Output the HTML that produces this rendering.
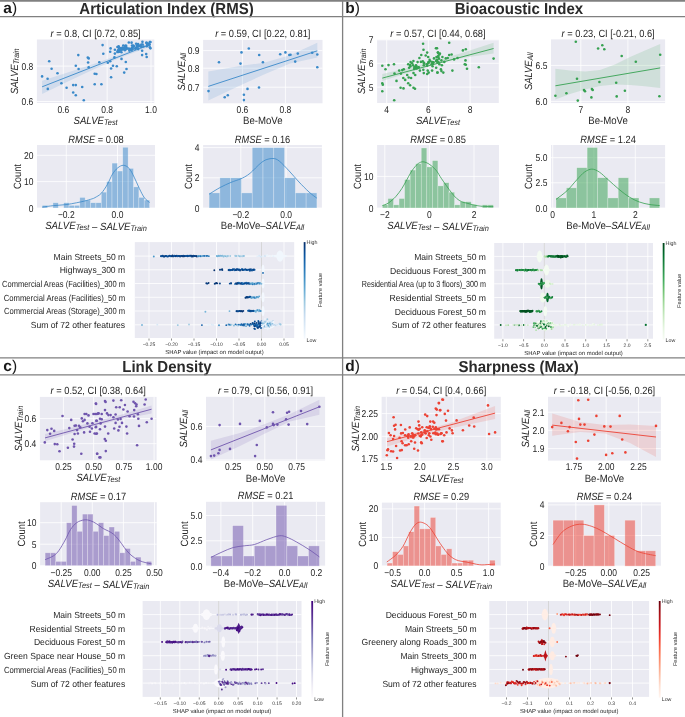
<!DOCTYPE html>
<html><head><meta charset="utf-8"><style>
html,body{margin:0;padding:0;background:#fff;}
svg{display:block;font-family:'Liberation Sans', sans-serif;will-change:transform;text-rendering:geometricPrecision;}
</style></head><body>
<svg width="685" height="717" viewBox="0 0 685 717">
<rect x="0" y="0" width="685" height="717" fill="#FFFFFF" />
<text x="3.3" y="12.9" font-size="15.5" text-anchor="start" fill="#1a1a1a" font-weight="bold" >a<tspan font-weight="normal">)</tspan></text>
<text x="0" y="0" transform="translate(166.5,14) scale(0.945,1)" font-size="15.9" text-anchor="middle" fill="#2a2a2a" font-weight="bold" >Articulation Index (RMS)</text>
<text x="345.3" y="12.9" font-size="15.5" text-anchor="start" fill="#1a1a1a" font-weight="bold" >b<tspan font-weight="normal">)</tspan></text>
<text x="0" y="0" transform="translate(518.9,14) scale(0.945,1)" font-size="15.9" text-anchor="middle" fill="#2a2a2a" font-weight="bold" >Bioacoustic Index</text>
<text x="3.3" y="371" font-size="15.5" text-anchor="start" fill="#1a1a1a" font-weight="bold" >c<tspan font-weight="normal">)</tspan></text>
<text x="0" y="0" transform="translate(166.9,372.1) scale(0.945,1)" font-size="15.9" text-anchor="middle" fill="#2a2a2a" font-weight="bold" >Link Density</text>
<text x="345.3" y="371" font-size="15.5" text-anchor="start" fill="#1a1a1a" font-weight="bold" >d<tspan font-weight="normal">)</tspan></text>
<text x="0" y="0" transform="translate(518.6,372.1) scale(0.945,1)" font-size="15.9" text-anchor="middle" fill="#2a2a2a" font-weight="bold" >Sharpness (Max)</text>
<rect x="36.9" y="39.5" width="117.4" height="63.5" fill="#EAEAF2" />
<line x1="63.3" y1="39.5" x2="63.3" y2="103" stroke="#FFFFFF" stroke-width="0.8" />
<line x1="107.15" y1="39.5" x2="107.15" y2="103" stroke="#FFFFFF" stroke-width="0.8" />
<line x1="151" y1="39.5" x2="151" y2="103" stroke="#FFFFFF" stroke-width="0.8" />
<line x1="36.9" y1="66.1" x2="154.3" y2="66.1" stroke="#FFFFFF" stroke-width="0.8" />
<line x1="36.9" y1="101.5" x2="154.3" y2="101.5" stroke="#FFFFFF" stroke-width="0.8" />
<path d="M42.1,80.7 L70,71.8 L95,63.6 L120,54.6 L150.5,42 L150.5,46.4 L120,57.8 L95,68.8 L70,80.5 L42.1,93.9Z" fill="#3A89C9" fill-opacity="0.15"/>
<line x1="42.1" y1="86.8" x2="150.5" y2="44.3" stroke="#3A89C9" stroke-width="0.9" />
<circle cx="42.1" cy="76.4" r="1.3" fill="#3A89C9"/>
<circle cx="49.2" cy="61.2" r="1.3" fill="#3A89C9"/>
<circle cx="51.6" cy="68.8" r="1.3" fill="#3A89C9"/>
<circle cx="47.6" cy="78.8" r="1.3" fill="#3A89C9"/>
<circle cx="47.8" cy="88.9" r="1.3" fill="#3A89C9"/>
<circle cx="57.5" cy="73.3" r="1.3" fill="#3A89C9"/>
<circle cx="61.4" cy="83.3" r="1.3" fill="#3A89C9"/>
<circle cx="66.6" cy="87.8" r="1.3" fill="#3A89C9"/>
<circle cx="73.2" cy="85.1" r="1.3" fill="#3A89C9"/>
<circle cx="75.8" cy="85.1" r="1.3" fill="#3A89C9"/>
<circle cx="73.2" cy="92.5" r="1.3" fill="#3A89C9"/>
<circle cx="75.8" cy="95.3" r="1.3" fill="#3A89C9"/>
<circle cx="82.2" cy="87" r="1.3" fill="#3A89C9"/>
<circle cx="83.8" cy="100.3" r="1.3" fill="#3A89C9"/>
<circle cx="78.3" cy="55.1" r="1.3" fill="#3A89C9"/>
<circle cx="75.8" cy="65.7" r="1.3" fill="#3A89C9"/>
<circle cx="78.6" cy="69" r="1.3" fill="#3A89C9"/>
<circle cx="87.8" cy="57.6" r="1.3" fill="#3A89C9"/>
<circle cx="88.7" cy="58.4" r="1.3" fill="#3A89C9"/>
<circle cx="88.1" cy="62.5" r="1.3" fill="#3A89C9"/>
<circle cx="88.7" cy="67.2" r="1.3" fill="#3A89C9"/>
<circle cx="94.7" cy="73.8" r="1.3" fill="#3A89C9"/>
<circle cx="94.7" cy="84.3" r="1.3" fill="#3A89C9"/>
<circle cx="102.6" cy="45.1" r="1.3" fill="#3A89C9"/>
<circle cx="103.3" cy="53.8" r="1.3" fill="#3A89C9"/>
<circle cx="99.3" cy="62.2" r="1.3" fill="#3A89C9"/>
<circle cx="96.4" cy="74" r="1.3" fill="#3A89C9"/>
<circle cx="101.4" cy="84.2" r="1.3" fill="#3A89C9"/>
<circle cx="107.8" cy="62.8" r="1.3" fill="#3A89C9"/>
<circle cx="110.2" cy="61.2" r="1.3" fill="#3A89C9"/>
<circle cx="110.6" cy="48.4" r="1.3" fill="#3A89C9"/>
<circle cx="110.2" cy="51.7" r="1.3" fill="#3A89C9"/>
<circle cx="113" cy="65.7" r="1.3" fill="#3A89C9"/>
<circle cx="111.1" cy="68.5" r="1.3" fill="#3A89C9"/>
<circle cx="116.8" cy="66.2" r="1.3" fill="#3A89C9"/>
<circle cx="111.1" cy="77.3" r="1.3" fill="#3A89C9"/>
<circle cx="114.9" cy="49.8" r="1.3" fill="#3A89C9"/>
<circle cx="114.9" cy="53.6" r="1.3" fill="#3A89C9"/>
<circle cx="114.4" cy="57.4" r="1.3" fill="#3A89C9"/>
<circle cx="121.5" cy="58.9" r="1.3" fill="#3A89C9"/>
<circle cx="125.8" cy="62" r="1.3" fill="#3A89C9"/>
<circle cx="126.5" cy="69" r="1.3" fill="#3A89C9"/>
<circle cx="124.2" cy="72.6" r="1.3" fill="#3A89C9"/>
<circle cx="142.1" cy="55.1" r="1.3" fill="#3A89C9"/>
<circle cx="146.2" cy="54.1" r="1.3" fill="#3A89C9"/>
<circle cx="146.7" cy="57" r="1.3" fill="#3A89C9"/>
<circle cx="131.61" cy="42.67" r="1.3" fill="#3A89C9"/>
<circle cx="132.06" cy="45.53" r="1.3" fill="#3A89C9"/>
<circle cx="133.52" cy="45.92" r="1.3" fill="#3A89C9"/>
<circle cx="133.66" cy="46.38" r="1.3" fill="#3A89C9"/>
<circle cx="137.73" cy="46.64" r="1.3" fill="#3A89C9"/>
<circle cx="126.47" cy="47.53" r="1.3" fill="#3A89C9"/>
<circle cx="119.13" cy="51.2" r="1.3" fill="#3A89C9"/>
<circle cx="117.44" cy="46.93" r="1.3" fill="#3A89C9"/>
<circle cx="149.89" cy="47.33" r="1.3" fill="#3A89C9"/>
<circle cx="137.24" cy="45.73" r="1.3" fill="#3A89C9"/>
<circle cx="121.43" cy="52.27" r="1.3" fill="#3A89C9"/>
<circle cx="118.05" cy="50.38" r="1.3" fill="#3A89C9"/>
<circle cx="122.56" cy="49.28" r="1.3" fill="#3A89C9"/>
<circle cx="132.01" cy="48.03" r="1.3" fill="#3A89C9"/>
<circle cx="131.2" cy="49.14" r="1.3" fill="#3A89C9"/>
<circle cx="138.09" cy="43.98" r="1.3" fill="#3A89C9"/>
<circle cx="133.24" cy="45.89" r="1.3" fill="#3A89C9"/>
<circle cx="125.6" cy="46.51" r="1.3" fill="#3A89C9"/>
<circle cx="150.42" cy="48.36" r="1.3" fill="#3A89C9"/>
<circle cx="140.42" cy="45.74" r="1.3" fill="#3A89C9"/>
<circle cx="126.88" cy="48.68" r="1.3" fill="#3A89C9"/>
<circle cx="118.42" cy="51.92" r="1.3" fill="#3A89C9"/>
<circle cx="142.44" cy="41.87" r="1.3" fill="#3A89C9"/>
<circle cx="129.33" cy="50.58" r="1.3" fill="#3A89C9"/>
<circle cx="149.05" cy="44.26" r="1.3" fill="#3A89C9"/>
<circle cx="123.24" cy="49.06" r="1.3" fill="#3A89C9"/>
<circle cx="147.4" cy="45.4" r="1.3" fill="#3A89C9"/>
<circle cx="129.71" cy="49.1" r="1.3" fill="#3A89C9"/>
<circle cx="118.52" cy="47.28" r="1.3" fill="#3A89C9"/>
<circle cx="125.31" cy="45.83" r="1.3" fill="#3A89C9"/>
<circle cx="119.01" cy="46.99" r="1.3" fill="#3A89C9"/>
<circle cx="142.15" cy="50.68" r="1.3" fill="#3A89C9"/>
<circle cx="120.07" cy="49.75" r="1.3" fill="#3A89C9"/>
<circle cx="118.07" cy="51.17" r="1.3" fill="#3A89C9"/>
<circle cx="143.5" cy="46.57" r="1.3" fill="#3A89C9"/>
<circle cx="131.44" cy="50.21" r="1.3" fill="#3A89C9"/>
<circle cx="122.58" cy="49.11" r="1.3" fill="#3A89C9"/>
<circle cx="138.21" cy="45.07" r="1.3" fill="#3A89C9"/>
<circle cx="120.02" cy="48.34" r="1.3" fill="#3A89C9"/>
<circle cx="125.31" cy="49.49" r="1.3" fill="#3A89C9"/>
<circle cx="149.5" cy="44.78" r="1.3" fill="#3A89C9"/>
<circle cx="146.53" cy="42.85" r="1.3" fill="#3A89C9"/>
<circle cx="123.27" cy="45.56" r="1.3" fill="#3A89C9"/>
<circle cx="138.14" cy="49.08" r="1.3" fill="#3A89C9"/>
<circle cx="119.46" cy="51.43" r="1.3" fill="#3A89C9"/>
<circle cx="124.91" cy="48.7" r="1.3" fill="#3A89C9"/>
<circle cx="142.66" cy="44.52" r="1.3" fill="#3A89C9"/>
<circle cx="118.53" cy="51.71" r="1.3" fill="#3A89C9"/>
<circle cx="119.11" cy="48.42" r="1.3" fill="#3A89C9"/>
<circle cx="136.74" cy="45.71" r="1.3" fill="#3A89C9"/>
<circle cx="128.82" cy="42.5" r="1.3" fill="#3A89C9"/>
<circle cx="132.69" cy="49.01" r="1.3" fill="#3A89C9"/>
<circle cx="135.82" cy="47.71" r="1.3" fill="#3A89C9"/>
<circle cx="121.32" cy="48.4" r="1.3" fill="#3A89C9"/>
<circle cx="147.34" cy="45.27" r="1.3" fill="#3A89C9"/>
<circle cx="122.55" cy="47.67" r="1.3" fill="#3A89C9"/>
<circle cx="141.51" cy="47.07" r="1.3" fill="#3A89C9"/>
<circle cx="148.78" cy="43.72" r="1.3" fill="#3A89C9"/>
<circle cx="146.44" cy="42.8" r="1.3" fill="#3A89C9"/>
<circle cx="119.58" cy="48.36" r="1.3" fill="#3A89C9"/>
<circle cx="117.34" cy="51.9" r="1.3" fill="#3A89C9"/>
<circle cx="140.31" cy="45.49" r="1.3" fill="#3A89C9"/>
<circle cx="124.87" cy="50.2" r="1.3" fill="#3A89C9"/>
<circle cx="126.12" cy="45.8" r="1.3" fill="#3A89C9"/>
<circle cx="122.05" cy="49.19" r="1.3" fill="#3A89C9"/>
<circle cx="123.88" cy="48.15" r="1.3" fill="#3A89C9"/>
<circle cx="135.3" cy="48.74" r="1.3" fill="#3A89C9"/>
<circle cx="125.67" cy="46.12" r="1.3" fill="#3A89C9"/>
<circle cx="147.65" cy="44.61" r="1.3" fill="#3A89C9"/>
<circle cx="125.29" cy="49.14" r="1.3" fill="#3A89C9"/>
<circle cx="131.38" cy="48.91" r="1.3" fill="#3A89C9"/>
<circle cx="128.72" cy="48.61" r="1.3" fill="#3A89C9"/>
<circle cx="135.74" cy="48.23" r="1.3" fill="#3A89C9"/>
<circle cx="146.74" cy="46.26" r="1.3" fill="#3A89C9"/>
<circle cx="149.83" cy="42.13" r="1.3" fill="#3A89C9"/>
<circle cx="136.16" cy="43.73" r="1.3" fill="#3A89C9"/>
<circle cx="120.84" cy="50.01" r="1.3" fill="#3A89C9"/>
<circle cx="147.4" cy="44.63" r="1.3" fill="#3A89C9"/>
<circle cx="140.18" cy="46.37" r="1.3" fill="#3A89C9"/>
<circle cx="137.95" cy="46.22" r="1.3" fill="#3A89C9"/>
<circle cx="132.64" cy="47.09" r="1.3" fill="#3A89C9"/>
<circle cx="150.48" cy="41.95" r="1.3" fill="#3A89C9"/>
<circle cx="118.6" cy="46.4" r="1.3" fill="#3A89C9"/>
<circle cx="147.06" cy="43.53" r="1.3" fill="#3A89C9"/>
<circle cx="141.43" cy="44.5" r="1.3" fill="#3A89C9"/>
<text x="0" y="0" transform="translate(63.3,112.8) scale(0.86,1)" font-size="9.9" text-anchor="middle" fill="#262626" >0.6</text>
<text x="0" y="0" transform="translate(107.15,112.8) scale(0.86,1)" font-size="9.9" text-anchor="middle" fill="#262626" >0.8</text>
<text x="0" y="0" transform="translate(151,112.8) scale(0.86,1)" font-size="9.9" text-anchor="middle" fill="#262626" >1.0</text>
<text x="0" y="0" transform="translate(33.3,69.6) scale(0.86,1)" font-size="9.9" text-anchor="end" fill="#262626" >0.8</text>
<text x="0" y="0" transform="translate(33.3,105) scale(0.86,1)" font-size="9.9" text-anchor="end" fill="#262626" >0.6</text>
<text x="0" y="0" transform="translate(95.6,37) scale(0.89,1)" font-size="10.45" text-anchor="middle" fill="#262626" ><tspan font-style="italic">r</tspan> = 0.8, CI [0.72, 0.85]</text>
<text x="0" y="0" transform="translate(95.6,124.1) scale(0.915,1)" font-size="10.5" text-anchor="middle" fill="#262626" ><tspan font-style="italic">SALVE</tspan><tspan font-style="italic" font-size="8.09" dy="1.0">Test</tspan><tspan dy="-1.0"></tspan></text>
<text x="0" y="0" font-size="10.5" text-anchor="middle" fill="#262626" transform="translate(18.3,71.25) rotate(-90) scale(0.89,1)"><tspan font-style="italic">SALVE</tspan><tspan font-style="italic" font-size="8.09" dy="1.0">Train</tspan><tspan dy="-1.0"></tspan></text>
<rect x="203.1" y="39.9" width="119.4" height="63.4" fill="#EAEAF2" />
<line x1="242.4" y1="39.9" x2="242.4" y2="103.3" stroke="#FFFFFF" stroke-width="0.8" />
<line x1="285.4" y1="39.9" x2="285.4" y2="103.3" stroke="#FFFFFF" stroke-width="0.8" />
<line x1="203.1" y1="50.6" x2="322.5" y2="50.6" stroke="#FFFFFF" stroke-width="0.8" />
<line x1="203.1" y1="68.2" x2="322.5" y2="68.2" stroke="#FFFFFF" stroke-width="0.8" />
<line x1="203.1" y1="87.2" x2="322.5" y2="87.2" stroke="#FFFFFF" stroke-width="0.8" />
<path d="M208.3,71.6 L240,66 L264,62.8 L290,55.2 L317.3,42.8 L317.3,57.5 L290,63.4 L264,74.5 L240,85.5 L208.3,100.4Z" fill="#3A89C9" fill-opacity="0.15"/>
<line x1="208.3" y1="86.4" x2="317.3" y2="50.8" stroke="#3A89C9" stroke-width="0.9" />
<circle cx="208.5" cy="91.1" r="1.3" fill="#3A89C9"/>
<circle cx="219" cy="62.3" r="1.3" fill="#3A89C9"/>
<circle cx="224.7" cy="97.3" r="1.3" fill="#3A89C9"/>
<circle cx="227.8" cy="95.2" r="1.3" fill="#3A89C9"/>
<circle cx="240.5" cy="63.6" r="1.3" fill="#3A89C9"/>
<circle cx="241.5" cy="52.4" r="1.3" fill="#3A89C9"/>
<circle cx="248.8" cy="48.5" r="1.3" fill="#3A89C9"/>
<circle cx="243.9" cy="94.8" r="1.3" fill="#3A89C9"/>
<circle cx="243.9" cy="100.1" r="1.3" fill="#3A89C9"/>
<circle cx="247.5" cy="88.9" r="1.3" fill="#3A89C9"/>
<circle cx="259.2" cy="55" r="1.3" fill="#3A89C9"/>
<circle cx="259" cy="87.5" r="1.3" fill="#3A89C9"/>
<circle cx="262.9" cy="62.3" r="1.3" fill="#3A89C9"/>
<circle cx="280.2" cy="54.3" r="1.3" fill="#3A89C9"/>
<circle cx="285.4" cy="52.4" r="1.3" fill="#3A89C9"/>
<circle cx="289.3" cy="55" r="1.3" fill="#3A89C9"/>
<circle cx="290.5" cy="54.8" r="1.3" fill="#3A89C9"/>
<circle cx="297.8" cy="53.6" r="1.3" fill="#3A89C9"/>
<circle cx="295.2" cy="61.6" r="1.3" fill="#3A89C9"/>
<circle cx="312.2" cy="52.8" r="1.3" fill="#3A89C9"/>
<circle cx="317.3" cy="54.5" r="1.3" fill="#3A89C9"/>
<circle cx="317.3" cy="67.2" r="1.3" fill="#3A89C9"/>
<text x="0" y="0" transform="translate(242.4,113.1) scale(0.86,1)" font-size="9.9" text-anchor="middle" fill="#262626" >0.6</text>
<text x="0" y="0" transform="translate(285.4,113.1) scale(0.86,1)" font-size="9.9" text-anchor="middle" fill="#262626" >0.8</text>
<text x="0" y="0" transform="translate(199.5,54.1) scale(0.86,1)" font-size="9.9" text-anchor="end" fill="#262626" >0.9</text>
<text x="0" y="0" transform="translate(199.5,71.7) scale(0.86,1)" font-size="9.9" text-anchor="end" fill="#262626" >0.8</text>
<text x="0" y="0" transform="translate(199.5,90.7) scale(0.86,1)" font-size="9.9" text-anchor="end" fill="#262626" >0.7</text>
<text x="0" y="0" transform="translate(262.8,37.4) scale(0.89,1)" font-size="10.45" text-anchor="middle" fill="#262626" ><tspan font-style="italic">r</tspan> = 0.59, CI [0.22, 0.81]</text>
<text x="0" y="0" transform="translate(262.8,124.4) scale(0.915,1)" font-size="10.5" text-anchor="middle" fill="#262626" >Be-MoVe</text>
<text x="0" y="0" font-size="10.5" text-anchor="middle" fill="#262626" transform="translate(184.7,71.6) rotate(-90) scale(0.89,1)"><tspan font-style="italic">SALVE</tspan><tspan font-style="italic" font-size="8.09" dy="1.0">All</tspan><tspan dy="-1.0"></tspan></text>
<rect x="37" y="145" width="118" height="63" fill="#EAEAF2" />
<line x1="66.3" y1="145" x2="66.3" y2="208" stroke="#FFFFFF" stroke-width="0.8" />
<line x1="117.5" y1="145" x2="117.5" y2="208" stroke="#FFFFFF" stroke-width="0.8" />
<line x1="37" y1="208" x2="155" y2="208" stroke="#FFFFFF" stroke-width="0.8" />
<line x1="37" y1="181.6" x2="155" y2="181.6" stroke="#FFFFFF" stroke-width="0.8" />
<line x1="37" y1="155.3" x2="155" y2="155.3" stroke="#FFFFFF" stroke-width="0.8" />
<rect x="42.2" y="205.36" width="5.37" height="2.64" fill="#3A89C9" fill-opacity="0.52" stroke="#FFFFFF" stroke-opacity="0.45" stroke-width="0.6"/>
<rect x="52.94" y="202.72" width="5.37" height="5.28" fill="#3A89C9" fill-opacity="0.52" stroke="#FFFFFF" stroke-opacity="0.45" stroke-width="0.6"/>
<rect x="63.68" y="202.72" width="5.37" height="5.28" fill="#3A89C9" fill-opacity="0.52" stroke="#FFFFFF" stroke-opacity="0.45" stroke-width="0.6"/>
<rect x="69.05" y="205.36" width="5.37" height="2.64" fill="#3A89C9" fill-opacity="0.52" stroke="#FFFFFF" stroke-opacity="0.45" stroke-width="0.6"/>
<rect x="74.42" y="205.36" width="5.37" height="2.64" fill="#3A89C9" fill-opacity="0.52" stroke="#FFFFFF" stroke-opacity="0.45" stroke-width="0.6"/>
<rect x="79.79" y="197.44" width="5.37" height="10.56" fill="#3A89C9" fill-opacity="0.52" stroke="#FFFFFF" stroke-opacity="0.45" stroke-width="0.6"/>
<rect x="85.16" y="200.08" width="5.37" height="7.92" fill="#3A89C9" fill-opacity="0.52" stroke="#FFFFFF" stroke-opacity="0.45" stroke-width="0.6"/>
<rect x="90.53" y="202.72" width="5.37" height="5.28" fill="#3A89C9" fill-opacity="0.52" stroke="#FFFFFF" stroke-opacity="0.45" stroke-width="0.6"/>
<rect x="95.9" y="202.72" width="5.37" height="5.28" fill="#3A89C9" fill-opacity="0.52" stroke="#FFFFFF" stroke-opacity="0.45" stroke-width="0.6"/>
<rect x="101.27" y="192.16" width="5.37" height="15.84" fill="#3A89C9" fill-opacity="0.52" stroke="#FFFFFF" stroke-opacity="0.45" stroke-width="0.6"/>
<rect x="106.64" y="181.6" width="5.37" height="26.4" fill="#3A89C9" fill-opacity="0.52" stroke="#FFFFFF" stroke-opacity="0.45" stroke-width="0.6"/>
<rect x="112.01" y="163.12" width="5.37" height="44.88" fill="#3A89C9" fill-opacity="0.52" stroke="#FFFFFF" stroke-opacity="0.45" stroke-width="0.6"/>
<rect x="117.38" y="171.04" width="5.37" height="36.96" fill="#3A89C9" fill-opacity="0.52" stroke="#FFFFFF" stroke-opacity="0.45" stroke-width="0.6"/>
<rect x="122.75" y="147.28" width="5.37" height="60.72" fill="#3A89C9" fill-opacity="0.52" stroke="#FFFFFF" stroke-opacity="0.45" stroke-width="0.6"/>
<rect x="128.12" y="168.4" width="5.37" height="39.6" fill="#3A89C9" fill-opacity="0.52" stroke="#FFFFFF" stroke-opacity="0.45" stroke-width="0.6"/>
<rect x="133.49" y="186.88" width="5.37" height="21.12" fill="#3A89C9" fill-opacity="0.52" stroke="#FFFFFF" stroke-opacity="0.45" stroke-width="0.6"/>
<rect x="138.86" y="197.44" width="5.37" height="10.56" fill="#3A89C9" fill-opacity="0.52" stroke="#FFFFFF" stroke-opacity="0.45" stroke-width="0.6"/>
<rect x="144.23" y="200.08" width="5.37" height="7.92" fill="#3A89C9" fill-opacity="0.52" stroke="#FFFFFF" stroke-opacity="0.45" stroke-width="0.6"/>
<path d="M42.2,207.1 C44.12,206.85 49.72,206.02 53.7,205.6 C57.68,205.18 62.32,205.07 66.1,204.6 C69.88,204.13 73.3,203.4 76.4,202.8 C79.5,202.2 82.12,201.65 84.7,201 C87.28,200.35 90.18,199.47 91.9,198.9 C93.62,198.33 93.45,198.52 95,197.6 C96.55,196.68 99.13,195.6 101.2,193.4 C103.27,191.2 105.52,187.62 107.4,184.4 C109.28,181.18 110.78,176.85 112.5,174.1 C114.22,171.35 115.88,169.37 117.7,167.9 C119.52,166.43 121.5,165.22 123.4,165.3 C125.3,165.38 127.3,166.42 129.1,168.4 C130.9,170.38 132.48,173.83 134.2,177.2 C135.92,180.57 137.68,185.15 139.4,188.6 C141.12,192.05 142.78,195.58 144.5,197.9 C146.22,200.22 148.83,201.73 149.7,202.5" fill="none" stroke="#3A89C9" stroke-width="0.8"/>
<text x="0" y="0" transform="translate(66.3,217.8) scale(0.86,1)" font-size="9.9" text-anchor="middle" fill="#262626" >−0.2</text>
<text x="0" y="0" transform="translate(117.5,217.8) scale(0.86,1)" font-size="9.9" text-anchor="middle" fill="#262626" >0.0</text>
<text x="0" y="0" transform="translate(33.4,211.5) scale(0.86,1)" font-size="9.9" text-anchor="end" fill="#262626" >0</text>
<text x="0" y="0" transform="translate(33.4,185.1) scale(0.86,1)" font-size="9.9" text-anchor="end" fill="#262626" >10</text>
<text x="0" y="0" transform="translate(33.4,158.8) scale(0.86,1)" font-size="9.9" text-anchor="end" fill="#262626" >20</text>
<text x="0" y="0" transform="translate(96,142.5) scale(0.89,1)" font-size="10.45" text-anchor="middle" fill="#262626" ><tspan font-style="italic">RMSE</tspan> = 0.08</text>
<text x="0" y="0" transform="translate(96,229.1) scale(0.915,1)" font-size="10.5" text-anchor="middle" fill="#262626" ><tspan font-style="italic">SALVE</tspan><tspan font-style="italic" font-size="8.09" dy="1.0">Test</tspan><tspan dy="-1.0"></tspan> – <tspan font-style="italic">SALVE</tspan><tspan font-style="italic" font-size="8.09" dy="1.0">Train</tspan><tspan dy="-1.0"></tspan></text>
<text x="0" y="0" font-size="10.5" text-anchor="middle" fill="#262626" transform="translate(21.3,176.5) rotate(-90) scale(0.89,1)">Count</text>
<rect x="203.1" y="145" width="118.8" height="63" fill="#EAEAF2" />
<line x1="240.8" y1="145" x2="240.8" y2="208" stroke="#FFFFFF" stroke-width="0.8" />
<line x1="286.1" y1="145" x2="286.1" y2="208" stroke="#FFFFFF" stroke-width="0.8" />
<line x1="203.1" y1="208" x2="321.9" y2="208" stroke="#FFFFFF" stroke-width="0.8" />
<line x1="203.1" y1="177.8" x2="321.9" y2="177.8" stroke="#FFFFFF" stroke-width="0.8" />
<line x1="203.1" y1="147.6" x2="321.9" y2="147.6" stroke="#FFFFFF" stroke-width="0.8" />
<rect x="209.1" y="192.9" width="10.78" height="15.1" fill="#3A89C9" fill-opacity="0.52" stroke="#FFFFFF" stroke-opacity="0.45" stroke-width="0.6"/>
<rect x="219.88" y="177.8" width="10.78" height="30.2" fill="#3A89C9" fill-opacity="0.52" stroke="#FFFFFF" stroke-opacity="0.45" stroke-width="0.6"/>
<rect x="230.66" y="177.8" width="10.78" height="30.2" fill="#3A89C9" fill-opacity="0.52" stroke="#FFFFFF" stroke-opacity="0.45" stroke-width="0.6"/>
<rect x="241.44" y="192.9" width="10.78" height="15.1" fill="#3A89C9" fill-opacity="0.52" stroke="#FFFFFF" stroke-opacity="0.45" stroke-width="0.6"/>
<rect x="252.22" y="147.6" width="10.78" height="60.4" fill="#3A89C9" fill-opacity="0.52" stroke="#FFFFFF" stroke-opacity="0.45" stroke-width="0.6"/>
<rect x="263" y="147.6" width="10.78" height="60.4" fill="#3A89C9" fill-opacity="0.52" stroke="#FFFFFF" stroke-opacity="0.45" stroke-width="0.6"/>
<rect x="273.78" y="147.6" width="10.78" height="60.4" fill="#3A89C9" fill-opacity="0.52" stroke="#FFFFFF" stroke-opacity="0.45" stroke-width="0.6"/>
<rect x="284.56" y="177.8" width="10.78" height="30.2" fill="#3A89C9" fill-opacity="0.52" stroke="#FFFFFF" stroke-opacity="0.45" stroke-width="0.6"/>
<rect x="295.34" y="192.9" width="10.78" height="15.1" fill="#3A89C9" fill-opacity="0.52" stroke="#FFFFFF" stroke-opacity="0.45" stroke-width="0.6"/>
<rect x="306.12" y="192.9" width="10.78" height="15.1" fill="#3A89C9" fill-opacity="0.52" stroke="#FFFFFF" stroke-opacity="0.45" stroke-width="0.6"/>
<path d="M209.1,194.2 C210.93,193.08 216.45,189.47 220.1,187.5 C223.75,185.53 227.55,183.85 231,182.4 C234.45,180.95 238.05,180 240.8,178.8 C243.55,177.6 245.53,176.5 247.5,175.2 C249.47,173.9 250.72,172.73 252.6,171 C254.48,169.27 256.73,166.6 258.8,164.8 C260.87,163 262.63,161.25 265,160.2 C267.37,159.15 270.63,158.37 273,158.5 C275.37,158.63 276.52,158.93 279.2,161 C281.88,163.07 285.8,167.4 289.1,170.9 C292.4,174.4 295.68,178.48 299,182 C302.32,185.52 306.02,189.3 309,192 C311.98,194.7 315.58,197.17 316.9,198.2" fill="none" stroke="#3A89C9" stroke-width="0.8"/>
<text x="0" y="0" transform="translate(240.8,217.8) scale(0.86,1)" font-size="9.9" text-anchor="middle" fill="#262626" >−0.2</text>
<text x="0" y="0" transform="translate(286.1,217.8) scale(0.86,1)" font-size="9.9" text-anchor="middle" fill="#262626" >0.0</text>
<text x="0" y="0" transform="translate(199.5,211.5) scale(0.86,1)" font-size="9.9" text-anchor="end" fill="#262626" >0</text>
<text x="0" y="0" transform="translate(199.5,181.3) scale(0.86,1)" font-size="9.9" text-anchor="end" fill="#262626" >2</text>
<text x="0" y="0" transform="translate(199.5,151.1) scale(0.86,1)" font-size="9.9" text-anchor="end" fill="#262626" >4</text>
<text x="0" y="0" transform="translate(262.5,142.5) scale(0.89,1)" font-size="10.45" text-anchor="middle" fill="#262626" ><tspan font-style="italic">RMSE</tspan> = 0.16</text>
<text x="0" y="0" transform="translate(262.5,229.1) scale(0.915,1)" font-size="10.5" text-anchor="middle" fill="#262626" >Be-MoVe–<tspan font-style="italic">SALVE</tspan><tspan font-style="italic" font-size="8.09" dy="1.0">All</tspan><tspan dy="-1.0"></tspan></text>
<text x="0" y="0" font-size="10.5" text-anchor="middle" fill="#262626" transform="translate(192,176.5) rotate(-90) scale(0.89,1)">Count</text>
<rect x="377.1" y="39.7" width="121.7" height="63.3" fill="#EAEAF2" />
<line x1="386.7" y1="39.7" x2="386.7" y2="103" stroke="#FFFFFF" stroke-width="0.8" />
<line x1="428.4" y1="39.7" x2="428.4" y2="103" stroke="#FFFFFF" stroke-width="0.8" />
<line x1="470.1" y1="39.7" x2="470.1" y2="103" stroke="#FFFFFF" stroke-width="0.8" />
<line x1="377.1" y1="39.9" x2="498.8" y2="39.9" stroke="#FFFFFF" stroke-width="0.8" />
<line x1="377.1" y1="63.3" x2="498.8" y2="63.3" stroke="#FFFFFF" stroke-width="0.8" />
<line x1="377.1" y1="87.1" x2="498.8" y2="87.1" stroke="#FFFFFF" stroke-width="0.8" />
<path d="M382.3,74 L410,67.5 L437,60.5 L465,52 L493.6,42.8 L493.6,53.6 L465,57.5 L437,63.8 L410,72.2 L382.3,81Z" fill="#36A151" fill-opacity="0.15"/>
<line x1="382.3" y1="78.1" x2="493.6" y2="48.5" stroke="#36A151" stroke-width="0.9" />
<circle cx="382.3" cy="65.8" r="1.3" fill="#36A151"/>
<circle cx="385.5" cy="69.2" r="1.3" fill="#36A151"/>
<circle cx="388.5" cy="65.1" r="1.3" fill="#36A151"/>
<circle cx="394" cy="64.3" r="1.3" fill="#36A151"/>
<circle cx="382.3" cy="83.3" r="1.3" fill="#36A151"/>
<circle cx="382.8" cy="84.8" r="1.3" fill="#36A151"/>
<circle cx="382.3" cy="91.3" r="1.3" fill="#36A151"/>
<circle cx="394.2" cy="100.2" r="1.3" fill="#36A151"/>
<circle cx="396.5" cy="80.9" r="1.3" fill="#36A151"/>
<circle cx="394.5" cy="73.6" r="1.3" fill="#36A151"/>
<circle cx="399.2" cy="70.6" r="1.3" fill="#36A151"/>
<circle cx="400.9" cy="73.6" r="1.3" fill="#36A151"/>
<circle cx="402.3" cy="70.1" r="1.3" fill="#36A151"/>
<circle cx="403.8" cy="69.2" r="1.3" fill="#36A151"/>
<circle cx="403.3" cy="78" r="1.3" fill="#36A151"/>
<circle cx="405.2" cy="79.9" r="1.3" fill="#36A151"/>
<circle cx="400.6" cy="87.7" r="1.3" fill="#36A151"/>
<circle cx="403.5" cy="88.4" r="1.3" fill="#36A151"/>
<circle cx="408.2" cy="64.3" r="1.3" fill="#36A151"/>
<circle cx="409.1" cy="67.7" r="1.3" fill="#36A151"/>
<circle cx="410.6" cy="62.1" r="1.3" fill="#36A151"/>
<circle cx="412.1" cy="63.3" r="1.3" fill="#36A151"/>
<circle cx="413" cy="65.3" r="1.3" fill="#36A151"/>
<circle cx="407.2" cy="75" r="1.3" fill="#36A151"/>
<circle cx="408.7" cy="77.5" r="1.3" fill="#36A151"/>
<circle cx="411.1" cy="78" r="1.3" fill="#36A151"/>
<circle cx="408.2" cy="83.3" r="1.3" fill="#36A151"/>
<circle cx="410.1" cy="85.3" r="1.3" fill="#36A151"/>
<circle cx="413.5" cy="87.7" r="1.3" fill="#36A151"/>
<circle cx="415" cy="88.7" r="1.3" fill="#36A151"/>
<circle cx="413.5" cy="73.1" r="1.3" fill="#36A151"/>
<circle cx="415.2" cy="75" r="1.3" fill="#36A151"/>
<circle cx="416" cy="65.3" r="1.3" fill="#36A151"/>
<circle cx="417.6" cy="62.1" r="1.3" fill="#36A151"/>
<circle cx="417" cy="68.2" r="1.3" fill="#36A151"/>
<circle cx="418.4" cy="67.2" r="1.3" fill="#36A151"/>
<circle cx="419.4" cy="58" r="1.3" fill="#36A151"/>
<circle cx="421.3" cy="55" r="1.3" fill="#36A151"/>
<circle cx="420.9" cy="61.9" r="1.3" fill="#36A151"/>
<circle cx="423.5" cy="49.7" r="1.3" fill="#36A151"/>
<circle cx="423.1" cy="43.8" r="1.3" fill="#36A151"/>
<circle cx="422.8" cy="61.4" r="1.3" fill="#36A151"/>
<circle cx="423.8" cy="65.3" r="1.3" fill="#36A151"/>
<circle cx="423.3" cy="69.7" r="1.3" fill="#36A151"/>
<circle cx="423.8" cy="73.1" r="1.3" fill="#36A151"/>
<circle cx="419.9" cy="70.6" r="1.3" fill="#36A151"/>
<circle cx="425.7" cy="55.5" r="1.3" fill="#36A151"/>
<circle cx="427.2" cy="52.6" r="1.3" fill="#36A151"/>
<circle cx="428.2" cy="57" r="1.3" fill="#36A151"/>
<circle cx="429.6" cy="59.9" r="1.3" fill="#36A151"/>
<circle cx="426.7" cy="64.3" r="1.3" fill="#36A151"/>
<circle cx="427.7" cy="70.6" r="1.3" fill="#36A151"/>
<circle cx="427.2" cy="74" r="1.3" fill="#36A151"/>
<circle cx="428.7" cy="72.6" r="1.3" fill="#36A151"/>
<circle cx="432.1" cy="70.6" r="1.3" fill="#36A151"/>
<circle cx="431.6" cy="64.3" r="1.3" fill="#36A151"/>
<circle cx="433.5" cy="62.3" r="1.3" fill="#36A151"/>
<circle cx="432.6" cy="66.2" r="1.3" fill="#36A151"/>
<circle cx="434" cy="58.4" r="1.3" fill="#36A151"/>
<circle cx="436" cy="48.2" r="1.3" fill="#36A151"/>
<circle cx="436.5" cy="57" r="1.3" fill="#36A151"/>
<circle cx="437.9" cy="52.6" r="1.3" fill="#36A151"/>
<circle cx="437.4" cy="72.6" r="1.3" fill="#36A151"/>
<circle cx="439.4" cy="54.5" r="1.3" fill="#36A151"/>
<circle cx="437" cy="48.2" r="1.3" fill="#36A151"/>
<circle cx="438" cy="52.6" r="1.3" fill="#36A151"/>
<circle cx="439.9" cy="53.6" r="1.3" fill="#36A151"/>
<circle cx="442.4" cy="57" r="1.3" fill="#36A151"/>
<circle cx="437" cy="60.4" r="1.3" fill="#36A151"/>
<circle cx="438.5" cy="62.3" r="1.3" fill="#36A151"/>
<circle cx="439.4" cy="64.3" r="1.3" fill="#36A151"/>
<circle cx="441.4" cy="60.4" r="1.3" fill="#36A151"/>
<circle cx="444.3" cy="61.9" r="1.3" fill="#36A151"/>
<circle cx="441.9" cy="65.3" r="1.3" fill="#36A151"/>
<circle cx="440.9" cy="69.2" r="1.3" fill="#36A151"/>
<circle cx="441.4" cy="71.1" r="1.3" fill="#36A151"/>
<circle cx="443.3" cy="72.6" r="1.3" fill="#36A151"/>
<circle cx="437.5" cy="72.6" r="1.3" fill="#36A151"/>
<circle cx="445.8" cy="58.4" r="1.3" fill="#36A151"/>
<circle cx="447.7" cy="58" r="1.3" fill="#36A151"/>
<circle cx="449.2" cy="55" r="1.3" fill="#36A151"/>
<circle cx="451.6" cy="54.5" r="1.3" fill="#36A151"/>
<circle cx="449.2" cy="42.8" r="1.3" fill="#36A151"/>
<circle cx="454.1" cy="59.4" r="1.3" fill="#36A151"/>
<circle cx="457.5" cy="58" r="1.3" fill="#36A151"/>
<circle cx="452.4" cy="70.6" r="1.3" fill="#36A151"/>
<circle cx="462.9" cy="50.4" r="1.3" fill="#36A151"/>
<circle cx="465.8" cy="49.2" r="1.3" fill="#36A151"/>
<circle cx="465.5" cy="60.4" r="1.3" fill="#36A151"/>
<circle cx="464.8" cy="64.3" r="1.3" fill="#36A151"/>
<circle cx="465.8" cy="64.8" r="1.3" fill="#36A151"/>
<circle cx="467" cy="68.7" r="1.3" fill="#36A151"/>
<circle cx="478.8" cy="67.2" r="1.3" fill="#36A151"/>
<circle cx="493.6" cy="58.6" r="1.3" fill="#36A151"/>
<circle cx="428.69" cy="62.03" r="1.3" fill="#36A151"/>
<circle cx="438.27" cy="55.9" r="1.3" fill="#36A151"/>
<circle cx="432.2" cy="62.1" r="1.3" fill="#36A151"/>
<circle cx="423.97" cy="62.92" r="1.3" fill="#36A151"/>
<circle cx="438.3" cy="57.15" r="1.3" fill="#36A151"/>
<circle cx="413.4" cy="60.99" r="1.3" fill="#36A151"/>
<circle cx="424.07" cy="63.25" r="1.3" fill="#36A151"/>
<circle cx="427.22" cy="65.69" r="1.3" fill="#36A151"/>
<circle cx="410.39" cy="66.34" r="1.3" fill="#36A151"/>
<circle cx="437.49" cy="62.48" r="1.3" fill="#36A151"/>
<circle cx="432.97" cy="63.81" r="1.3" fill="#36A151"/>
<circle cx="414.16" cy="68.93" r="1.3" fill="#36A151"/>
<circle cx="428.52" cy="62.4" r="1.3" fill="#36A151"/>
<circle cx="436.14" cy="60.88" r="1.3" fill="#36A151"/>
<circle cx="416.28" cy="66.27" r="1.3" fill="#36A151"/>
<circle cx="436.17" cy="67.71" r="1.3" fill="#36A151"/>
<circle cx="418.68" cy="67.29" r="1.3" fill="#36A151"/>
<circle cx="430.33" cy="61.19" r="1.3" fill="#36A151"/>
<circle cx="416.14" cy="68.34" r="1.3" fill="#36A151"/>
<circle cx="439" cy="58.81" r="1.3" fill="#36A151"/>
<circle cx="436.81" cy="59.92" r="1.3" fill="#36A151"/>
<circle cx="414.98" cy="67.26" r="1.3" fill="#36A151"/>
<circle cx="414.37" cy="67.07" r="1.3" fill="#36A151"/>
<circle cx="428.09" cy="63.22" r="1.3" fill="#36A151"/>
<circle cx="410.1" cy="64.99" r="1.3" fill="#36A151"/>
<text x="0" y="0" transform="translate(386.7,112.8) scale(0.86,1)" font-size="9.9" text-anchor="middle" fill="#262626" >4</text>
<text x="0" y="0" transform="translate(428.4,112.8) scale(0.86,1)" font-size="9.9" text-anchor="middle" fill="#262626" >6</text>
<text x="0" y="0" transform="translate(470.1,112.8) scale(0.86,1)" font-size="9.9" text-anchor="middle" fill="#262626" >8</text>
<text x="0" y="0" transform="translate(373.5,43.4) scale(0.86,1)" font-size="9.9" text-anchor="end" fill="#262626" >7</text>
<text x="0" y="0" transform="translate(373.5,66.8) scale(0.86,1)" font-size="9.9" text-anchor="end" fill="#262626" >6</text>
<text x="0" y="0" transform="translate(373.5,90.6) scale(0.86,1)" font-size="9.9" text-anchor="end" fill="#262626" >5</text>
<text x="0" y="0" transform="translate(437.95,37.2) scale(0.89,1)" font-size="10.45" text-anchor="middle" fill="#262626" ><tspan font-style="italic">r</tspan> = 0.57, CI [0.44, 0.68]</text>
<text x="0" y="0" transform="translate(437.95,124.1) scale(0.915,1)" font-size="10.5" text-anchor="middle" fill="#262626" ><tspan font-style="italic">SALVE</tspan><tspan font-style="italic" font-size="8.09" dy="1.0">Test</tspan><tspan dy="-1.0"></tspan></text>
<text x="0" y="0" font-size="10.5" text-anchor="middle" fill="#262626" transform="translate(364.5,71.35) rotate(-90) scale(0.89,1)"><tspan font-style="italic">SALVE</tspan><tspan font-style="italic" font-size="8.09" dy="1.0">Train</tspan><tspan dy="-1.0"></tspan></text>
<rect x="551" y="39.4" width="114.1" height="63.7" fill="#EAEAF2" />
<line x1="580.8" y1="39.4" x2="580.8" y2="103.1" stroke="#FFFFFF" stroke-width="0.8" />
<line x1="627.9" y1="39.4" x2="627.9" y2="103.1" stroke="#FFFFFF" stroke-width="0.8" />
<line x1="551" y1="65.4" x2="665.1" y2="65.4" stroke="#FFFFFF" stroke-width="0.8" />
<line x1="551" y1="101.4" x2="665.1" y2="101.4" stroke="#FFFFFF" stroke-width="0.8" />
<path d="M555.4,68.8 L570,70.5 L585,71.5 L600,70 L615,64.5 L630,57 L645,50.5 L660.2,44 L660.2,88 L645,86.3 L630,85 L615,84.5 L600,86 L585,89.5 L570,94 L555.4,99.6Z" fill="#36A151" fill-opacity="0.15"/>
<line x1="555.4" y1="85.8" x2="660.2" y2="67.9" stroke="#36A151" stroke-width="0.9" />
<circle cx="555.4" cy="95.7" r="1.3" fill="#36A151"/>
<circle cx="566.4" cy="93.2" r="1.3" fill="#36A151"/>
<circle cx="575.8" cy="41.8" r="1.3" fill="#36A151"/>
<circle cx="577" cy="78.8" r="1.3" fill="#36A151"/>
<circle cx="577.8" cy="100.6" r="1.3" fill="#36A151"/>
<circle cx="584" cy="90" r="1.3" fill="#36A151"/>
<circle cx="585" cy="91.2" r="1.3" fill="#36A151"/>
<circle cx="591.9" cy="89" r="1.3" fill="#36A151"/>
<circle cx="592.7" cy="90" r="1.3" fill="#36A151"/>
<circle cx="591.4" cy="97.4" r="1.3" fill="#36A151"/>
<circle cx="598.1" cy="48.5" r="1.3" fill="#36A151"/>
<circle cx="602.3" cy="45.3" r="1.3" fill="#36A151"/>
<circle cx="604.3" cy="49.3" r="1.3" fill="#36A151"/>
<circle cx="599.4" cy="82" r="1.3" fill="#36A151"/>
<circle cx="616.2" cy="82.8" r="1.3" fill="#36A151"/>
<circle cx="616.7" cy="96.4" r="1.3" fill="#36A151"/>
<circle cx="621.7" cy="56" r="1.3" fill="#36A151"/>
<circle cx="624.9" cy="90.7" r="1.3" fill="#36A151"/>
<circle cx="635.8" cy="61.7" r="1.3" fill="#36A151"/>
<circle cx="660.2" cy="54.7" r="1.3" fill="#36A151"/>
<circle cx="659.4" cy="96.2" r="1.3" fill="#36A151"/>
<text x="0" y="0" transform="translate(580.8,112.9) scale(0.86,1)" font-size="9.9" text-anchor="middle" fill="#262626" >7</text>
<text x="0" y="0" transform="translate(627.9,112.9) scale(0.86,1)" font-size="9.9" text-anchor="middle" fill="#262626" >8</text>
<text x="0" y="0" transform="translate(547.4,68.9) scale(0.86,1)" font-size="9.9" text-anchor="end" fill="#262626" >6.5</text>
<text x="0" y="0" transform="translate(547.4,104.9) scale(0.86,1)" font-size="9.9" text-anchor="end" fill="#262626" >6.0</text>
<text x="0" y="0" transform="translate(608.05,36.9) scale(0.89,1)" font-size="10.45" text-anchor="middle" fill="#262626" ><tspan font-style="italic">r</tspan> = 0.23, CI [-0.21, 0.6]</text>
<text x="0" y="0" transform="translate(608.05,124.2) scale(0.915,1)" font-size="10.5" text-anchor="middle" fill="#262626" >Be-MoVe</text>
<text x="0" y="0" font-size="10.5" text-anchor="middle" fill="#262626" transform="translate(532.3,71.25) rotate(-90) scale(0.89,1)"><tspan font-style="italic">SALVE</tspan><tspan font-style="italic" font-size="8.09" dy="1.0">All</tspan><tspan dy="-1.0"></tspan></text>
<rect x="377.1" y="145" width="121.9" height="63" fill="#EAEAF2" />
<line x1="384.8" y1="145" x2="384.8" y2="208" stroke="#FFFFFF" stroke-width="0.8" />
<line x1="429.4" y1="145" x2="429.4" y2="208" stroke="#FFFFFF" stroke-width="0.8" />
<line x1="474" y1="145" x2="474" y2="208" stroke="#FFFFFF" stroke-width="0.8" />
<line x1="377.1" y1="208" x2="499" y2="208" stroke="#FFFFFF" stroke-width="0.8" />
<line x1="377.1" y1="176.4" x2="499" y2="176.4" stroke="#FFFFFF" stroke-width="0.8" />
<rect x="382.4" y="204.84" width="5.55" height="3.16" fill="#36A151" fill-opacity="0.52" stroke="#FFFFFF" stroke-opacity="0.45" stroke-width="0.6"/>
<rect x="387.95" y="198.52" width="5.55" height="9.48" fill="#36A151" fill-opacity="0.52" stroke="#FFFFFF" stroke-opacity="0.45" stroke-width="0.6"/>
<rect x="393.5" y="204.84" width="5.55" height="3.16" fill="#36A151" fill-opacity="0.52" stroke="#FFFFFF" stroke-opacity="0.45" stroke-width="0.6"/>
<rect x="399.05" y="198.52" width="5.55" height="9.48" fill="#36A151" fill-opacity="0.52" stroke="#FFFFFF" stroke-opacity="0.45" stroke-width="0.6"/>
<rect x="404.6" y="179.56" width="5.55" height="28.44" fill="#36A151" fill-opacity="0.52" stroke="#FFFFFF" stroke-opacity="0.45" stroke-width="0.6"/>
<rect x="410.15" y="170.08" width="5.55" height="37.92" fill="#36A151" fill-opacity="0.52" stroke="#FFFFFF" stroke-opacity="0.45" stroke-width="0.6"/>
<rect x="415.7" y="163.76" width="5.55" height="44.24" fill="#36A151" fill-opacity="0.52" stroke="#FFFFFF" stroke-opacity="0.45" stroke-width="0.6"/>
<rect x="421.25" y="147.96" width="5.55" height="60.04" fill="#36A151" fill-opacity="0.52" stroke="#FFFFFF" stroke-opacity="0.45" stroke-width="0.6"/>
<rect x="426.8" y="166.92" width="5.55" height="41.08" fill="#36A151" fill-opacity="0.52" stroke="#FFFFFF" stroke-opacity="0.45" stroke-width="0.6"/>
<rect x="432.35" y="160.6" width="5.55" height="47.4" fill="#36A151" fill-opacity="0.52" stroke="#FFFFFF" stroke-opacity="0.45" stroke-width="0.6"/>
<rect x="437.9" y="185.88" width="5.55" height="22.12" fill="#36A151" fill-opacity="0.52" stroke="#FFFFFF" stroke-opacity="0.45" stroke-width="0.6"/>
<rect x="443.45" y="182.72" width="5.55" height="25.28" fill="#36A151" fill-opacity="0.52" stroke="#FFFFFF" stroke-opacity="0.45" stroke-width="0.6"/>
<rect x="449" y="192.2" width="5.55" height="15.8" fill="#36A151" fill-opacity="0.52" stroke="#FFFFFF" stroke-opacity="0.45" stroke-width="0.6"/>
<rect x="454.55" y="204.84" width="5.55" height="3.16" fill="#36A151" fill-opacity="0.52" stroke="#FFFFFF" stroke-opacity="0.45" stroke-width="0.6"/>
<rect x="460.1" y="201.68" width="5.55" height="6.32" fill="#36A151" fill-opacity="0.52" stroke="#FFFFFF" stroke-opacity="0.45" stroke-width="0.6"/>
<rect x="465.65" y="201.68" width="5.55" height="6.32" fill="#36A151" fill-opacity="0.52" stroke="#FFFFFF" stroke-opacity="0.45" stroke-width="0.6"/>
<rect x="471.2" y="204.84" width="5.55" height="3.16" fill="#36A151" fill-opacity="0.52" stroke="#FFFFFF" stroke-opacity="0.45" stroke-width="0.6"/>
<rect x="482.3" y="204.84" width="5.55" height="3.16" fill="#36A151" fill-opacity="0.52" stroke="#FFFFFF" stroke-opacity="0.45" stroke-width="0.6"/>
<rect x="487.85" y="204.84" width="5.55" height="3.16" fill="#36A151" fill-opacity="0.52" stroke="#FFFFFF" stroke-opacity="0.45" stroke-width="0.6"/>
<path d="M382.4,205.6 C383.4,205.17 386.2,204.47 388.4,203 C390.6,201.53 393.37,199.2 395.6,196.8 C397.83,194.4 400.07,191.18 401.8,188.6 C403.53,186.02 404.45,184.05 406,181.3 C407.55,178.55 409.38,174.77 411.1,172.1 C412.82,169.43 414.75,166.93 416.3,165.3 C417.85,163.67 419.12,162.87 420.4,162.3 C421.68,161.73 422.62,161.65 424,161.9 C425.38,162.15 427.07,162.8 428.7,163.8 C430.33,164.8 432.42,166.62 433.8,167.9 C435.18,169.18 435.77,169.78 437,171.5 C438.23,173.22 439.65,175.87 441.2,178.2 C442.75,180.53 444.58,183.08 446.3,185.5 C448.02,187.92 449.78,190.55 451.5,192.7 C453.22,194.85 454.88,196.88 456.6,198.4 C458.32,199.92 460.07,201 461.8,201.8 C463.53,202.6 465.28,202.73 467,203.2 C468.72,203.67 470.38,204.2 472.1,204.6 C473.82,205 475.58,205.32 477.3,205.6 C479.02,205.88 479.73,206.13 482.4,206.3 C485.07,206.47 491.48,206.55 493.3,206.6" fill="none" stroke="#36A151" stroke-width="0.8"/>
<text x="0" y="0" transform="translate(384.8,217.8) scale(0.86,1)" font-size="9.9" text-anchor="middle" fill="#262626" >−2</text>
<text x="0" y="0" transform="translate(429.4,217.8) scale(0.86,1)" font-size="9.9" text-anchor="middle" fill="#262626" >0</text>
<text x="0" y="0" transform="translate(474,217.8) scale(0.86,1)" font-size="9.9" text-anchor="middle" fill="#262626" >2</text>
<text x="0" y="0" transform="translate(373.5,211.5) scale(0.86,1)" font-size="9.9" text-anchor="end" fill="#262626" >0</text>
<text x="0" y="0" transform="translate(373.5,179.9) scale(0.86,1)" font-size="9.9" text-anchor="end" fill="#262626" >10</text>
<text x="0" y="0" transform="translate(438.05,142.5) scale(0.89,1)" font-size="10.45" text-anchor="middle" fill="#262626" ><tspan font-style="italic">RMSE</tspan> = 0.85</text>
<text x="0" y="0" transform="translate(438.05,229.1) scale(0.915,1)" font-size="10.5" text-anchor="middle" fill="#262626" ><tspan font-style="italic">SALVE</tspan><tspan font-style="italic" font-size="8.09" dy="1.0">Test</tspan><tspan dy="-1.0"></tspan> – <tspan font-style="italic">SALVE</tspan><tspan font-style="italic" font-size="8.09" dy="1.0">Train</tspan><tspan dy="-1.0"></tspan></text>
<text x="0" y="0" font-size="10.5" text-anchor="middle" fill="#262626" transform="translate(361.3,176.5) rotate(-90) scale(0.89,1)">Count</text>
<rect x="551" y="145" width="114.1" height="63" fill="#EAEAF2" />
<line x1="552.7" y1="145" x2="552.7" y2="208" stroke="#FFFFFF" stroke-width="0.8" />
<line x1="593.9" y1="145" x2="593.9" y2="208" stroke="#FFFFFF" stroke-width="0.8" />
<line x1="635.3" y1="145" x2="635.3" y2="208" stroke="#FFFFFF" stroke-width="0.8" />
<line x1="551" y1="208" x2="665.1" y2="208" stroke="#FFFFFF" stroke-width="0.8" />
<line x1="551" y1="182.8" x2="665.1" y2="182.8" stroke="#FFFFFF" stroke-width="0.8" />
<line x1="551" y1="157.7" x2="665.1" y2="157.7" stroke="#FFFFFF" stroke-width="0.8" />
<rect x="556" y="197.92" width="10.37" height="10.08" fill="#36A151" fill-opacity="0.52" stroke="#FFFFFF" stroke-opacity="0.45" stroke-width="0.6"/>
<rect x="566.37" y="187.84" width="10.37" height="20.16" fill="#36A151" fill-opacity="0.52" stroke="#FFFFFF" stroke-opacity="0.45" stroke-width="0.6"/>
<rect x="576.74" y="167.68" width="10.37" height="40.32" fill="#36A151" fill-opacity="0.52" stroke="#FFFFFF" stroke-opacity="0.45" stroke-width="0.6"/>
<rect x="587.11" y="147.52" width="10.37" height="60.48" fill="#36A151" fill-opacity="0.52" stroke="#FFFFFF" stroke-opacity="0.45" stroke-width="0.6"/>
<rect x="597.48" y="177.76" width="10.37" height="30.24" fill="#36A151" fill-opacity="0.52" stroke="#FFFFFF" stroke-opacity="0.45" stroke-width="0.6"/>
<rect x="607.85" y="197.92" width="10.37" height="10.08" fill="#36A151" fill-opacity="0.52" stroke="#FFFFFF" stroke-opacity="0.45" stroke-width="0.6"/>
<rect x="618.22" y="177.76" width="10.37" height="30.24" fill="#36A151" fill-opacity="0.52" stroke="#FFFFFF" stroke-opacity="0.45" stroke-width="0.6"/>
<rect x="628.59" y="197.92" width="10.37" height="10.08" fill="#36A151" fill-opacity="0.52" stroke="#FFFFFF" stroke-opacity="0.45" stroke-width="0.6"/>
<rect x="649.33" y="197.92" width="10.37" height="10.08" fill="#36A151" fill-opacity="0.52" stroke="#FFFFFF" stroke-opacity="0.45" stroke-width="0.6"/>
<path d="M556,199.4 C557.85,197.95 563.6,194 567.1,190.7 C570.6,187.4 574.1,182.7 577,179.6 C579.9,176.5 582.02,173.85 584.5,172.1 C586.98,170.35 589.42,169.1 591.9,169.1 C594.38,169.1 596.72,170.35 599.4,172.1 C602.08,173.85 604.7,176.7 608,179.6 C611.3,182.5 615.68,186.62 619.2,189.5 C622.72,192.38 625.78,194.83 629.1,196.9 C632.42,198.97 635.78,200.65 639.1,201.9 C642.42,203.15 645.57,203.78 649,204.4 C652.43,205.02 657.92,205.4 659.7,205.6" fill="none" stroke="#36A151" stroke-width="0.8"/>
<text x="0" y="0" transform="translate(552.7,217.8) scale(0.86,1)" font-size="9.9" text-anchor="middle" fill="#262626" >0</text>
<text x="0" y="0" transform="translate(593.9,217.8) scale(0.86,1)" font-size="9.9" text-anchor="middle" fill="#262626" >1</text>
<text x="0" y="0" transform="translate(635.3,217.8) scale(0.86,1)" font-size="9.9" text-anchor="middle" fill="#262626" >2</text>
<text x="0" y="0" transform="translate(547.4,211.5) scale(0.86,1)" font-size="9.9" text-anchor="end" fill="#262626" >0.0</text>
<text x="0" y="0" transform="translate(547.4,186.3) scale(0.86,1)" font-size="9.9" text-anchor="end" fill="#262626" >2.5</text>
<text x="0" y="0" transform="translate(547.4,161.2) scale(0.86,1)" font-size="9.9" text-anchor="end" fill="#262626" >5.0</text>
<text x="0" y="0" transform="translate(608.05,142.5) scale(0.89,1)" font-size="10.45" text-anchor="middle" fill="#262626" ><tspan font-style="italic">RMSE</tspan> = 1.24</text>
<text x="0" y="0" transform="translate(608.05,229.1) scale(0.915,1)" font-size="10.5" text-anchor="middle" fill="#262626" >Be-MoVe–<tspan font-style="italic">SALVE</tspan><tspan font-style="italic" font-size="8.09" dy="1.0">All</tspan><tspan dy="-1.0"></tspan></text>
<text x="0" y="0" font-size="10.5" text-anchor="middle" fill="#262626" transform="translate(532.3,176.5) rotate(-90) scale(0.89,1)">Count</text>
<rect x="39.9" y="396.9" width="116.7" height="63.4" fill="#EAEAF2" />
<line x1="63.4" y1="396.9" x2="63.4" y2="460.3" stroke="#FFFFFF" stroke-width="0.8" />
<line x1="93.63" y1="396.9" x2="93.63" y2="460.3" stroke="#FFFFFF" stroke-width="0.8" />
<line x1="123.86" y1="396.9" x2="123.86" y2="460.3" stroke="#FFFFFF" stroke-width="0.8" />
<line x1="154.1" y1="396.9" x2="154.1" y2="460.3" stroke="#FFFFFF" stroke-width="0.8" />
<line x1="39.9" y1="418.6" x2="156.6" y2="418.6" stroke="#FFFFFF" stroke-width="0.8" />
<line x1="39.9" y1="443.65" x2="156.6" y2="443.65" stroke="#FFFFFF" stroke-width="0.8" />
<path d="M45,434 L70,428 L95,421.5 L120,415 L151.6,405.6 L151.6,413.4 L120,419.5 L95,426 L70,433.5 L45,441.3Z" fill="#6F55AD" fill-opacity="0.15"/>
<line x1="45" y1="437.9" x2="151.6" y2="409.2" stroke="#6F55AD" stroke-width="0.9" />
<circle cx="95.8" cy="403.6" r="1.3" fill="#6F55AD"/>
<circle cx="62.5" cy="416" r="1.3" fill="#6F55AD"/>
<circle cx="71.2" cy="419.9" r="1.3" fill="#6F55AD"/>
<circle cx="47.3" cy="430.1" r="1.3" fill="#6F55AD"/>
<circle cx="51.5" cy="428.8" r="1.3" fill="#6F55AD"/>
<circle cx="54.2" cy="430.9" r="1.3" fill="#6F55AD"/>
<circle cx="50.1" cy="433.8" r="1.3" fill="#6F55AD"/>
<circle cx="44.8" cy="442.4" r="1.3" fill="#6F55AD"/>
<circle cx="54.8" cy="444.1" r="1.3" fill="#6F55AD"/>
<circle cx="57.3" cy="444.3" r="1.3" fill="#6F55AD"/>
<circle cx="59.5" cy="451.3" r="1.3" fill="#6F55AD"/>
<circle cx="67.9" cy="447.7" r="1.3" fill="#6F55AD"/>
<circle cx="74" cy="446.6" r="1.3" fill="#6F55AD"/>
<circle cx="74.2" cy="443.7" r="1.3" fill="#6F55AD"/>
<circle cx="72.6" cy="439.5" r="1.3" fill="#6F55AD"/>
<circle cx="69.3" cy="428.1" r="1.3" fill="#6F55AD"/>
<circle cx="74.6" cy="425.7" r="1.3" fill="#6F55AD"/>
<circle cx="75.9" cy="425.5" r="1.3" fill="#6F55AD"/>
<circle cx="74.6" cy="434" r="1.3" fill="#6F55AD"/>
<circle cx="77.1" cy="430.1" r="1.3" fill="#6F55AD"/>
<circle cx="77.9" cy="433.5" r="1.3" fill="#6F55AD"/>
<circle cx="79" cy="425.7" r="1.3" fill="#6F55AD"/>
<circle cx="80.2" cy="427.3" r="1.3" fill="#6F55AD"/>
<circle cx="81.8" cy="418.4" r="1.3" fill="#6F55AD"/>
<circle cx="82.9" cy="421.2" r="1.3" fill="#6F55AD"/>
<circle cx="84.6" cy="419.9" r="1.3" fill="#6F55AD"/>
<circle cx="84.1" cy="432.4" r="1.3" fill="#6F55AD"/>
<circle cx="84.6" cy="414" r="1.3" fill="#6F55AD"/>
<circle cx="86.3" cy="414" r="1.3" fill="#6F55AD"/>
<circle cx="88.5" cy="415.4" r="1.3" fill="#6F55AD"/>
<circle cx="87.4" cy="423.4" r="1.3" fill="#6F55AD"/>
<circle cx="89.6" cy="426.8" r="1.3" fill="#6F55AD"/>
<circle cx="90" cy="431.8" r="1.3" fill="#6F55AD"/>
<circle cx="92.4" cy="423.2" r="1.3" fill="#6F55AD"/>
<circle cx="91.9" cy="428.5" r="1.3" fill="#6F55AD"/>
<circle cx="93.5" cy="414" r="1.3" fill="#6F55AD"/>
<circle cx="95.2" cy="414" r="1.3" fill="#6F55AD"/>
<circle cx="96.9" cy="414" r="1.3" fill="#6F55AD"/>
<circle cx="98.5" cy="413.4" r="1.3" fill="#6F55AD"/>
<circle cx="96.3" cy="420.7" r="1.3" fill="#6F55AD"/>
<circle cx="95.8" cy="427.3" r="1.3" fill="#6F55AD"/>
<circle cx="94.6" cy="433.5" r="1.3" fill="#6F55AD"/>
<circle cx="96.9" cy="433.5" r="1.3" fill="#6F55AD"/>
<circle cx="81.3" cy="453.8" r="1.3" fill="#6F55AD"/>
<circle cx="97.1" cy="453.8" r="1.3" fill="#6F55AD"/>
<circle cx="99.4" cy="457.4" r="1.3" fill="#6F55AD"/>
<circle cx="105" cy="401.1" r="1.3" fill="#6F55AD"/>
<circle cx="105.6" cy="402" r="1.3" fill="#6F55AD"/>
<circle cx="113.4" cy="400.6" r="1.3" fill="#6F55AD"/>
<circle cx="121.2" cy="400.3" r="1.3" fill="#6F55AD"/>
<circle cx="124.9" cy="405" r="1.3" fill="#6F55AD"/>
<circle cx="116.2" cy="407.3" r="1.3" fill="#6F55AD"/>
<circle cx="119.7" cy="407.3" r="1.3" fill="#6F55AD"/>
<circle cx="123.4" cy="409.5" r="1.3" fill="#6F55AD"/>
<circle cx="127.6" cy="411.5" r="1.3" fill="#6F55AD"/>
<circle cx="133.5" cy="401.7" r="1.3" fill="#6F55AD"/>
<circle cx="135.1" cy="403.2" r="1.3" fill="#6F55AD"/>
<circle cx="136.5" cy="404.5" r="1.3" fill="#6F55AD"/>
<circle cx="136.2" cy="406.2" r="1.3" fill="#6F55AD"/>
<circle cx="144.6" cy="404.5" r="1.3" fill="#6F55AD"/>
<circle cx="145.7" cy="399.5" r="1.3" fill="#6F55AD"/>
<circle cx="134.2" cy="410.1" r="1.3" fill="#6F55AD"/>
<circle cx="129.6" cy="416.2" r="1.3" fill="#6F55AD"/>
<circle cx="134" cy="416.5" r="1.3" fill="#6F55AD"/>
<circle cx="137.9" cy="414.3" r="1.3" fill="#6F55AD"/>
<circle cx="138.3" cy="418.8" r="1.3" fill="#6F55AD"/>
<circle cx="151.6" cy="418.8" r="1.3" fill="#6F55AD"/>
<circle cx="146.8" cy="422.3" r="1.3" fill="#6F55AD"/>
<circle cx="139" cy="425.9" r="1.3" fill="#6F55AD"/>
<circle cx="126.4" cy="426.6" r="1.3" fill="#6F55AD"/>
<circle cx="127.1" cy="433.5" r="1.3" fill="#6F55AD"/>
<circle cx="137.1" cy="445.2" r="1.3" fill="#6F55AD"/>
<circle cx="105" cy="410.1" r="1.3" fill="#6F55AD"/>
<circle cx="107" cy="413.4" r="1.3" fill="#6F55AD"/>
<circle cx="108.4" cy="415.1" r="1.3" fill="#6F55AD"/>
<circle cx="110.6" cy="415.1" r="1.3" fill="#6F55AD"/>
<circle cx="113.4" cy="417.3" r="1.3" fill="#6F55AD"/>
<circle cx="115.6" cy="414.5" r="1.3" fill="#6F55AD"/>
<circle cx="117.9" cy="419.5" r="1.3" fill="#6F55AD"/>
<circle cx="120.6" cy="419" r="1.3" fill="#6F55AD"/>
<circle cx="115.6" cy="422.9" r="1.3" fill="#6F55AD"/>
<circle cx="122" cy="422.9" r="1.3" fill="#6F55AD"/>
<circle cx="119.5" cy="426.8" r="1.3" fill="#6F55AD"/>
<circle cx="118.4" cy="430.4" r="1.3" fill="#6F55AD"/>
<circle cx="114.2" cy="428.5" r="1.3" fill="#6F55AD"/>
<circle cx="108.2" cy="433.5" r="1.3" fill="#6F55AD"/>
<circle cx="105" cy="426.6" r="1.3" fill="#6F55AD"/>
<circle cx="104.8" cy="439" r="1.3" fill="#6F55AD"/>
<circle cx="105.8" cy="440.7" r="1.3" fill="#6F55AD"/>
<circle cx="105.8" cy="451.1" r="1.3" fill="#6F55AD"/>
<circle cx="97.2" cy="453.8" r="1.3" fill="#6F55AD"/>
<circle cx="100.4" cy="457.4" r="1.3" fill="#6F55AD"/>
<circle cx="96.1" cy="403.9" r="1.3" fill="#6F55AD"/>
<circle cx="98.3" cy="413.4" r="1.3" fill="#6F55AD"/>
<circle cx="101.7" cy="414" r="1.3" fill="#6F55AD"/>
<circle cx="100" cy="418.8" r="1.3" fill="#6F55AD"/>
<circle cx="101.7" cy="419.2" r="1.3" fill="#6F55AD"/>
<circle cx="96.7" cy="420.7" r="1.3" fill="#6F55AD"/>
<circle cx="100.6" cy="423.4" r="1.3" fill="#6F55AD"/>
<circle cx="96.1" cy="426.8" r="1.3" fill="#6F55AD"/>
<circle cx="100" cy="429.2" r="1.3" fill="#6F55AD"/>
<circle cx="96.1" cy="433.7" r="1.3" fill="#6F55AD"/>
<text x="0" y="0" transform="translate(63.4,470.1) scale(0.86,1)" font-size="9.9" text-anchor="middle" fill="#262626" >0.25</text>
<text x="0" y="0" transform="translate(93.63,470.1) scale(0.86,1)" font-size="9.9" text-anchor="middle" fill="#262626" >0.50</text>
<text x="0" y="0" transform="translate(123.86,470.1) scale(0.86,1)" font-size="9.9" text-anchor="middle" fill="#262626" >0.75</text>
<text x="0" y="0" transform="translate(154.1,470.1) scale(0.86,1)" font-size="9.9" text-anchor="middle" fill="#262626" >1.00</text>
<text x="0" y="0" transform="translate(36.3,422.1) scale(0.86,1)" font-size="9.9" text-anchor="end" fill="#262626" >0.6</text>
<text x="0" y="0" transform="translate(36.3,447.15) scale(0.86,1)" font-size="9.9" text-anchor="end" fill="#262626" >0.4</text>
<text x="0" y="0" transform="translate(98.25,394.4) scale(0.89,1)" font-size="10.45" text-anchor="middle" fill="#262626" ><tspan font-style="italic">r</tspan> = 0.52, CI [0.38, 0.64]</text>
<text x="0" y="0" transform="translate(98.25,481.4) scale(0.915,1)" font-size="10.5" text-anchor="middle" fill="#262626" ><tspan font-style="italic">SALVE</tspan><tspan font-style="italic" font-size="8.09" dy="1.0">Test</tspan><tspan dy="-1.0"></tspan></text>
<text x="0" y="0" font-size="10.5" text-anchor="middle" fill="#262626" transform="translate(21.5,428.6) rotate(-90) scale(0.89,1)"><tspan font-style="italic">SALVE</tspan><tspan font-style="italic" font-size="8.09" dy="1.0">Train</tspan><tspan dy="-1.0"></tspan></text>
<rect x="206" y="396.8" width="119.1" height="63.8" fill="#EAEAF2" />
<line x1="233.3" y1="396.8" x2="233.3" y2="460.6" stroke="#FFFFFF" stroke-width="0.8" />
<line x1="264.8" y1="396.8" x2="264.8" y2="460.6" stroke="#FFFFFF" stroke-width="0.8" />
<line x1="296.6" y1="396.8" x2="296.6" y2="460.6" stroke="#FFFFFF" stroke-width="0.8" />
<line x1="206" y1="426.4" x2="325.1" y2="426.4" stroke="#FFFFFF" stroke-width="0.8" />
<line x1="206" y1="459.9" x2="325.1" y2="459.9" stroke="#FFFFFF" stroke-width="0.8" />
<path d="M210.9,440.8 L240,433 L265,424 L290,414 L319.4,399.8 L319.4,414.7 L290,421.5 L265,433.5 L240,446 L210.9,459.4Z" fill="#6F55AD" fill-opacity="0.15"/>
<line x1="210.9" y1="449.9" x2="319.4" y2="406.8" stroke="#6F55AD" stroke-width="0.9" />
<circle cx="210.9" cy="456.1" r="1.3" fill="#6F55AD"/>
<circle cx="214.2" cy="455.6" r="1.3" fill="#6F55AD"/>
<circle cx="218.4" cy="453.2" r="1.3" fill="#6F55AD"/>
<circle cx="219.6" cy="449.9" r="1.3" fill="#6F55AD"/>
<circle cx="219.6" cy="425.1" r="1.3" fill="#6F55AD"/>
<circle cx="230" cy="448.9" r="1.3" fill="#6F55AD"/>
<circle cx="240" cy="423.9" r="1.3" fill="#6F55AD"/>
<circle cx="255.1" cy="456.1" r="1.3" fill="#6F55AD"/>
<circle cx="256.8" cy="445" r="1.3" fill="#6F55AD"/>
<circle cx="259.8" cy="420.9" r="1.3" fill="#6F55AD"/>
<circle cx="266.8" cy="427.4" r="1.3" fill="#6F55AD"/>
<circle cx="273" cy="412.2" r="1.3" fill="#6F55AD"/>
<circle cx="273" cy="423.9" r="1.3" fill="#6F55AD"/>
<circle cx="273.7" cy="425.1" r="1.3" fill="#6F55AD"/>
<circle cx="277.4" cy="424.6" r="1.3" fill="#6F55AD"/>
<circle cx="286.1" cy="419.2" r="1.3" fill="#6F55AD"/>
<circle cx="287.1" cy="412.7" r="1.3" fill="#6F55AD"/>
<circle cx="289.1" cy="411.7" r="1.3" fill="#6F55AD"/>
<circle cx="288.6" cy="424.6" r="1.3" fill="#6F55AD"/>
<circle cx="301" cy="411" r="1.3" fill="#6F55AD"/>
<circle cx="307.2" cy="424.1" r="1.3" fill="#6F55AD"/>
<circle cx="319.4" cy="406.8" r="1.3" fill="#6F55AD"/>
<text x="0" y="0" transform="translate(233.3,470.4) scale(0.86,1)" font-size="9.9" text-anchor="middle" fill="#262626" >0.25</text>
<text x="0" y="0" transform="translate(264.8,470.4) scale(0.86,1)" font-size="9.9" text-anchor="middle" fill="#262626" >0.50</text>
<text x="0" y="0" transform="translate(296.6,470.4) scale(0.86,1)" font-size="9.9" text-anchor="middle" fill="#262626" >0.75</text>
<text x="0" y="0" transform="translate(202.4,429.9) scale(0.86,1)" font-size="9.9" text-anchor="end" fill="#262626" >0.6</text>
<text x="0" y="0" transform="translate(202.4,463.4) scale(0.86,1)" font-size="9.9" text-anchor="end" fill="#262626" >0.4</text>
<text x="0" y="0" transform="translate(265.55,394.3) scale(0.89,1)" font-size="10.45" text-anchor="middle" fill="#262626" ><tspan font-style="italic">r</tspan> = 0.79, CI [0.56, 0.91]</text>
<text x="0" y="0" transform="translate(265.55,481.7) scale(0.915,1)" font-size="10.5" text-anchor="middle" fill="#262626" >Be-MoVe</text>
<text x="0" y="0" font-size="10.5" text-anchor="middle" fill="#262626" transform="translate(187.3,428.7) rotate(-90) scale(0.89,1)"><tspan font-style="italic">SALVE</tspan><tspan font-style="italic" font-size="8.09" dy="1.0">All</tspan><tspan dy="-1.0"></tspan></text>
<rect x="40.1" y="502.2" width="116.7" height="63.5" fill="#EAEAF2" />
<line x1="61.2" y1="502.2" x2="61.2" y2="565.7" stroke="#FFFFFF" stroke-width="0.8" />
<line x1="92.3" y1="502.2" x2="92.3" y2="565.7" stroke="#FFFFFF" stroke-width="0.8" />
<line x1="123.4" y1="502.2" x2="123.4" y2="565.7" stroke="#FFFFFF" stroke-width="0.8" />
<line x1="154.5" y1="502.2" x2="154.5" y2="565.7" stroke="#FFFFFF" stroke-width="0.8" />
<line x1="40.1" y1="565.7" x2="156.8" y2="565.7" stroke="#FFFFFF" stroke-width="0.8" />
<line x1="40.1" y1="544.2" x2="156.8" y2="544.2" stroke="#FFFFFF" stroke-width="0.8" />
<line x1="40.1" y1="522.7" x2="156.8" y2="522.7" stroke="#FFFFFF" stroke-width="0.8" />
<rect x="45.1" y="552.8" width="5.33" height="12.9" fill="#6F55AD" fill-opacity="0.52" stroke="#FFFFFF" stroke-opacity="0.45" stroke-width="0.6"/>
<rect x="50.43" y="552.8" width="5.33" height="12.9" fill="#6F55AD" fill-opacity="0.52" stroke="#FFFFFF" stroke-opacity="0.45" stroke-width="0.6"/>
<rect x="55.76" y="561.4" width="5.33" height="4.3" fill="#6F55AD" fill-opacity="0.52" stroke="#FFFFFF" stroke-opacity="0.45" stroke-width="0.6"/>
<rect x="61.09" y="561.4" width="5.33" height="4.3" fill="#6F55AD" fill-opacity="0.52" stroke="#FFFFFF" stroke-opacity="0.45" stroke-width="0.6"/>
<rect x="66.42" y="522.7" width="5.33" height="43" fill="#6F55AD" fill-opacity="0.52" stroke="#FFFFFF" stroke-opacity="0.45" stroke-width="0.6"/>
<rect x="71.75" y="505.5" width="5.33" height="60.2" fill="#6F55AD" fill-opacity="0.52" stroke="#FFFFFF" stroke-opacity="0.45" stroke-width="0.6"/>
<rect x="77.08" y="531.3" width="5.33" height="34.4" fill="#6F55AD" fill-opacity="0.52" stroke="#FFFFFF" stroke-opacity="0.45" stroke-width="0.6"/>
<rect x="82.41" y="514.1" width="5.33" height="51.6" fill="#6F55AD" fill-opacity="0.52" stroke="#FFFFFF" stroke-opacity="0.45" stroke-width="0.6"/>
<rect x="87.74" y="514.1" width="5.33" height="51.6" fill="#6F55AD" fill-opacity="0.52" stroke="#FFFFFF" stroke-opacity="0.45" stroke-width="0.6"/>
<rect x="93.07" y="531.3" width="5.33" height="34.4" fill="#6F55AD" fill-opacity="0.52" stroke="#FFFFFF" stroke-opacity="0.45" stroke-width="0.6"/>
<rect x="98.4" y="522.7" width="5.33" height="43" fill="#6F55AD" fill-opacity="0.52" stroke="#FFFFFF" stroke-opacity="0.45" stroke-width="0.6"/>
<rect x="103.73" y="535.6" width="5.33" height="30.1" fill="#6F55AD" fill-opacity="0.52" stroke="#FFFFFF" stroke-opacity="0.45" stroke-width="0.6"/>
<rect x="109.06" y="527" width="5.33" height="38.7" fill="#6F55AD" fill-opacity="0.52" stroke="#FFFFFF" stroke-opacity="0.45" stroke-width="0.6"/>
<rect x="114.39" y="531.3" width="5.33" height="34.4" fill="#6F55AD" fill-opacity="0.52" stroke="#FFFFFF" stroke-opacity="0.45" stroke-width="0.6"/>
<rect x="119.72" y="552.8" width="5.33" height="12.9" fill="#6F55AD" fill-opacity="0.52" stroke="#FFFFFF" stroke-opacity="0.45" stroke-width="0.6"/>
<rect x="125.05" y="548.5" width="5.33" height="17.2" fill="#6F55AD" fill-opacity="0.52" stroke="#FFFFFF" stroke-opacity="0.45" stroke-width="0.6"/>
<rect x="130.38" y="561.4" width="5.33" height="4.3" fill="#6F55AD" fill-opacity="0.52" stroke="#FFFFFF" stroke-opacity="0.45" stroke-width="0.6"/>
<rect x="135.71" y="557.1" width="5.33" height="8.6" fill="#6F55AD" fill-opacity="0.52" stroke="#FFFFFF" stroke-opacity="0.45" stroke-width="0.6"/>
<rect x="146.37" y="561.4" width="5.33" height="4.3" fill="#6F55AD" fill-opacity="0.52" stroke="#FFFFFF" stroke-opacity="0.45" stroke-width="0.6"/>
<path d="M45.1,559.7 C46.53,559.03 51.4,557.23 53.7,555.7 C56,554.17 56.98,553.12 58.9,550.5 C60.82,547.88 63.27,543.48 65.2,540 C67.13,536.52 68.58,532.48 70.5,529.6 C72.42,526.72 74.43,524.32 76.7,522.7 C78.97,521.08 81.82,520.23 84.1,519.9 C86.38,519.57 88.32,520.05 90.4,520.7 C92.48,521.35 94.47,522.5 96.6,523.8 C98.73,525.1 101.22,527.28 103.2,528.5 C105.18,529.72 106.75,530.13 108.5,531.1 C110.25,532.07 111.97,532.82 113.7,534.3 C115.43,535.78 117.15,537.82 118.9,540 C120.65,542.18 122.45,545.13 124.2,547.4 C125.95,549.67 127.67,551.87 129.4,553.6 C131.13,555.33 132.85,556.6 134.6,557.8 C136.35,559 138.15,560.02 139.9,560.8 C141.65,561.58 143.15,561.98 145.1,562.5 C147.05,563.02 150.52,563.67 151.6,563.9" fill="none" stroke="#6F55AD" stroke-width="0.8"/>
<text x="0" y="0" transform="translate(61.2,575.5) scale(0.86,1)" font-size="9.9" text-anchor="middle" fill="#262626" >−0.25</text>
<text x="0" y="0" transform="translate(92.3,575.5) scale(0.86,1)" font-size="9.9" text-anchor="middle" fill="#262626" >0.00</text>
<text x="0" y="0" transform="translate(123.4,575.5) scale(0.86,1)" font-size="9.9" text-anchor="middle" fill="#262626" >0.25</text>
<text x="0" y="0" transform="translate(154.5,575.5) scale(0.86,1)" font-size="9.9" text-anchor="middle" fill="#262626" >0.50</text>
<text x="0" y="0" transform="translate(36.5,569.2) scale(0.86,1)" font-size="9.9" text-anchor="end" fill="#262626" >0</text>
<text x="0" y="0" transform="translate(36.5,547.7) scale(0.86,1)" font-size="9.9" text-anchor="end" fill="#262626" >5</text>
<text x="0" y="0" transform="translate(36.5,526.2) scale(0.86,1)" font-size="9.9" text-anchor="end" fill="#262626" >10</text>
<text x="0" y="0" transform="translate(98.45,499.7) scale(0.89,1)" font-size="10.45" text-anchor="middle" fill="#262626" ><tspan font-style="italic">RMSE</tspan> = 0.17</text>
<text x="0" y="0" transform="translate(98.45,586.8) scale(0.915,1)" font-size="10.5" text-anchor="middle" fill="#262626" ><tspan font-style="italic">SALVE</tspan><tspan font-style="italic" font-size="8.09" dy="1.0">Test</tspan><tspan dy="-1.0"></tspan> – <tspan font-style="italic">SALVE</tspan><tspan font-style="italic" font-size="8.09" dy="1.0">Train</tspan><tspan dy="-1.0"></tspan></text>
<text x="0" y="0" font-size="10.5" text-anchor="middle" fill="#262626" transform="translate(24.6,533.95) rotate(-90) scale(0.89,1)">Count</text>
<rect x="206" y="501.8" width="119.1" height="64.3" fill="#EAEAF2" />
<line x1="220.9" y1="501.8" x2="220.9" y2="566.1" stroke="#FFFFFF" stroke-width="0.8" />
<line x1="252.7" y1="501.8" x2="252.7" y2="566.1" stroke="#FFFFFF" stroke-width="0.8" />
<line x1="284.6" y1="501.8" x2="284.6" y2="566.1" stroke="#FFFFFF" stroke-width="0.8" />
<line x1="316.4" y1="501.8" x2="316.4" y2="566.1" stroke="#FFFFFF" stroke-width="0.8" />
<line x1="206" y1="566.1" x2="325.1" y2="566.1" stroke="#FFFFFF" stroke-width="0.8" />
<line x1="206" y1="540.8" x2="325.1" y2="540.8" stroke="#FFFFFF" stroke-width="0.8" />
<line x1="206" y1="515.5" x2="325.1" y2="515.5" stroke="#FFFFFF" stroke-width="0.8" />
<rect x="210.9" y="555.98" width="10.85" height="10.12" fill="#6F55AD" fill-opacity="0.52" stroke="#FFFFFF" stroke-opacity="0.45" stroke-width="0.6"/>
<rect x="221.75" y="555.98" width="10.85" height="10.12" fill="#6F55AD" fill-opacity="0.52" stroke="#FFFFFF" stroke-opacity="0.45" stroke-width="0.6"/>
<rect x="232.6" y="525.62" width="10.85" height="40.48" fill="#6F55AD" fill-opacity="0.52" stroke="#FFFFFF" stroke-opacity="0.45" stroke-width="0.6"/>
<rect x="243.45" y="555.98" width="10.85" height="10.12" fill="#6F55AD" fill-opacity="0.52" stroke="#FFFFFF" stroke-opacity="0.45" stroke-width="0.6"/>
<rect x="254.3" y="545.86" width="10.85" height="20.24" fill="#6F55AD" fill-opacity="0.52" stroke="#FFFFFF" stroke-opacity="0.45" stroke-width="0.6"/>
<rect x="265.15" y="545.86" width="10.85" height="20.24" fill="#6F55AD" fill-opacity="0.52" stroke="#FFFFFF" stroke-opacity="0.45" stroke-width="0.6"/>
<rect x="276" y="505.38" width="10.85" height="60.72" fill="#6F55AD" fill-opacity="0.52" stroke="#FFFFFF" stroke-opacity="0.45" stroke-width="0.6"/>
<rect x="286.85" y="545.86" width="10.85" height="20.24" fill="#6F55AD" fill-opacity="0.52" stroke="#FFFFFF" stroke-opacity="0.45" stroke-width="0.6"/>
<rect x="297.7" y="555.98" width="10.85" height="10.12" fill="#6F55AD" fill-opacity="0.52" stroke="#FFFFFF" stroke-opacity="0.45" stroke-width="0.6"/>
<rect x="308.55" y="545.86" width="10.85" height="20.24" fill="#6F55AD" fill-opacity="0.52" stroke="#FFFFFF" stroke-opacity="0.45" stroke-width="0.6"/>
<path d="M210.9,557.4 C212.77,556.5 218.37,553.65 222.1,552 C225.83,550.35 229.58,548.53 233.3,547.5 C237.02,546.47 240.88,546.3 244.4,545.8 C247.92,545.3 250.67,545.53 254.4,544.5 C258.13,543.47 262.67,541.05 266.8,539.6 C270.93,538.15 275.9,536.22 279.2,535.8 C282.5,535.38 283.7,536.07 286.6,537.1 C289.5,538.13 292.87,539.93 296.6,542 C300.33,544.07 305.2,547.02 309,549.5 C312.8,551.98 317.67,555.67 319.4,556.9" fill="none" stroke="#6F55AD" stroke-width="0.8"/>
<text x="0" y="0" transform="translate(220.9,575.9) scale(0.86,1)" font-size="9.9" text-anchor="middle" fill="#262626" >−0.4</text>
<text x="0" y="0" transform="translate(252.7,575.9) scale(0.86,1)" font-size="9.9" text-anchor="middle" fill="#262626" >−0.2</text>
<text x="0" y="0" transform="translate(284.6,575.9) scale(0.86,1)" font-size="9.9" text-anchor="middle" fill="#262626" >0.0</text>
<text x="0" y="0" transform="translate(316.4,575.9) scale(0.86,1)" font-size="9.9" text-anchor="middle" fill="#262626" >0.2</text>
<text x="0" y="0" transform="translate(202.4,569.6) scale(0.86,1)" font-size="9.9" text-anchor="end" fill="#262626" >0.0</text>
<text x="0" y="0" transform="translate(202.4,544.3) scale(0.86,1)" font-size="9.9" text-anchor="end" fill="#262626" >2.5</text>
<text x="0" y="0" transform="translate(202.4,519) scale(0.86,1)" font-size="9.9" text-anchor="end" fill="#262626" >5.0</text>
<text x="0" y="0" transform="translate(265.55,499.3) scale(0.89,1)" font-size="10.45" text-anchor="middle" fill="#262626" ><tspan font-style="italic">RMSE</tspan> = 0.21</text>
<text x="0" y="0" transform="translate(265.55,587.2) scale(0.915,1)" font-size="10.5" text-anchor="middle" fill="#262626" >Be-MoVe–<tspan font-style="italic">SALVE</tspan><tspan font-style="italic" font-size="8.09" dy="1.0">All</tspan><tspan dy="-1.0"></tspan></text>
<text x="0" y="0" font-size="10.5" text-anchor="middle" fill="#262626" transform="translate(187.8,533.95) rotate(-90) scale(0.89,1)">Count</text>
<rect x="381.6" y="396.8" width="119.2" height="63.8" fill="#EAEAF2" />
<line x1="386.3" y1="396.8" x2="386.3" y2="460.6" stroke="#FFFFFF" stroke-width="0.8" />
<line x1="419.8" y1="396.8" x2="419.8" y2="460.6" stroke="#FFFFFF" stroke-width="0.8" />
<line x1="453.3" y1="396.8" x2="453.3" y2="460.6" stroke="#FFFFFF" stroke-width="0.8" />
<line x1="486.8" y1="396.8" x2="486.8" y2="460.6" stroke="#FFFFFF" stroke-width="0.8" />
<line x1="381.6" y1="413.6" x2="500.8" y2="413.6" stroke="#FFFFFF" stroke-width="0.8" />
<line x1="381.6" y1="436.3" x2="500.8" y2="436.3" stroke="#FFFFFF" stroke-width="0.8" />
<line x1="381.6" y1="458.9" x2="500.8" y2="458.9" stroke="#FFFFFF" stroke-width="0.8" />
<path d="M387,438 L420,431.2 L450,423 L495.1,406.1 L495.1,419.1 L450,428.5 L420,436.7 L387,446.5Z" fill="#EC4234" fill-opacity="0.15"/>
<line x1="387" y1="441.7" x2="495.1" y2="413.1" stroke="#EC4234" stroke-width="0.9" />
<circle cx="393.6" cy="417.3" r="1.3" fill="#EC4234"/>
<circle cx="394.1" cy="425.7" r="1.3" fill="#EC4234"/>
<circle cx="395.6" cy="424.7" r="1.3" fill="#EC4234"/>
<circle cx="395.1" cy="429.4" r="1.3" fill="#EC4234"/>
<circle cx="400.9" cy="425" r="1.3" fill="#EC4234"/>
<circle cx="388.9" cy="433" r="1.3" fill="#EC4234"/>
<circle cx="390.6" cy="435.2" r="1.3" fill="#EC4234"/>
<circle cx="394.1" cy="436" r="1.3" fill="#EC4234"/>
<circle cx="393.1" cy="439" r="1.3" fill="#EC4234"/>
<circle cx="399.6" cy="437.7" r="1.3" fill="#EC4234"/>
<circle cx="401.1" cy="433.4" r="1.3" fill="#EC4234"/>
<circle cx="402.9" cy="433" r="1.3" fill="#EC4234"/>
<circle cx="405.1" cy="435.2" r="1.3" fill="#EC4234"/>
<circle cx="407.6" cy="436.2" r="1.3" fill="#EC4234"/>
<circle cx="408.2" cy="437.7" r="1.3" fill="#EC4234"/>
<circle cx="401.6" cy="441.2" r="1.3" fill="#EC4234"/>
<circle cx="402.6" cy="443.3" r="1.3" fill="#EC4234"/>
<circle cx="396.1" cy="446" r="1.3" fill="#EC4234"/>
<circle cx="405.1" cy="445.3" r="1.3" fill="#EC4234"/>
<circle cx="406.6" cy="445.3" r="1.3" fill="#EC4234"/>
<circle cx="408.7" cy="444.3" r="1.3" fill="#EC4234"/>
<circle cx="387.5" cy="450.3" r="1.3" fill="#EC4234"/>
<circle cx="388" cy="449.3" r="1.3" fill="#EC4234"/>
<circle cx="391.1" cy="451.3" r="1.3" fill="#EC4234"/>
<circle cx="393.1" cy="451.5" r="1.3" fill="#EC4234"/>
<circle cx="400.1" cy="450.5" r="1.3" fill="#EC4234"/>
<circle cx="401.8" cy="450.1" r="1.3" fill="#EC4234"/>
<circle cx="386.8" cy="455.3" r="1.3" fill="#EC4234"/>
<circle cx="397.1" cy="458" r="1.3" fill="#EC4234"/>
<circle cx="409.7" cy="427.4" r="1.3" fill="#EC4234"/>
<circle cx="411.2" cy="441.2" r="1.3" fill="#EC4234"/>
<circle cx="414.2" cy="448.8" r="1.3" fill="#EC4234"/>
<circle cx="418" cy="450.5" r="1.3" fill="#EC4234"/>
<circle cx="415" cy="442.5" r="1.3" fill="#EC4234"/>
<circle cx="412.2" cy="433.2" r="1.3" fill="#EC4234"/>
<circle cx="413.2" cy="434.7" r="1.3" fill="#EC4234"/>
<circle cx="413.7" cy="436.2" r="1.3" fill="#EC4234"/>
<circle cx="415.2" cy="435.2" r="1.3" fill="#EC4234"/>
<circle cx="412.7" cy="437.2" r="1.3" fill="#EC4234"/>
<circle cx="416.2" cy="428.2" r="1.3" fill="#EC4234"/>
<circle cx="417.7" cy="429.2" r="1.3" fill="#EC4234"/>
<circle cx="418.7" cy="429.7" r="1.3" fill="#EC4234"/>
<circle cx="419.7" cy="428.7" r="1.3" fill="#EC4234"/>
<circle cx="418.5" cy="421.6" r="1.3" fill="#EC4234"/>
<circle cx="419.2" cy="425.4" r="1.3" fill="#EC4234"/>
<circle cx="421.2" cy="435.2" r="1.3" fill="#EC4234"/>
<circle cx="420.7" cy="436.4" r="1.3" fill="#EC4234"/>
<circle cx="421.2" cy="442.3" r="1.3" fill="#EC4234"/>
<circle cx="421.7" cy="443.3" r="1.3" fill="#EC4234"/>
<circle cx="422.2" cy="427.2" r="1.3" fill="#EC4234"/>
<circle cx="425.2" cy="414.6" r="1.3" fill="#EC4234"/>
<circle cx="427.2" cy="416.1" r="1.3" fill="#EC4234"/>
<circle cx="424.7" cy="430.2" r="1.3" fill="#EC4234"/>
<circle cx="426.7" cy="427.2" r="1.3" fill="#EC4234"/>
<circle cx="428.3" cy="427.7" r="1.3" fill="#EC4234"/>
<circle cx="429.8" cy="426.2" r="1.3" fill="#EC4234"/>
<circle cx="430.3" cy="421.6" r="1.3" fill="#EC4234"/>
<circle cx="433.1" cy="421.6" r="1.3" fill="#EC4234"/>
<circle cx="434.3" cy="422.7" r="1.3" fill="#EC4234"/>
<circle cx="427.2" cy="431.2" r="1.3" fill="#EC4234"/>
<circle cx="429.3" cy="433.2" r="1.3" fill="#EC4234"/>
<circle cx="428.8" cy="435.2" r="1.3" fill="#EC4234"/>
<circle cx="426.7" cy="438" r="1.3" fill="#EC4234"/>
<circle cx="431.3" cy="439.7" r="1.3" fill="#EC4234"/>
<circle cx="435.8" cy="408.6" r="1.3" fill="#EC4234"/>
<circle cx="436.8" cy="409.6" r="1.3" fill="#EC4234"/>
<circle cx="438.8" cy="403.1" r="1.3" fill="#EC4234"/>
<circle cx="440.3" cy="410.1" r="1.3" fill="#EC4234"/>
<circle cx="436.5" cy="415.1" r="1.3" fill="#EC4234"/>
<circle cx="442.3" cy="399.5" r="1.3" fill="#EC4234"/>
<circle cx="432.8" cy="426.7" r="1.3" fill="#EC4234"/>
<circle cx="434.3" cy="428.7" r="1.3" fill="#EC4234"/>
<circle cx="435.8" cy="427.2" r="1.3" fill="#EC4234"/>
<circle cx="437.3" cy="429.2" r="1.3" fill="#EC4234"/>
<circle cx="433.3" cy="433.2" r="1.3" fill="#EC4234"/>
<circle cx="435.3" cy="433.2" r="1.3" fill="#EC4234"/>
<circle cx="437.3" cy="434.2" r="1.3" fill="#EC4234"/>
<circle cx="438.3" cy="434.7" r="1.3" fill="#EC4234"/>
<circle cx="441.3" cy="433.2" r="1.3" fill="#EC4234"/>
<circle cx="442.3" cy="441.2" r="1.3" fill="#EC4234"/>
<circle cx="443" cy="399.8" r="1.3" fill="#EC4234"/>
<circle cx="439" cy="403.1" r="1.3" fill="#EC4234"/>
<circle cx="440" cy="410.3" r="1.3" fill="#EC4234"/>
<circle cx="448" cy="410.8" r="1.3" fill="#EC4234"/>
<circle cx="444.8" cy="413.9" r="1.3" fill="#EC4234"/>
<circle cx="446" cy="420.6" r="1.3" fill="#EC4234"/>
<circle cx="456.6" cy="420.4" r="1.3" fill="#EC4234"/>
<circle cx="439" cy="429.2" r="1.3" fill="#EC4234"/>
<circle cx="441.5" cy="433.2" r="1.3" fill="#EC4234"/>
<circle cx="440.5" cy="434" r="1.3" fill="#EC4234"/>
<circle cx="446.5" cy="432.4" r="1.3" fill="#EC4234"/>
<circle cx="444.2" cy="435.2" r="1.3" fill="#EC4234"/>
<circle cx="449.6" cy="428.4" r="1.3" fill="#EC4234"/>
<circle cx="451.9" cy="430.4" r="1.3" fill="#EC4234"/>
<circle cx="452.6" cy="433.2" r="1.3" fill="#EC4234"/>
<circle cx="442.8" cy="441.2" r="1.3" fill="#EC4234"/>
<circle cx="462.9" cy="430.2" r="1.3" fill="#EC4234"/>
<circle cx="469.2" cy="425.5" r="1.3" fill="#EC4234"/>
<circle cx="474.2" cy="426.5" r="1.3" fill="#EC4234"/>
<circle cx="473.7" cy="417.6" r="1.3" fill="#EC4234"/>
<circle cx="488" cy="405.4" r="1.3" fill="#EC4234"/>
<circle cx="489.1" cy="434" r="1.3" fill="#EC4234"/>
<circle cx="495.1" cy="432.4" r="1.3" fill="#EC4234"/>
<circle cx="421.21" cy="432.42" r="1.3" fill="#EC4234"/>
<circle cx="435.33" cy="432.62" r="1.3" fill="#EC4234"/>
<circle cx="405.23" cy="429.55" r="1.3" fill="#EC4234"/>
<circle cx="407.83" cy="435.46" r="1.3" fill="#EC4234"/>
<circle cx="424.4" cy="432.45" r="1.3" fill="#EC4234"/>
<circle cx="418.27" cy="433.43" r="1.3" fill="#EC4234"/>
<circle cx="429.62" cy="427.7" r="1.3" fill="#EC4234"/>
<circle cx="410.5" cy="436.61" r="1.3" fill="#EC4234"/>
<circle cx="413.33" cy="437.48" r="1.3" fill="#EC4234"/>
<circle cx="437.33" cy="433.44" r="1.3" fill="#EC4234"/>
<circle cx="425.66" cy="433.35" r="1.3" fill="#EC4234"/>
<circle cx="431.11" cy="429.17" r="1.3" fill="#EC4234"/>
<circle cx="408.56" cy="434.32" r="1.3" fill="#EC4234"/>
<circle cx="430.4" cy="436.53" r="1.3" fill="#EC4234"/>
<circle cx="419.76" cy="435.8" r="1.3" fill="#EC4234"/>
<circle cx="412.35" cy="436.14" r="1.3" fill="#EC4234"/>
<circle cx="414.84" cy="435.25" r="1.3" fill="#EC4234"/>
<circle cx="436.02" cy="429.48" r="1.3" fill="#EC4234"/>
<circle cx="435.78" cy="434.14" r="1.3" fill="#EC4234"/>
<circle cx="422.21" cy="434.41" r="1.3" fill="#EC4234"/>
<text x="0" y="0" transform="translate(386.3,470.4) scale(0.86,1)" font-size="9.9" text-anchor="middle" fill="#262626" >1.5</text>
<text x="0" y="0" transform="translate(419.8,470.4) scale(0.86,1)" font-size="9.9" text-anchor="middle" fill="#262626" >2.0</text>
<text x="0" y="0" transform="translate(453.3,470.4) scale(0.86,1)" font-size="9.9" text-anchor="middle" fill="#262626" >2.5</text>
<text x="0" y="0" transform="translate(486.8,470.4) scale(0.86,1)" font-size="9.9" text-anchor="middle" fill="#262626" >3.0</text>
<text x="0" y="0" transform="translate(378,417.1) scale(0.86,1)" font-size="9.9" text-anchor="end" fill="#262626" >2.25</text>
<text x="0" y="0" transform="translate(378,439.8) scale(0.86,1)" font-size="9.9" text-anchor="end" fill="#262626" >2.00</text>
<text x="0" y="0" transform="translate(378,462.4) scale(0.86,1)" font-size="9.9" text-anchor="end" fill="#262626" >1.75</text>
<text x="0" y="0" transform="translate(441.2,394.3) scale(0.89,1)" font-size="10.45" text-anchor="middle" fill="#262626" ><tspan font-style="italic">r</tspan> = 0.54, CI [0.4, 0.66]</text>
<text x="0" y="0" transform="translate(441.2,481.7) scale(0.915,1)" font-size="10.5" text-anchor="middle" fill="#262626" ><tspan font-style="italic">SALVE</tspan><tspan font-style="italic" font-size="8.09" dy="1.0">Test</tspan><tspan dy="-1.0"></tspan></text>
<text x="0" y="0" font-size="10.5" text-anchor="middle" fill="#262626" transform="translate(358.7,428.7) rotate(-90) scale(0.89,1)"><tspan font-style="italic">SALVE</tspan><tspan font-style="italic" font-size="8.09" dy="1.0">Train</tspan><tspan dy="-1.0"></tspan></text>
<rect x="548" y="396.8" width="112.9" height="63.8" fill="#EAEAF2" />
<line x1="573.9" y1="396.8" x2="573.9" y2="460.6" stroke="#FFFFFF" stroke-width="0.8" />
<line x1="606.15" y1="396.8" x2="606.15" y2="460.6" stroke="#FFFFFF" stroke-width="0.8" />
<line x1="638.4" y1="396.8" x2="638.4" y2="460.6" stroke="#FFFFFF" stroke-width="0.8" />
<line x1="548" y1="412.2" x2="660.9" y2="412.2" stroke="#FFFFFF" stroke-width="0.8" />
<line x1="548" y1="430.3" x2="660.9" y2="430.3" stroke="#FFFFFF" stroke-width="0.8" />
<line x1="548" y1="448.6" x2="660.9" y2="448.6" stroke="#FFFFFF" stroke-width="0.8" />
<path d="M552.2,413.5 L580,422 L605,425 L630,424.5 L656,425.9 L656,456.9 L630,443 L605,433.5 L580,432 L552.2,435.8Z" fill="#EC4234" fill-opacity="0.15"/>
<line x1="552.2" y1="425.1" x2="656" y2="437" stroke="#EC4234" stroke-width="0.9" />
<circle cx="552.2" cy="427.1" r="1.3" fill="#EC4234"/>
<circle cx="561.4" cy="422.9" r="1.3" fill="#EC4234"/>
<circle cx="569.6" cy="427.1" r="1.3" fill="#EC4234"/>
<circle cx="567.9" cy="431.3" r="1.3" fill="#EC4234"/>
<circle cx="578.3" cy="400.3" r="1.3" fill="#EC4234"/>
<circle cx="588.2" cy="399.8" r="1.3" fill="#EC4234"/>
<circle cx="579" cy="418.9" r="1.3" fill="#EC4234"/>
<circle cx="580.3" cy="424.6" r="1.3" fill="#EC4234"/>
<circle cx="584.5" cy="424.6" r="1.3" fill="#EC4234"/>
<circle cx="575.8" cy="442" r="1.3" fill="#EC4234"/>
<circle cx="577" cy="458.6" r="1.3" fill="#EC4234"/>
<circle cx="588.2" cy="440.8" r="1.3" fill="#EC4234"/>
<circle cx="594.4" cy="434.6" r="1.3" fill="#EC4234"/>
<circle cx="596.4" cy="415.9" r="1.3" fill="#EC4234"/>
<circle cx="604.3" cy="426.4" r="1.3" fill="#EC4234"/>
<circle cx="610.5" cy="426.6" r="1.3" fill="#EC4234"/>
<circle cx="606.1" cy="454.9" r="1.3" fill="#EC4234"/>
<circle cx="612.3" cy="453.2" r="1.3" fill="#EC4234"/>
<circle cx="619.7" cy="415.9" r="1.3" fill="#EC4234"/>
<circle cx="622.2" cy="439.5" r="1.3" fill="#EC4234"/>
<circle cx="625.4" cy="452.4" r="1.3" fill="#EC4234"/>
<circle cx="656" cy="425.9" r="1.3" fill="#EC4234"/>
<text x="0" y="0" transform="translate(573.9,470.4) scale(0.86,1)" font-size="9.9" text-anchor="middle" fill="#262626" >1.75</text>
<text x="0" y="0" transform="translate(606.15,470.4) scale(0.86,1)" font-size="9.9" text-anchor="middle" fill="#262626" >2.00</text>
<text x="0" y="0" transform="translate(638.4,470.4) scale(0.86,1)" font-size="9.9" text-anchor="middle" fill="#262626" >2.25</text>
<text x="0" y="0" transform="translate(544.4,415.7) scale(0.86,1)" font-size="9.9" text-anchor="end" fill="#262626" >2.1</text>
<text x="0" y="0" transform="translate(544.4,433.8) scale(0.86,1)" font-size="9.9" text-anchor="end" fill="#262626" >2.0</text>
<text x="0" y="0" transform="translate(544.4,452.1) scale(0.86,1)" font-size="9.9" text-anchor="end" fill="#262626" >1.9</text>
<text x="0" y="0" transform="translate(604.45,394.3) scale(0.89,1)" font-size="10.45" text-anchor="middle" fill="#262626" ><tspan font-style="italic">r</tspan> = -0.18, CI [-0.56, 0.26]</text>
<text x="0" y="0" transform="translate(604.45,481.7) scale(0.915,1)" font-size="10.5" text-anchor="middle" fill="#262626" >Be-MoVe</text>
<text x="0" y="0" font-size="10.5" text-anchor="middle" fill="#262626" transform="translate(528.5,428.7) rotate(-90) scale(0.89,1)"><tspan font-style="italic">SALVE</tspan><tspan font-style="italic" font-size="8.09" dy="1.0">All</tspan><tspan dy="-1.0"></tspan></text>
<rect x="381.9" y="502.6" width="118.8" height="63.3" fill="#EAEAF2" />
<line x1="392.6" y1="502.6" x2="392.6" y2="565.9" stroke="#FFFFFF" stroke-width="0.8" />
<line x1="424.6" y1="502.6" x2="424.6" y2="565.9" stroke="#FFFFFF" stroke-width="0.8" />
<line x1="456.6" y1="502.6" x2="456.6" y2="565.9" stroke="#FFFFFF" stroke-width="0.8" />
<line x1="488.6" y1="502.6" x2="488.6" y2="565.9" stroke="#FFFFFF" stroke-width="0.8" />
<line x1="381.9" y1="565.9" x2="500.7" y2="565.9" stroke="#FFFFFF" stroke-width="0.8" />
<line x1="381.9" y1="537.4" x2="500.7" y2="537.4" stroke="#FFFFFF" stroke-width="0.8" />
<line x1="381.9" y1="508.9" x2="500.7" y2="508.9" stroke="#FFFFFF" stroke-width="0.8" />
<rect x="387.1" y="563.05" width="5.4" height="2.85" fill="#EC4234" fill-opacity="0.52" stroke="#FFFFFF" stroke-opacity="0.45" stroke-width="0.6"/>
<rect x="392.5" y="551.65" width="5.4" height="14.25" fill="#EC4234" fill-opacity="0.52" stroke="#FFFFFF" stroke-opacity="0.45" stroke-width="0.6"/>
<rect x="397.9" y="554.5" width="5.4" height="11.4" fill="#EC4234" fill-opacity="0.52" stroke="#FFFFFF" stroke-opacity="0.45" stroke-width="0.6"/>
<rect x="403.3" y="545.95" width="5.4" height="19.95" fill="#EC4234" fill-opacity="0.52" stroke="#FFFFFF" stroke-opacity="0.45" stroke-width="0.6"/>
<rect x="408.7" y="531.7" width="5.4" height="34.2" fill="#EC4234" fill-opacity="0.52" stroke="#FFFFFF" stroke-opacity="0.45" stroke-width="0.6"/>
<rect x="414.1" y="506.05" width="5.4" height="59.85" fill="#EC4234" fill-opacity="0.52" stroke="#FFFFFF" stroke-opacity="0.45" stroke-width="0.6"/>
<rect x="419.5" y="528.85" width="5.4" height="37.05" fill="#EC4234" fill-opacity="0.52" stroke="#FFFFFF" stroke-opacity="0.45" stroke-width="0.6"/>
<rect x="424.9" y="528.85" width="5.4" height="37.05" fill="#EC4234" fill-opacity="0.52" stroke="#FFFFFF" stroke-opacity="0.45" stroke-width="0.6"/>
<rect x="430.3" y="517.45" width="5.4" height="48.45" fill="#EC4234" fill-opacity="0.52" stroke="#FFFFFF" stroke-opacity="0.45" stroke-width="0.6"/>
<rect x="435.7" y="545.95" width="5.4" height="19.95" fill="#EC4234" fill-opacity="0.52" stroke="#FFFFFF" stroke-opacity="0.45" stroke-width="0.6"/>
<rect x="441.1" y="554.5" width="5.4" height="11.4" fill="#EC4234" fill-opacity="0.52" stroke="#FFFFFF" stroke-opacity="0.45" stroke-width="0.6"/>
<rect x="446.5" y="548.8" width="5.4" height="17.1" fill="#EC4234" fill-opacity="0.52" stroke="#FFFFFF" stroke-opacity="0.45" stroke-width="0.6"/>
<rect x="451.9" y="563.05" width="5.4" height="2.85" fill="#EC4234" fill-opacity="0.52" stroke="#FFFFFF" stroke-opacity="0.45" stroke-width="0.6"/>
<rect x="457.3" y="563.05" width="5.4" height="2.85" fill="#EC4234" fill-opacity="0.52" stroke="#FFFFFF" stroke-opacity="0.45" stroke-width="0.6"/>
<rect x="462.7" y="560.2" width="5.4" height="5.7" fill="#EC4234" fill-opacity="0.52" stroke="#FFFFFF" stroke-opacity="0.45" stroke-width="0.6"/>
<rect x="468.1" y="560.2" width="5.4" height="5.7" fill="#EC4234" fill-opacity="0.52" stroke="#FFFFFF" stroke-opacity="0.45" stroke-width="0.6"/>
<rect x="489.7" y="560.2" width="5.4" height="5.7" fill="#EC4234" fill-opacity="0.52" stroke="#FFFFFF" stroke-opacity="0.45" stroke-width="0.6"/>
<path d="M386.8,562 C388.28,560.87 393,557.82 395.7,555.2 C398.4,552.58 400.73,549.88 403,546.3 C405.27,542.72 407.37,537.18 409.3,533.7 C411.23,530.22 413.03,527.28 414.6,525.4 C416.17,523.52 417.32,522.85 418.7,522.4 C420.08,521.95 421.32,522.12 422.9,522.7 C424.48,523.28 426.45,524.23 428.2,525.9 C429.95,527.57 431.67,530.17 433.4,532.7 C435.13,535.23 436.63,538.13 438.6,541.1 C440.57,544.07 443.22,547.97 445.2,550.5 C447.18,553.03 448.75,554.77 450.5,556.3 C452.25,557.83 453.97,558.88 455.7,559.7 C457.43,560.52 459.15,560.82 460.9,561.2 C462.65,561.58 464.45,561.68 466.2,562 C467.95,562.32 469.67,562.72 471.4,563.1 C473.13,563.48 474.85,564 476.6,564.3 C478.35,564.6 480.15,564.85 481.9,564.9 C483.65,564.95 484.92,564.73 487.1,564.6 C489.28,564.47 493.68,564.18 495,564.1" fill="none" stroke="#EC4234" stroke-width="0.8"/>
<text x="0" y="0" transform="translate(392.6,575.7) scale(0.86,1)" font-size="9.9" text-anchor="middle" fill="#262626" >−0.5</text>
<text x="0" y="0" transform="translate(424.6,575.7) scale(0.86,1)" font-size="9.9" text-anchor="middle" fill="#262626" >0.0</text>
<text x="0" y="0" transform="translate(456.6,575.7) scale(0.86,1)" font-size="9.9" text-anchor="middle" fill="#262626" >0.5</text>
<text x="0" y="0" transform="translate(488.6,575.7) scale(0.86,1)" font-size="9.9" text-anchor="middle" fill="#262626" >1.0</text>
<text x="0" y="0" transform="translate(378.3,569.4) scale(0.86,1)" font-size="9.9" text-anchor="end" fill="#262626" >0</text>
<text x="0" y="0" transform="translate(378.3,540.9) scale(0.86,1)" font-size="9.9" text-anchor="end" fill="#262626" >10</text>
<text x="0" y="0" transform="translate(378.3,512.4) scale(0.86,1)" font-size="9.9" text-anchor="end" fill="#262626" >20</text>
<text x="0" y="0" transform="translate(441.3,500.1) scale(0.89,1)" font-size="10.45" text-anchor="middle" fill="#262626" ><tspan font-style="italic">RMSE</tspan> = 0.29</text>
<text x="0" y="0" transform="translate(441.3,587) scale(0.915,1)" font-size="10.5" text-anchor="middle" fill="#262626" ><tspan font-style="italic">SALVE</tspan><tspan font-style="italic" font-size="8.09" dy="1.0">Test</tspan><tspan dy="-1.0"></tspan> – <tspan font-style="italic">SALVE</tspan><tspan font-style="italic" font-size="8.09" dy="1.0">Train</tspan><tspan dy="-1.0"></tspan></text>
<text x="0" y="0" font-size="10.5" text-anchor="middle" fill="#262626" transform="translate(365.5,534.25) rotate(-90) scale(0.89,1)">Count</text>
<rect x="548" y="502.3" width="112.9" height="63.8" fill="#EAEAF2" />
<line x1="575.8" y1="502.3" x2="575.8" y2="566.1" stroke="#FFFFFF" stroke-width="0.8" />
<line x1="608.8" y1="502.3" x2="608.8" y2="566.1" stroke="#FFFFFF" stroke-width="0.8" />
<line x1="641.6" y1="502.3" x2="641.6" y2="566.1" stroke="#FFFFFF" stroke-width="0.8" />
<line x1="548" y1="566.1" x2="660.9" y2="566.1" stroke="#FFFFFF" stroke-width="0.8" />
<line x1="548" y1="535.5" x2="660.9" y2="535.5" stroke="#FFFFFF" stroke-width="0.8" />
<line x1="548" y1="504.9" x2="660.9" y2="504.9" stroke="#FFFFFF" stroke-width="0.8" />
<rect x="553" y="520.2" width="10.27" height="45.9" fill="#EC4234" fill-opacity="0.52" stroke="#FFFFFF" stroke-opacity="0.45" stroke-width="0.6"/>
<rect x="563.27" y="520.2" width="10.27" height="45.9" fill="#EC4234" fill-opacity="0.52" stroke="#FFFFFF" stroke-opacity="0.45" stroke-width="0.6"/>
<rect x="573.54" y="520.2" width="10.27" height="45.9" fill="#EC4234" fill-opacity="0.52" stroke="#FFFFFF" stroke-opacity="0.45" stroke-width="0.6"/>
<rect x="583.81" y="535.5" width="10.27" height="30.6" fill="#EC4234" fill-opacity="0.52" stroke="#FFFFFF" stroke-opacity="0.45" stroke-width="0.6"/>
<rect x="594.08" y="504.9" width="10.27" height="61.2" fill="#EC4234" fill-opacity="0.52" stroke="#FFFFFF" stroke-opacity="0.45" stroke-width="0.6"/>
<rect x="604.35" y="535.5" width="10.27" height="30.6" fill="#EC4234" fill-opacity="0.52" stroke="#FFFFFF" stroke-opacity="0.45" stroke-width="0.6"/>
<rect x="624.89" y="520.2" width="10.27" height="45.9" fill="#EC4234" fill-opacity="0.52" stroke="#FFFFFF" stroke-opacity="0.45" stroke-width="0.6"/>
<rect x="635.16" y="550.8" width="10.27" height="15.3" fill="#EC4234" fill-opacity="0.52" stroke="#FFFFFF" stroke-opacity="0.45" stroke-width="0.6"/>
<rect x="645.43" y="550.8" width="10.27" height="15.3" fill="#EC4234" fill-opacity="0.52" stroke="#FFFFFF" stroke-opacity="0.45" stroke-width="0.6"/>
<path d="M553,544.5 C554.52,542.43 558.92,535.2 562.1,532.1 C565.28,529 568.78,527.22 572.1,525.9 C575.42,524.58 578.7,524.12 582,524.2 C585.3,524.28 588.58,525.28 591.9,526.4 C595.22,527.52 598.17,528.92 601.9,530.9 C605.63,532.88 610.17,535.82 614.3,538.3 C618.43,540.78 622.57,543.52 626.7,545.8 C630.83,548.08 634.27,550.35 639.1,552 C643.93,553.65 652.93,555.08 655.7,555.7" fill="none" stroke="#EC4234" stroke-width="0.8"/>
<text x="0" y="0" transform="translate(575.8,575.9) scale(0.86,1)" font-size="9.9" text-anchor="middle" fill="#262626" >−0.25</text>
<text x="0" y="0" transform="translate(608.8,575.9) scale(0.86,1)" font-size="9.9" text-anchor="middle" fill="#262626" >0.00</text>
<text x="0" y="0" transform="translate(641.6,575.9) scale(0.86,1)" font-size="9.9" text-anchor="middle" fill="#262626" >0.25</text>
<text x="0" y="0" transform="translate(544.4,569.6) scale(0.86,1)" font-size="9.9" text-anchor="end" fill="#262626" >0</text>
<text x="0" y="0" transform="translate(544.4,539) scale(0.86,1)" font-size="9.9" text-anchor="end" fill="#262626" >2</text>
<text x="0" y="0" transform="translate(544.4,508.4) scale(0.86,1)" font-size="9.9" text-anchor="end" fill="#262626" >4</text>
<text x="0" y="0" transform="translate(604.45,499.8) scale(0.89,1)" font-size="10.45" text-anchor="middle" fill="#262626" ><tspan font-style="italic">RMSE</tspan> = 0.24</text>
<text x="0" y="0" transform="translate(604.45,587.2) scale(0.915,1)" font-size="10.5" text-anchor="middle" fill="#262626" >Be-MoVe–<tspan font-style="italic">SALVE</tspan><tspan font-style="italic" font-size="8.09" dy="1.0">All</tspan><tspan dy="-1.0"></tspan></text>
<text x="0" y="0" font-size="10.5" text-anchor="middle" fill="#262626" transform="translate(536.6,534.2) rotate(-90) scale(0.89,1)">Count</text>
<rect x="134.8" y="242.1" width="159.4" height="95.9" fill="#EAEAF2" />
<line x1="149" y1="242.1" x2="149" y2="338" stroke="#FFFFFF" stroke-width="0.8" />
<line x1="171.5" y1="242.1" x2="171.5" y2="338" stroke="#FFFFFF" stroke-width="0.8" />
<line x1="194" y1="242.1" x2="194" y2="338" stroke="#FFFFFF" stroke-width="0.8" />
<line x1="216.5" y1="242.1" x2="216.5" y2="338" stroke="#FFFFFF" stroke-width="0.8" />
<line x1="239" y1="242.1" x2="239" y2="338" stroke="#FFFFFF" stroke-width="0.8" />
<line x1="261.5" y1="242.1" x2="261.5" y2="338" stroke="#FFFFFF" stroke-width="0.8" />
<line x1="284" y1="242.1" x2="284" y2="338" stroke="#FFFFFF" stroke-width="0.8" />
<line x1="134.8" y1="256.1" x2="294.2" y2="256.1" stroke="#FFFFFF" stroke-width="0.8" />
<line x1="134.8" y1="269.8" x2="294.2" y2="269.8" stroke="#FFFFFF" stroke-width="0.8" />
<line x1="134.8" y1="283.5" x2="294.2" y2="283.5" stroke="#FFFFFF" stroke-width="0.8" />
<line x1="134.8" y1="297.3" x2="294.2" y2="297.3" stroke="#FFFFFF" stroke-width="0.8" />
<line x1="134.8" y1="311" x2="294.2" y2="311" stroke="#FFFFFF" stroke-width="0.8" />
<line x1="134.8" y1="324.8" x2="294.2" y2="324.8" stroke="#FFFFFF" stroke-width="0.8" />
<line x1="261.5" y1="242.1" x2="261.5" y2="338" stroke="#BDBDBD" stroke-width="0.6" />
<text x="125.1" y="259.5" font-size="8.9" text-anchor="end" fill="#262626" textLength="71.5" lengthAdjust="spacingAndGlyphs">Main Streets_50 m</text>
<text x="125.1" y="273.2" font-size="8.9" text-anchor="end" fill="#262626" textLength="65.4" lengthAdjust="spacingAndGlyphs">Highways_300 m</text>
<text x="125.1" y="286.9" font-size="8.9" text-anchor="end" fill="#262626" textLength="123.1" lengthAdjust="spacingAndGlyphs">Commercial Areas (Facilities)_300 m</text>
<text x="125.1" y="300.7" font-size="8.9" text-anchor="end" fill="#262626" textLength="121.4" lengthAdjust="spacingAndGlyphs">Commercial Areas (Facilities)_50 m</text>
<text x="125.1" y="314.4" font-size="8.9" text-anchor="end" fill="#262626" textLength="121" lengthAdjust="spacingAndGlyphs">Commercial Areas (Storage)_300 m</text>
<text x="125.1" y="328.2" font-size="8.9" text-anchor="end" fill="#262626" textLength="94.4" lengthAdjust="spacingAndGlyphs">Sum of 72 other features</text>
<line x1="149" y1="338.5" x2="149" y2="340.6" stroke="#444444" stroke-width="0.6" />
<text x="149" y="346.4" font-size="5" text-anchor="middle" fill="#333333" >−0.25</text>
<line x1="171.5" y1="338.5" x2="171.5" y2="340.6" stroke="#444444" stroke-width="0.6" />
<text x="171.5" y="346.4" font-size="5" text-anchor="middle" fill="#333333" >−0.20</text>
<line x1="194" y1="338.5" x2="194" y2="340.6" stroke="#444444" stroke-width="0.6" />
<text x="194" y="346.4" font-size="5" text-anchor="middle" fill="#333333" >−0.15</text>
<line x1="216.5" y1="338.5" x2="216.5" y2="340.6" stroke="#444444" stroke-width="0.6" />
<text x="216.5" y="346.4" font-size="5" text-anchor="middle" fill="#333333" >−0.10</text>
<line x1="239" y1="338.5" x2="239" y2="340.6" stroke="#444444" stroke-width="0.6" />
<text x="239" y="346.4" font-size="5" text-anchor="middle" fill="#333333" >−0.05</text>
<line x1="261.5" y1="338.5" x2="261.5" y2="340.6" stroke="#444444" stroke-width="0.6" />
<text x="261.5" y="346.4" font-size="5" text-anchor="middle" fill="#333333" >0.00</text>
<line x1="284" y1="338.5" x2="284" y2="340.6" stroke="#444444" stroke-width="0.6" />
<text x="284" y="346.4" font-size="5" text-anchor="middle" fill="#333333" >0.05</text>
<text x="214.5" y="353.9" font-size="5.9" text-anchor="middle" fill="#262626" >SHAP value (impact on model output)</text>
<defs><linearGradient id="gBlues" x1="0" y1="0" x2="0" y2="1"><stop offset="0" stop-color="#08306b"/><stop offset="0.12" stop-color="#08519c"/><stop offset="0.25" stop-color="#2171b5"/><stop offset="0.38" stop-color="#4292c6"/><stop offset="0.5" stop-color="#6baed6"/><stop offset="0.62" stop-color="#9ecae1"/><stop offset="0.75" stop-color="#c6dbef"/><stop offset="0.88" stop-color="#deebf7"/><stop offset="1" stop-color="#f7fbff"/></linearGradient></defs>
<rect x="303.7" y="242.1" width="1.8" height="96.7" fill="url(#gBlues)"/>
<text x="306.6" y="244.3" font-size="5.3" text-anchor="start" fill="#333333" >High</text>
<text x="306.6" y="341.6" font-size="5.3" text-anchor="start" fill="#333333" >Low</text>
<text x="0" y="0" font-size="5.6" text-anchor="middle" fill="#333333" transform="translate(321.6,290.05) rotate(-90)">Feature value</text>
<ellipse cx="280" cy="256.1" rx="7.5" ry="1.6" fill="#f1f7fd" fill-opacity="1.0"/>
<ellipse cx="280" cy="256.1" rx="3.6" ry="5.6" fill="#f1f7fd" fill-opacity="1.0"/>
<circle cx="153.8" cy="256.43" r="0.95" fill="#4a98c9"/>
<circle cx="160.94" cy="256.1" r="0.95" fill="#08468c"/>
<circle cx="161.21" cy="256.32" r="0.95" fill="#084b93"/>
<circle cx="162.1" cy="255.97" r="0.95" fill="#0c56a0"/>
<circle cx="162.73" cy="255.69" r="0.95" fill="#083979"/>
<circle cx="162.95" cy="256.23" r="0.95" fill="#0a549e"/>
<circle cx="163.76" cy="256.53" r="0.95" fill="#084489"/>
<circle cx="164.5" cy="256.47" r="0.95" fill="#084387"/>
<circle cx="165.26" cy="256.01" r="0.95" fill="#083979"/>
<circle cx="165.96" cy="255.98" r="0.95" fill="#084082"/>
<circle cx="166.37" cy="255.99" r="0.95" fill="#0d57a1"/>
<circle cx="166.62" cy="256.18" r="0.95" fill="#09529d"/>
<circle cx="167.66" cy="256.6" r="0.95" fill="#08468b"/>
<circle cx="168.18" cy="256.34" r="0.95" fill="#0b559f"/>
<circle cx="168.74" cy="256.11" r="0.95" fill="#084991"/>
<circle cx="169.49" cy="255.59" r="0.95" fill="#084a92"/>
<circle cx="170.15" cy="256.06" r="0.95" fill="#084286"/>
<circle cx="170.77" cy="256.37" r="0.95" fill="#0b549f"/>
<circle cx="170.85" cy="255.9" r="0.95" fill="#0b549f"/>
<circle cx="171.91" cy="256.28" r="0.95" fill="#083b7b"/>
<circle cx="172.49" cy="255.45" r="0.95" fill="#083370"/>
<circle cx="172.9" cy="256.3" r="0.95" fill="#084286"/>
<circle cx="173.47" cy="256.34" r="0.95" fill="#083978"/>
<circle cx="174.18" cy="255.93" r="0.95" fill="#084d97"/>
<circle cx="174.54" cy="255.66" r="0.95" fill="#09529d"/>
<circle cx="175.48" cy="256.01" r="0.95" fill="#084e97"/>
<circle cx="175.85" cy="256.28" r="0.95" fill="#083a79"/>
<circle cx="176.78" cy="255.68" r="0.95" fill="#083f81"/>
<circle cx="177.51" cy="256.21" r="0.95" fill="#084a91"/>
<circle cx="177.85" cy="256.07" r="0.95" fill="#0c56a0"/>
<circle cx="178.74" cy="255.91" r="0.95" fill="#084d96"/>
<circle cx="179.07" cy="255.98" r="0.95" fill="#084184"/>
<circle cx="179.54" cy="255.95" r="0.95" fill="#09539d"/>
<circle cx="180.12" cy="256.47" r="0.95" fill="#083c7d"/>
<circle cx="180.94" cy="255.86" r="0.95" fill="#084a92"/>
<circle cx="181.35" cy="255.91" r="0.95" fill="#084388"/>
<circle cx="182.34" cy="255.9" r="0.95" fill="#084083"/>
<circle cx="182.43" cy="256.29" r="0.95" fill="#083775"/>
<circle cx="183.36" cy="255.64" r="0.95" fill="#084d96"/>
<circle cx="183.75" cy="256.38" r="0.95" fill="#083573"/>
<circle cx="184.43" cy="256" r="0.95" fill="#084e97"/>
<circle cx="184.99" cy="256.13" r="0.95" fill="#083978"/>
<circle cx="185.93" cy="255.86" r="0.95" fill="#08488f"/>
<circle cx="186.2" cy="256.05" r="0.95" fill="#0c56a0"/>
<circle cx="187.26" cy="255.8" r="0.95" fill="#084c94"/>
<circle cx="187.68" cy="256.36" r="0.95" fill="#08336f"/>
<circle cx="187.97" cy="256.01" r="0.95" fill="#084b94"/>
<circle cx="188.63" cy="256.16" r="0.95" fill="#08509a"/>
<circle cx="189.16" cy="255.65" r="0.95" fill="#08519c"/>
<circle cx="189.97" cy="255.86" r="0.95" fill="#084a91"/>
<circle cx="190.69" cy="255.62" r="0.95" fill="#084d97"/>
<circle cx="191.1" cy="255.77" r="0.95" fill="#083a7a"/>
<circle cx="191.56" cy="256.44" r="0.95" fill="#084c94"/>
<circle cx="192.29" cy="255.98" r="0.95" fill="#083674"/>
<circle cx="192.9" cy="256.5" r="0.95" fill="#08316d"/>
<circle cx="193.44" cy="255.67" r="0.95" fill="#08488e"/>
<circle cx="194.51" cy="255.97" r="0.95" fill="#083f81"/>
<circle cx="194.57" cy="255.88" r="0.95" fill="#083a79"/>
<circle cx="195.21" cy="256.1" r="0.95" fill="#09529d"/>
<circle cx="196.15" cy="255.95" r="0.95" fill="#083472"/>
<circle cx="196.89" cy="256.43" r="0.95" fill="#08316d"/>
<circle cx="197.97" cy="256.13" r="0.95" fill="#4191c5"/>
<circle cx="198.65" cy="256.21" r="0.95" fill="#3a8ac2"/>
<circle cx="200.1" cy="256.04" r="0.95" fill="#3787c0"/>
<circle cx="200.76" cy="256.35" r="0.95" fill="#2272b6"/>
<circle cx="202.18" cy="255.98" r="0.95" fill="#509ccc"/>
<circle cx="203.95" cy="255.89" r="0.95" fill="#1d6cb1"/>
<circle cx="204.62" cy="255.87" r="0.95" fill="#2474b7"/>
<circle cx="206.32" cy="255.92" r="0.95" fill="#2878b8"/>
<circle cx="207.17" cy="255.83" r="0.95" fill="#1b69af"/>
<circle cx="208.79" cy="256.13" r="0.95" fill="#3787c0"/>
<circle cx="216.83" cy="255.92" r="0.95" fill="#7ab6d9"/>
<circle cx="217.17" cy="256.28" r="0.95" fill="#73b2d8"/>
<circle cx="218.81" cy="255.81" r="0.95" fill="#71b2d7"/>
<circle cx="219.01" cy="255.93" r="0.95" fill="#6eb0d7"/>
<circle cx="220.5" cy="255.79" r="0.95" fill="#83bbdb"/>
<circle cx="221.38" cy="255.86" r="0.95" fill="#74b3d8"/>
<circle cx="222.44" cy="255.76" r="0.95" fill="#88bedc"/>
<circle cx="223.52" cy="256.53" r="0.95" fill="#81badb"/>
<circle cx="224.35" cy="256.03" r="0.95" fill="#9cc9e1"/>
<circle cx="225.87" cy="256.13" r="0.95" fill="#7bb7d9"/>
<circle cx="226.82" cy="256.58" r="0.95" fill="#a3cce3"/>
<circle cx="227.93" cy="255.98" r="0.95" fill="#8ec1de"/>
<circle cx="230.25" cy="256.06" r="0.95" fill="#a2cce2"/>
<circle cx="235.2" cy="255.8" r="0.95" fill="#abd0e6"/>
<circle cx="235.6" cy="256.07" r="0.95" fill="#a0cbe2"/>
<circle cx="236.54" cy="255.95" r="0.95" fill="#99c7e0"/>
<circle cx="238.67" cy="255.79" r="0.95" fill="#a8cee4"/>
<circle cx="239.65" cy="256.37" r="0.95" fill="#90c3de"/>
<circle cx="240.83" cy="256.32" r="0.95" fill="#a6cde4"/>
<circle cx="242.31" cy="256.21" r="0.95" fill="#a1cbe2"/>
<circle cx="242.99" cy="256.13" r="0.95" fill="#a9cfe5"/>
<circle cx="243.91" cy="255.9" r="0.95" fill="#86bddc"/>
<circle cx="257.19" cy="256.34" r="0.95" fill="#e4eff9"/>
<circle cx="258.78" cy="256.01" r="0.95" fill="#e3eef9"/>
<circle cx="259.4" cy="255.8" r="0.95" fill="#dae8f6"/>
<circle cx="260.91" cy="256.65" r="0.95" fill="#d6e5f4"/>
<circle cx="261.57" cy="256.58" r="0.95" fill="#d6e6f4"/>
<circle cx="262.78" cy="256.22" r="0.95" fill="#e5f0f9"/>
<circle cx="264.69" cy="255.93" r="0.95" fill="#dbe9f6"/>
<circle cx="265.26" cy="255.92" r="0.95" fill="#d3e4f3"/>
<circle cx="266.57" cy="255.4" r="0.95" fill="#eaf3fb"/>
<circle cx="267.34" cy="255.31" r="0.95" fill="#ecf4fc"/>
<circle cx="269.25" cy="256.12" r="0.95" fill="#f3f8fe"/>
<circle cx="270.26" cy="256.21" r="0.95" fill="#ecf4fb"/>
<circle cx="272.58" cy="255.69" r="0.95" fill="#eff6fd"/>
<circle cx="273.4" cy="256.33" r="0.95" fill="#e8f2fa"/>
<ellipse cx="263" cy="269.8" rx="1.5" ry="1" fill="#f3f8fe" fill-opacity="1.0"/>
<ellipse cx="263" cy="269.8" rx="1.5" ry="5" fill="#f3f8fe" fill-opacity="1.0"/>
<ellipse cx="263" cy="283.5" rx="1.5" ry="1" fill="#f3f8fe" fill-opacity="1.0"/>
<ellipse cx="263" cy="283.5" rx="1.5" ry="5" fill="#f3f8fe" fill-opacity="1.0"/>
<ellipse cx="263" cy="297.3" rx="1.5" ry="1" fill="#f3f8fe" fill-opacity="1.0"/>
<ellipse cx="263" cy="297.3" rx="1.5" ry="5" fill="#f3f8fe" fill-opacity="1.0"/>
<ellipse cx="263" cy="311" rx="1.5" ry="1" fill="#f3f8fe" fill-opacity="1.0"/>
<ellipse cx="263" cy="311" rx="1.5" ry="5" fill="#f3f8fe" fill-opacity="1.0"/>
<circle cx="214.3" cy="270.22" r="0.95" fill="#08316c"/>
<circle cx="219.91" cy="269.8" r="0.95" fill="#083b7b"/>
<circle cx="221.06" cy="269.62" r="0.95" fill="#084185"/>
<circle cx="222.15" cy="269.32" r="0.95" fill="#083673"/>
<circle cx="222.36" cy="270.11" r="0.95" fill="#083a7a"/>
<circle cx="228.56" cy="270.05" r="0.95" fill="#083c7d"/>
<circle cx="229.09" cy="270.24" r="0.95" fill="#083c7d"/>
<circle cx="229.21" cy="269.67" r="0.95" fill="#0a549e"/>
<circle cx="230.22" cy="270.19" r="0.95" fill="#084f9a"/>
<circle cx="230.97" cy="269.88" r="0.95" fill="#083d7e"/>
<circle cx="231" cy="270.04" r="0.95" fill="#09529d"/>
<circle cx="232.06" cy="269.97" r="0.95" fill="#0e58a2"/>
<circle cx="232.65" cy="269.79" r="0.95" fill="#083876"/>
<circle cx="233.03" cy="269.09" r="0.95" fill="#084a91"/>
<circle cx="233.41" cy="269.66" r="0.95" fill="#084c95"/>
<circle cx="234.51" cy="269.08" r="0.95" fill="#0e59a2"/>
<circle cx="234.75" cy="270.29" r="0.95" fill="#1360a7"/>
<circle cx="235.74" cy="270.02" r="0.95" fill="#083f81"/>
<circle cx="236.16" cy="270.1" r="0.95" fill="#084083"/>
<circle cx="236.62" cy="269.32" r="0.95" fill="#084184"/>
<circle cx="237.59" cy="269.3" r="0.95" fill="#084d96"/>
<circle cx="237.88" cy="269.69" r="0.95" fill="#084e97"/>
<circle cx="238.63" cy="269.85" r="0.95" fill="#083b7b"/>
<circle cx="238.92" cy="269.45" r="0.95" fill="#084b93"/>
<circle cx="239.6" cy="269.62" r="0.95" fill="#08519c"/>
<circle cx="240.01" cy="270.43" r="0.95" fill="#08468b"/>
<circle cx="241.01" cy="269.85" r="0.95" fill="#083d7e"/>
<circle cx="241.76" cy="269.28" r="0.95" fill="#0e59a2"/>
<circle cx="242.32" cy="269.31" r="0.95" fill="#105ba4"/>
<circle cx="242.85" cy="270.02" r="0.95" fill="#083573"/>
<circle cx="243.19" cy="269.63" r="0.95" fill="#084184"/>
<circle cx="243.63" cy="269.84" r="0.95" fill="#09539d"/>
<circle cx="244.3" cy="269.71" r="0.95" fill="#115da5"/>
<circle cx="245.3" cy="269.21" r="0.95" fill="#084589"/>
<circle cx="245.95" cy="269.85" r="0.95" fill="#0a549e"/>
<circle cx="246.5" cy="269.75" r="0.95" fill="#08468b"/>
<circle cx="247.08" cy="269.86" r="0.95" fill="#083674"/>
<circle cx="247.27" cy="269.97" r="0.95" fill="#084d96"/>
<circle cx="247.81" cy="269.6" r="0.95" fill="#1461a8"/>
<circle cx="248.89" cy="269.75" r="0.95" fill="#084f99"/>
<circle cx="249.55" cy="269.56" r="0.95" fill="#083f82"/>
<circle cx="249.93" cy="270.7" r="0.95" fill="#08478c"/>
<circle cx="250.68" cy="270.16" r="0.95" fill="#0e58a2"/>
<circle cx="250.92" cy="269.2" r="0.95" fill="#08478d"/>
<circle cx="251.97" cy="270.46" r="0.95" fill="#084286"/>
<circle cx="252.57" cy="269.75" r="0.95" fill="#1764ab"/>
<circle cx="252.96" cy="269.99" r="0.95" fill="#0c57a0"/>
<circle cx="253.54" cy="269.78" r="0.95" fill="#08468c"/>
<circle cx="254.05" cy="269.55" r="0.95" fill="#083877"/>
<circle cx="254.65" cy="269.84" r="0.95" fill="#0b549f"/>
<circle cx="263" cy="272.9" r="0.95" fill="#1764ab"/>
<circle cx="206.33" cy="283.26" r="0.95" fill="#083776"/>
<circle cx="207.3" cy="283.64" r="0.95" fill="#08458a"/>
<circle cx="208.58" cy="283.03" r="0.95" fill="#083370"/>
<circle cx="214.69" cy="283.73" r="0.95" fill="#083d7e"/>
<circle cx="215.82" cy="283.42" r="0.95" fill="#083d7e"/>
<circle cx="216.29" cy="283.04" r="0.95" fill="#083370"/>
<circle cx="217.28" cy="283.35" r="0.95" fill="#083674"/>
<circle cx="219.9" cy="283.57" r="0.95" fill="#084489"/>
<circle cx="229.75" cy="283.59" r="0.95" fill="#084a92"/>
<circle cx="230.99" cy="283.28" r="0.95" fill="#083f82"/>
<circle cx="231.18" cy="283.41" r="0.95" fill="#08488e"/>
<circle cx="235.08" cy="283.93" r="0.95" fill="#1b69af"/>
<circle cx="236.06" cy="283.28" r="0.95" fill="#083877"/>
<circle cx="236.74" cy="283.84" r="0.95" fill="#1461a8"/>
<circle cx="236.98" cy="283.85" r="0.95" fill="#083471"/>
<circle cx="237.52" cy="283.04" r="0.95" fill="#083f81"/>
<circle cx="238.27" cy="283.53" r="0.95" fill="#084286"/>
<circle cx="238.77" cy="282.69" r="0.95" fill="#1562a9"/>
<circle cx="239.69" cy="283.33" r="0.95" fill="#083675"/>
<circle cx="239.95" cy="283.46" r="0.95" fill="#1f6eb3"/>
<circle cx="240.49" cy="283.45" r="0.95" fill="#08468c"/>
<circle cx="241.45" cy="283.82" r="0.95" fill="#083878"/>
<circle cx="241.83" cy="282.88" r="0.95" fill="#08519c"/>
<circle cx="242.49" cy="284.05" r="0.95" fill="#0a539e"/>
<circle cx="242.91" cy="283.24" r="0.95" fill="#2070b4"/>
<circle cx="243.58" cy="283.91" r="0.95" fill="#125ea6"/>
<circle cx="244.32" cy="283.49" r="0.95" fill="#09529d"/>
<circle cx="245.09" cy="283.21" r="0.95" fill="#084083"/>
<circle cx="245.56" cy="283.25" r="0.95" fill="#084b93"/>
<circle cx="246.17" cy="282.74" r="0.95" fill="#1765ab"/>
<circle cx="246.71" cy="283.68" r="0.95" fill="#084a91"/>
<circle cx="247.35" cy="283.32" r="0.95" fill="#0d58a1"/>
<circle cx="248.18" cy="283.14" r="0.95" fill="#08458b"/>
<circle cx="248.35" cy="283.55" r="0.95" fill="#084387"/>
<circle cx="248.98" cy="283.2" r="0.95" fill="#0c56a0"/>
<circle cx="249.43" cy="283.78" r="0.95" fill="#08478d"/>
<circle cx="250.26" cy="283.83" r="0.95" fill="#3c8cc3"/>
<circle cx="250.76" cy="283.4" r="0.95" fill="#4c99ca"/>
<circle cx="251.51" cy="283.72" r="0.95" fill="#60a7d2"/>
<circle cx="252.27" cy="282.92" r="0.95" fill="#6eafd7"/>
<circle cx="252.64" cy="284.26" r="0.95" fill="#1f6fb3"/>
<circle cx="253.4" cy="283.45" r="0.95" fill="#70b1d7"/>
<circle cx="254.24" cy="284.25" r="0.95" fill="#4393c6"/>
<circle cx="254.71" cy="283.8" r="0.95" fill="#529dcc"/>
<circle cx="255.21" cy="283.66" r="0.95" fill="#1a69ae"/>
<circle cx="255.87" cy="283.46" r="0.95" fill="#7ab6d9"/>
<circle cx="256.75" cy="283.76" r="0.95" fill="#1e6eb2"/>
<circle cx="257.17" cy="283.29" r="0.95" fill="#4f9bcb"/>
<circle cx="258.19" cy="282.96" r="0.95" fill="#1d6bb1"/>
<circle cx="258.88" cy="283.46" r="0.95" fill="#71b1d7"/>
<circle cx="259.55" cy="283.44" r="0.95" fill="#4e9acb"/>
<circle cx="259.89" cy="283.21" r="0.95" fill="#3989c1"/>
<circle cx="260.64" cy="283.36" r="0.95" fill="#77b4d9"/>
<circle cx="261.4" cy="283.87" r="0.95" fill="#79b6d9"/>
<circle cx="245.45" cy="297.68" r="0.95" fill="#083471"/>
<circle cx="246.22" cy="297.43" r="0.95" fill="#08488f"/>
<circle cx="246.66" cy="296.87" r="0.95" fill="#084185"/>
<circle cx="247.38" cy="297.57" r="0.95" fill="#083471"/>
<circle cx="247.55" cy="297.17" r="0.95" fill="#083775"/>
<circle cx="248.51" cy="297.4" r="0.95" fill="#084285"/>
<circle cx="249.23" cy="297.08" r="0.95" fill="#084488"/>
<circle cx="249.42" cy="296.67" r="0.95" fill="#08509b"/>
<circle cx="250.32" cy="296.74" r="0.95" fill="#084f99"/>
<circle cx="250.49" cy="296.97" r="0.95" fill="#084a92"/>
<circle cx="251.15" cy="297.77" r="0.95" fill="#4493c7"/>
<circle cx="251.84" cy="297.71" r="0.95" fill="#57a0ce"/>
<circle cx="252.48" cy="297.31" r="0.95" fill="#6baed6"/>
<circle cx="253.55" cy="297.38" r="0.95" fill="#3d8dc3"/>
<circle cx="254.23" cy="297.08" r="0.95" fill="#4796c8"/>
<circle cx="254.51" cy="297.86" r="0.95" fill="#2676b8"/>
<circle cx="255.59" cy="297.71" r="0.95" fill="#4695c8"/>
<circle cx="256.11" cy="297.43" r="0.95" fill="#78b5d9"/>
<circle cx="256.98" cy="296.91" r="0.95" fill="#3686c0"/>
<circle cx="257.43" cy="297.17" r="0.95" fill="#5fa6d1"/>
<circle cx="258.23" cy="297.42" r="0.95" fill="#6aadd5"/>
<circle cx="259.15" cy="296.33" r="0.95" fill="#5ba3d0"/>
<circle cx="205.4" cy="311.68" r="0.95" fill="#75b4d8"/>
<circle cx="229.5" cy="311.08" r="0.95" fill="#72b2d7"/>
<circle cx="236.4" cy="311.11" r="0.95" fill="#08509a"/>
<circle cx="236.81" cy="311.22" r="0.95" fill="#083e80"/>
<circle cx="237.58" cy="311.24" r="0.95" fill="#083e80"/>
<circle cx="238.47" cy="311.27" r="0.95" fill="#0b559f"/>
<circle cx="239.42" cy="310.91" r="0.95" fill="#08326e"/>
<circle cx="240.01" cy="310.91" r="0.95" fill="#084c94"/>
<circle cx="240.55" cy="311.18" r="0.95" fill="#083a7a"/>
<circle cx="241.68" cy="311.07" r="0.95" fill="#083a79"/>
<circle cx="242.29" cy="311.57" r="0.95" fill="#083370"/>
<circle cx="243.32" cy="310.92" r="0.95" fill="#083472"/>
<circle cx="248.18" cy="310.74" r="0.95" fill="#0f5aa3"/>
<circle cx="248.47" cy="310.69" r="0.95" fill="#105ba4"/>
<circle cx="249.35" cy="310.37" r="0.95" fill="#0b559f"/>
<circle cx="249.88" cy="311.13" r="0.95" fill="#1663aa"/>
<circle cx="250.13" cy="311.29" r="0.95" fill="#083b7c"/>
<circle cx="250.91" cy="310.79" r="0.95" fill="#083573"/>
<circle cx="250.98" cy="311.26" r="0.95" fill="#08488f"/>
<circle cx="251.52" cy="311.02" r="0.95" fill="#0e59a2"/>
<circle cx="251.99" cy="310.84" r="0.95" fill="#084a92"/>
<circle cx="252.72" cy="310.95" r="0.95" fill="#135fa7"/>
<circle cx="253.2" cy="310.73" r="0.95" fill="#084387"/>
<circle cx="253.74" cy="311.06" r="0.95" fill="#08458a"/>
<circle cx="254.66" cy="310.85" r="0.95" fill="#3686c0"/>
<circle cx="254.8" cy="311.14" r="0.95" fill="#549fcd"/>
<circle cx="255.67" cy="311.66" r="0.95" fill="#529dcc"/>
<circle cx="256.23" cy="311.28" r="0.95" fill="#8abfdd"/>
<circle cx="257.09" cy="310.29" r="0.95" fill="#60a6d2"/>
<circle cx="257.82" cy="310.32" r="0.95" fill="#4a97c9"/>
<circle cx="258.76" cy="311.25" r="0.95" fill="#7fb9da"/>
<circle cx="259.4" cy="309.96" r="0.95" fill="#78b5d9"/>
<circle cx="260.15" cy="310.89" r="0.95" fill="#3989c1"/>
<circle cx="260.72" cy="311.07" r="0.95" fill="#4695c7"/>
<circle cx="142" cy="324.98" r="0.95" fill="#76b4d8"/>
<circle cx="157.3" cy="324.64" r="0.95" fill="#d7e7f5"/>
<circle cx="177.8" cy="325.12" r="0.95" fill="#95c5df"/>
<circle cx="189" cy="324.54" r="0.95" fill="#a5cde3"/>
<circle cx="201.9" cy="325.09" r="0.95" fill="#1561a9"/>
<circle cx="207.68" cy="324.82" r="0.95" fill="#ecf4fb"/>
<circle cx="208.81" cy="324.51" r="0.95" fill="#e8f1fa"/>
<circle cx="211.61" cy="324.48" r="0.95" fill="#ddeaf7"/>
<circle cx="213.08" cy="324.94" r="0.95" fill="#deebf7"/>
<circle cx="219" cy="325.29" r="0.95" fill="#4292c6"/>
<circle cx="226.3" cy="325.17" r="0.95" fill="#1764ab"/>
<circle cx="228.55" cy="324.55" r="0.95" fill="#3d8dc4"/>
<circle cx="229.94" cy="324.72" r="0.95" fill="#1561a9"/>
<circle cx="230.44" cy="325.16" r="0.95" fill="#78b5d9"/>
<circle cx="231.67" cy="324.6" r="0.95" fill="#a4cde3"/>
<circle cx="233.95" cy="325.46" r="0.95" fill="#85bcdc"/>
<circle cx="235.56" cy="324.36" r="0.95" fill="#1d6cb1"/>
<circle cx="237.05" cy="324.89" r="0.95" fill="#539ecd"/>
<circle cx="238.03" cy="325.65" r="0.95" fill="#b3d3e8"/>
<circle cx="238.93" cy="324.6" r="0.95" fill="#1967ad"/>
<circle cx="240.45" cy="324.93" r="0.95" fill="#3282be"/>
<circle cx="241.42" cy="324.27" r="0.95" fill="#1663aa"/>
<circle cx="242.21" cy="325.19" r="0.95" fill="#1f6fb3"/>
<circle cx="243.31" cy="324.54" r="0.95" fill="#084b93"/>
<circle cx="243.96" cy="325.45" r="0.95" fill="#1562a9"/>
<circle cx="244.3" cy="324.26" r="0.95" fill="#1461a8"/>
<circle cx="245.59" cy="323.91" r="0.95" fill="#58a1cf"/>
<circle cx="246.02" cy="326.1" r="0.95" fill="#57a0ce"/>
<circle cx="247.55" cy="324.16" r="0.95" fill="#1663aa"/>
<circle cx="247.94" cy="324.79" r="0.95" fill="#1b6aaf"/>
<circle cx="249.14" cy="324.51" r="0.95" fill="#2b7bba"/>
<circle cx="249.64" cy="325.74" r="0.95" fill="#1866ac"/>
<circle cx="250.71" cy="323.89" r="0.95" fill="#083775"/>
<circle cx="251.48" cy="324.58" r="0.95" fill="#2676b8"/>
<circle cx="252.57" cy="323.05" r="0.95" fill="#08488e"/>
<circle cx="253.2" cy="324.17" r="0.95" fill="#084184"/>
<ellipse cx="267.5" cy="324.8" rx="9" ry="1.5" fill="#f3f8fe" fill-opacity="0.9"/>
<ellipse cx="267.5" cy="324.8" rx="7.5" ry="4.3" fill="#f3f8fe" fill-opacity="0.9"/>
<circle cx="253.77" cy="324.45" r="0.95" fill="#135fa7"/>
<circle cx="253.81" cy="323.51" r="0.95" fill="#1561a9"/>
<circle cx="254.2" cy="325.64" r="0.95" fill="#0b559f"/>
<circle cx="254.29" cy="328.6" r="0.95" fill="#084286"/>
<circle cx="254.58" cy="326.29" r="0.95" fill="#083572"/>
<circle cx="254.8" cy="323.33" r="0.95" fill="#083572"/>
<circle cx="254.83" cy="321.54" r="0.95" fill="#09529d"/>
<circle cx="255.02" cy="329.12" r="0.95" fill="#09539d"/>
<circle cx="255.4" cy="324.85" r="0.95" fill="#0a539e"/>
<circle cx="255.61" cy="325.54" r="0.95" fill="#1865ac"/>
<circle cx="255.64" cy="325.81" r="0.95" fill="#0c56a0"/>
<circle cx="255.89" cy="324.58" r="0.95" fill="#083370"/>
<circle cx="256.04" cy="324.47" r="0.95" fill="#1d6cb1"/>
<circle cx="256.33" cy="326.22" r="0.95" fill="#09539d"/>
<circle cx="256.62" cy="324.9" r="0.95" fill="#083979"/>
<circle cx="256.7" cy="323" r="0.95" fill="#083d7f"/>
<circle cx="256.84" cy="324.45" r="0.95" fill="#1c6bb0"/>
<circle cx="257.12" cy="326.07" r="0.95" fill="#206fb4"/>
<circle cx="257.32" cy="327.14" r="0.95" fill="#1663aa"/>
<circle cx="257.46" cy="325.56" r="0.95" fill="#105ba4"/>
<circle cx="257.71" cy="327.88" r="0.95" fill="#083675"/>
<circle cx="257.97" cy="324.72" r="0.95" fill="#1c6bb0"/>
<circle cx="258.22" cy="327.58" r="0.95" fill="#084184"/>
<circle cx="258.32" cy="321.06" r="0.95" fill="#115ca5"/>
<circle cx="258.48" cy="326.89" r="0.95" fill="#08478e"/>
<circle cx="258.73" cy="321.93" r="0.95" fill="#084184"/>
<circle cx="259.03" cy="323.61" r="0.95" fill="#084387"/>
<circle cx="259.14" cy="323.58" r="0.95" fill="#083674"/>
<circle cx="259.32" cy="325.89" r="0.95" fill="#1f6fb3"/>
<circle cx="259.59" cy="323.35" r="0.95" fill="#125ea6"/>
<circle cx="259.7" cy="326.75" r="0.95" fill="#1764ab"/>
<circle cx="259.94" cy="326.57" r="0.95" fill="#083776"/>
<circle cx="260.08" cy="323.5" r="0.95" fill="#084b93"/>
<circle cx="260.33" cy="324.7" r="0.95" fill="#083b7c"/>
<circle cx="260.67" cy="322.36" r="0.95" fill="#084d96"/>
<circle cx="260.88" cy="324.68" r="0.95" fill="#084b93"/>
<circle cx="261" cy="328.04" r="0.95" fill="#0a539e"/>
<circle cx="261.24" cy="323.56" r="0.95" fill="#083978"/>
<circle cx="261.3" cy="324.91" r="0.95" fill="#08458b"/>
<circle cx="261.6" cy="321.15" r="0.95" fill="#084b93"/>
<circle cx="261.71" cy="324.69" r="0.95" fill="#dceaf6"/>
<circle cx="262.22" cy="321.76" r="0.95" fill="#dae8f6"/>
<circle cx="262.37" cy="323.14" r="0.95" fill="#88bedc"/>
<circle cx="262.5" cy="320.67" r="0.95" fill="#d3e4f3"/>
<circle cx="262.97" cy="327.75" r="0.95" fill="#c6dbef"/>
<circle cx="263.25" cy="323.96" r="0.95" fill="#6fb0d7"/>
<circle cx="263.42" cy="324.8" r="0.95" fill="#f2f8fd"/>
<circle cx="263.68" cy="323.42" r="0.95" fill="#7cb7da"/>
<circle cx="263.94" cy="327.27" r="0.95" fill="#cddff1"/>
<circle cx="264.11" cy="322.74" r="0.95" fill="#bbd6eb"/>
<circle cx="264.55" cy="321.77" r="0.95" fill="#aed1e7"/>
<circle cx="264.71" cy="326.18" r="0.95" fill="#509ccb"/>
<circle cx="264.89" cy="318.97" r="0.95" fill="#ecf4fb"/>
<circle cx="265.39" cy="326.85" r="0.95" fill="#c7dcef"/>
<circle cx="265.56" cy="325.56" r="0.95" fill="#edf5fc"/>
<circle cx="265.69" cy="321.8" r="0.95" fill="#99c7e0"/>
<circle cx="265.96" cy="323.86" r="0.95" fill="#ecf4fb"/>
<circle cx="266.32" cy="320.75" r="0.95" fill="#d2e3f3"/>
<circle cx="266.53" cy="325.84" r="0.95" fill="#cbdff1"/>
<circle cx="266.8" cy="327.37" r="0.95" fill="#dae8f6"/>
<circle cx="267.23" cy="324.16" r="0.95" fill="#6fb0d7"/>
<circle cx="267.35" cy="319.24" r="0.95" fill="#a2cce3"/>
<circle cx="267.71" cy="329.35" r="0.95" fill="#ebf3fb"/>
<circle cx="267.83" cy="323.48" r="0.95" fill="#4d99ca"/>
<circle cx="268.12" cy="325.49" r="0.95" fill="#b8d5ea"/>
<circle cx="268.42" cy="325.74" r="0.95" fill="#4d99ca"/>
<circle cx="268.62" cy="321.36" r="0.95" fill="#d9e8f5"/>
<circle cx="269.09" cy="324.1" r="0.95" fill="#95c5df"/>
<circle cx="269.33" cy="326.69" r="0.95" fill="#97c6df"/>
<circle cx="269.59" cy="323.85" r="0.95" fill="#4b98ca"/>
<circle cx="269.85" cy="325.23" r="0.95" fill="#e2edf8"/>
<circle cx="270.09" cy="325.38" r="0.95" fill="#bfd8ec"/>
<circle cx="270.28" cy="322.44" r="0.95" fill="#6caed6"/>
<circle cx="270.55" cy="324.07" r="0.95" fill="#81badb"/>
<circle cx="270.83" cy="325.02" r="0.95" fill="#73b2d8"/>
<circle cx="271.04" cy="321.1" r="0.95" fill="#dfecf7"/>
<circle cx="271.32" cy="322.35" r="0.95" fill="#dae8f6"/>
<circle cx="271.51" cy="325.66" r="0.95" fill="#c7dcef"/>
<circle cx="271.8" cy="324" r="0.95" fill="#cee0f2"/>
<circle cx="272.08" cy="322.11" r="0.95" fill="#b7d5ea"/>
<circle cx="272.4" cy="322.2" r="0.95" fill="#e0ecf8"/>
<circle cx="272.55" cy="323.96" r="0.95" fill="#559fce"/>
<circle cx="272.97" cy="320.99" r="0.95" fill="#c1d9ed"/>
<circle cx="273.13" cy="324.17" r="0.95" fill="#e4eff9"/>
<circle cx="273.41" cy="322.04" r="0.95" fill="#f0f7fd"/>
<circle cx="273.79" cy="324.9" r="0.95" fill="#c7dbef"/>
<circle cx="275.03" cy="324.6" r="0.95" fill="#c0d8ed"/>
<circle cx="275.7" cy="325.23" r="0.95" fill="#c0d8ed"/>
<circle cx="276.25" cy="324.19" r="0.95" fill="#e1edf8"/>
<circle cx="277.37" cy="325.04" r="0.95" fill="#cee0f2"/>
<circle cx="277.56" cy="325.75" r="0.95" fill="#e1edf8"/>
<circle cx="278.77" cy="324.71" r="0.95" fill="#e6f0fa"/>
<circle cx="279.49" cy="323.79" r="0.95" fill="#bad6eb"/>
<circle cx="280.08" cy="324.23" r="0.95" fill="#afd1e7"/>
<circle cx="280.66" cy="324.5" r="0.95" fill="#9dc9e1"/>
<rect x="494.2" y="243" width="158.8" height="95.7" fill="#EAEAF2" />
<line x1="502.9" y1="243" x2="502.9" y2="338.7" stroke="#FFFFFF" stroke-width="0.8" />
<line x1="523.6" y1="243" x2="523.6" y2="338.7" stroke="#FFFFFF" stroke-width="0.8" />
<line x1="544.3" y1="243" x2="544.3" y2="338.7" stroke="#FFFFFF" stroke-width="0.8" />
<line x1="565" y1="243" x2="565" y2="338.7" stroke="#FFFFFF" stroke-width="0.8" />
<line x1="585.7" y1="243" x2="585.7" y2="338.7" stroke="#FFFFFF" stroke-width="0.8" />
<line x1="606.4" y1="243" x2="606.4" y2="338.7" stroke="#FFFFFF" stroke-width="0.8" />
<line x1="627.1" y1="243" x2="627.1" y2="338.7" stroke="#FFFFFF" stroke-width="0.8" />
<line x1="647.8" y1="243" x2="647.8" y2="338.7" stroke="#FFFFFF" stroke-width="0.8" />
<line x1="494.2" y1="256.4" x2="653" y2="256.4" stroke="#FFFFFF" stroke-width="0.8" />
<line x1="494.2" y1="270.1" x2="653" y2="270.1" stroke="#FFFFFF" stroke-width="0.8" />
<line x1="494.2" y1="283.8" x2="653" y2="283.8" stroke="#FFFFFF" stroke-width="0.8" />
<line x1="494.2" y1="297.5" x2="653" y2="297.5" stroke="#FFFFFF" stroke-width="0.8" />
<line x1="494.2" y1="311.2" x2="653" y2="311.2" stroke="#FFFFFF" stroke-width="0.8" />
<line x1="494.2" y1="324.9" x2="653" y2="324.9" stroke="#FFFFFF" stroke-width="0.8" />
<line x1="544.3" y1="243" x2="544.3" y2="338.7" stroke="#BDBDBD" stroke-width="0.6" />
<text x="486" y="259.8" font-size="8.9" text-anchor="end" fill="#262626" textLength="71.8" lengthAdjust="spacingAndGlyphs">Main Streets_50 m</text>
<text x="486" y="273.5" font-size="8.9" text-anchor="end" fill="#262626" textLength="96" lengthAdjust="spacingAndGlyphs">Deciduous Forest_300 m</text>
<text x="486" y="287.2" font-size="8.9" text-anchor="end" fill="#262626" textLength="124.2" lengthAdjust="spacingAndGlyphs">Residential Area (up to 3 floors)_300 m</text>
<text x="486" y="300.9" font-size="8.9" text-anchor="end" fill="#262626" textLength="96.4" lengthAdjust="spacingAndGlyphs">Residential Streets_50 m</text>
<text x="486" y="314.6" font-size="8.9" text-anchor="end" fill="#262626" textLength="91.3" lengthAdjust="spacingAndGlyphs">Deciduous Forest_50 m</text>
<text x="486" y="328.3" font-size="8.9" text-anchor="end" fill="#262626" textLength="94.3" lengthAdjust="spacingAndGlyphs">Sum of 72 other features</text>
<line x1="502.9" y1="339.2" x2="502.9" y2="341.3" stroke="#444444" stroke-width="0.6" />
<text x="502.9" y="347.1" font-size="5" text-anchor="middle" fill="#333333" >−1.0</text>
<line x1="523.6" y1="339.2" x2="523.6" y2="341.3" stroke="#444444" stroke-width="0.6" />
<text x="523.6" y="347.1" font-size="5" text-anchor="middle" fill="#333333" >−0.5</text>
<line x1="544.3" y1="339.2" x2="544.3" y2="341.3" stroke="#444444" stroke-width="0.6" />
<text x="544.3" y="347.1" font-size="5" text-anchor="middle" fill="#333333" >0.0</text>
<line x1="565" y1="339.2" x2="565" y2="341.3" stroke="#444444" stroke-width="0.6" />
<text x="565" y="347.1" font-size="5" text-anchor="middle" fill="#333333" >0.5</text>
<line x1="585.7" y1="339.2" x2="585.7" y2="341.3" stroke="#444444" stroke-width="0.6" />
<text x="585.7" y="347.1" font-size="5" text-anchor="middle" fill="#333333" >1.0</text>
<line x1="606.4" y1="339.2" x2="606.4" y2="341.3" stroke="#444444" stroke-width="0.6" />
<text x="606.4" y="347.1" font-size="5" text-anchor="middle" fill="#333333" >1.5</text>
<line x1="627.1" y1="339.2" x2="627.1" y2="341.3" stroke="#444444" stroke-width="0.6" />
<text x="627.1" y="347.1" font-size="5" text-anchor="middle" fill="#333333" >2.0</text>
<line x1="647.8" y1="339.2" x2="647.8" y2="341.3" stroke="#444444" stroke-width="0.6" />
<text x="647.8" y="347.1" font-size="5" text-anchor="middle" fill="#333333" >2.5</text>
<text x="573.6" y="354.6" font-size="5.9" text-anchor="middle" fill="#262626" >SHAP value (impact on model output)</text>
<defs><linearGradient id="gGreens" x1="0" y1="0" x2="0" y2="1"><stop offset="0" stop-color="#00441b"/><stop offset="0.12" stop-color="#006d2c"/><stop offset="0.25" stop-color="#238b45"/><stop offset="0.38" stop-color="#41ab5d"/><stop offset="0.5" stop-color="#74c476"/><stop offset="0.62" stop-color="#a1d99b"/><stop offset="0.75" stop-color="#c7e9c0"/><stop offset="0.88" stop-color="#e5f5e0"/><stop offset="1" stop-color="#f7fcf5"/></linearGradient></defs>
<rect x="662.7" y="243" width="1.8" height="96.5" fill="url(#gGreens)"/>
<text x="665.6" y="245.2" font-size="5.3" text-anchor="start" fill="#333333" >High</text>
<text x="665.6" y="342.3" font-size="5.3" text-anchor="start" fill="#333333" >Low</text>
<text x="0" y="0" font-size="5.6" text-anchor="middle" fill="#333333" transform="translate(680.6,290.85) rotate(-90)">Feature value</text>
<ellipse cx="539.6" cy="256.4" rx="3.5" ry="1.5" fill="#f4fbf2" fill-opacity="1.0"/>
<ellipse cx="539.6" cy="256.4" rx="2.6" ry="6" fill="#f4fbf2" fill-opacity="1.0"/>
<circle cx="544.59" cy="256.38" r="0.95" fill="#9ad695"/>
<circle cx="544.91" cy="256.37" r="0.95" fill="#b3e0ac"/>
<circle cx="545.64" cy="256.73" r="0.95" fill="#acdea6"/>
<circle cx="546.79" cy="256.42" r="0.95" fill="#76c578"/>
<circle cx="547.23" cy="256.54" r="0.95" fill="#7bc77c"/>
<circle cx="548.04" cy="256.46" r="0.95" fill="#16803c"/>
<circle cx="548.54" cy="256.42" r="0.95" fill="#0a7633"/>
<circle cx="548.92" cy="256.07" r="0.95" fill="#107b37"/>
<circle cx="549.38" cy="255.91" r="0.95" fill="#026f2d"/>
<circle cx="549.77" cy="255.9" r="0.95" fill="#006a2b"/>
<circle cx="550.19" cy="256.13" r="0.95" fill="#279049"/>
<circle cx="550.79" cy="256.52" r="0.95" fill="#006529"/>
<circle cx="551.32" cy="256.39" r="0.95" fill="#1e8742"/>
<circle cx="551.5" cy="256.22" r="0.95" fill="#005b24"/>
<circle cx="552.14" cy="256.84" r="0.95" fill="#279048"/>
<circle cx="552.6" cy="256.17" r="0.95" fill="#137d39"/>
<circle cx="552.96" cy="256.56" r="0.95" fill="#127d39"/>
<circle cx="553.37" cy="256.49" r="0.95" fill="#006228"/>
<circle cx="553.64" cy="256.4" r="0.95" fill="#268e47"/>
<circle cx="554.38" cy="256.67" r="0.95" fill="#004d1f"/>
<circle cx="554.72" cy="256.41" r="0.95" fill="#0d7835"/>
<circle cx="554.97" cy="256.68" r="0.95" fill="#2c954c"/>
<circle cx="555.4" cy="256.55" r="0.95" fill="#0b7634"/>
<circle cx="556.09" cy="256.07" r="0.95" fill="#218944"/>
<circle cx="556.34" cy="256.48" r="0.95" fill="#005422"/>
<circle cx="556.86" cy="256.24" r="0.95" fill="#1d8640"/>
<circle cx="557.33" cy="256.29" r="0.95" fill="#006529"/>
<circle cx="557.65" cy="255.86" r="0.95" fill="#19833e"/>
<circle cx="558.52" cy="256.75" r="0.95" fill="#1f8742"/>
<circle cx="558.72" cy="256.76" r="0.95" fill="#1e8641"/>
<circle cx="559.3" cy="256.4" r="0.95" fill="#289149"/>
<circle cx="559.45" cy="256.79" r="0.95" fill="#057130"/>
<circle cx="560.08" cy="256.78" r="0.95" fill="#16803b"/>
<circle cx="560.56" cy="256.53" r="0.95" fill="#005522"/>
<circle cx="560.79" cy="256.61" r="0.95" fill="#0d7835"/>
<circle cx="561.38" cy="255.87" r="0.95" fill="#228a44"/>
<circle cx="561.87" cy="256.64" r="0.95" fill="#057130"/>
<circle cx="562.42" cy="256.8" r="0.95" fill="#00481d"/>
<circle cx="562.98" cy="256.38" r="0.95" fill="#2e974e"/>
<circle cx="563.16" cy="256.28" r="0.95" fill="#1a833f"/>
<circle cx="563.71" cy="256.47" r="0.95" fill="#18823d"/>
<circle cx="564.29" cy="256.28" r="0.95" fill="#05712f"/>
<circle cx="564.65" cy="256.21" r="0.95" fill="#2a924a"/>
<circle cx="564.83" cy="256.37" r="0.95" fill="#004f20"/>
<circle cx="565.42" cy="256.34" r="0.95" fill="#004f20"/>
<circle cx="565.92" cy="256.82" r="0.95" fill="#00491d"/>
<circle cx="566.15" cy="256.67" r="0.95" fill="#006b2b"/>
<circle cx="566.59" cy="256.48" r="0.95" fill="#0b7634"/>
<circle cx="567.13" cy="255.57" r="0.95" fill="#005b25"/>
<circle cx="567.69" cy="256.28" r="0.95" fill="#005622"/>
<circle cx="557.44" cy="256.43" r="0.95" fill="#006328"/>
<circle cx="557.54" cy="255.68" r="0.95" fill="#004e1f"/>
<circle cx="558.09" cy="256.88" r="0.95" fill="#005522"/>
<circle cx="558.56" cy="255.97" r="0.95" fill="#00461c"/>
<circle cx="559.12" cy="256.59" r="0.95" fill="#00451b"/>
<circle cx="559.73" cy="256.36" r="0.95" fill="#005b25"/>
<circle cx="560.35" cy="256.11" r="0.95" fill="#004c1e"/>
<circle cx="560.79" cy="257.43" r="0.95" fill="#004f20"/>
<circle cx="561.09" cy="256.39" r="0.95" fill="#006227"/>
<circle cx="561.92" cy="255.87" r="0.95" fill="#005623"/>
<circle cx="562.25" cy="257.17" r="0.95" fill="#005120"/>
<circle cx="562.7" cy="256.55" r="0.95" fill="#004e1f"/>
<ellipse cx="546.5" cy="270.1" rx="3.5" ry="1.5" fill="#f4fbf2" fill-opacity="1.0"/>
<ellipse cx="546.5" cy="270.1" rx="2.6" ry="5.5" fill="#f4fbf2" fill-opacity="1.0"/>
<circle cx="516.05" cy="270.21" r="0.95" fill="#087432"/>
<circle cx="516.31" cy="270.05" r="0.95" fill="#057130"/>
<circle cx="516.94" cy="270.21" r="0.95" fill="#359e54"/>
<circle cx="517.38" cy="269.96" r="0.95" fill="#3aa357"/>
<circle cx="517.51" cy="270.47" r="0.95" fill="#006c2b"/>
<circle cx="518.01" cy="269.88" r="0.95" fill="#18813d"/>
<circle cx="518.58" cy="269.89" r="0.95" fill="#289049"/>
<circle cx="518.9" cy="270.07" r="0.95" fill="#48ae60"/>
<circle cx="519.4" cy="269.99" r="0.95" fill="#46ad5f"/>
<circle cx="520.07" cy="270.08" r="0.95" fill="#278f48"/>
<circle cx="520.19" cy="269.9" r="0.95" fill="#005622"/>
<circle cx="520.9" cy="270.25" r="0.95" fill="#2a924a"/>
<circle cx="521.2" cy="270.04" r="0.95" fill="#2a924b"/>
<circle cx="521.46" cy="269.66" r="0.95" fill="#369f54"/>
<circle cx="521.97" cy="269.99" r="0.95" fill="#1d8641"/>
<circle cx="522.51" cy="270.09" r="0.95" fill="#3aa357"/>
<circle cx="523.16" cy="270.15" r="0.95" fill="#208943"/>
<circle cx="523.22" cy="269.87" r="0.95" fill="#04702f"/>
<circle cx="523.98" cy="270.13" r="0.95" fill="#2f984f"/>
<circle cx="524.35" cy="270.47" r="0.95" fill="#359e53"/>
<circle cx="524.66" cy="269.86" r="0.95" fill="#41ab5d"/>
<circle cx="525.05" cy="270.56" r="0.95" fill="#359f54"/>
<circle cx="525.64" cy="269.57" r="0.95" fill="#3aa357"/>
<circle cx="526.06" cy="270.05" r="0.95" fill="#006729"/>
<circle cx="526.67" cy="270.46" r="0.95" fill="#1e8742"/>
<circle cx="526.93" cy="270.54" r="0.95" fill="#268e48"/>
<circle cx="527.38" cy="270.24" r="0.95" fill="#46ad5f"/>
<circle cx="527.62" cy="270.29" r="0.95" fill="#03702e"/>
<circle cx="528.2" cy="270.16" r="0.95" fill="#0e7936"/>
<circle cx="528.75" cy="269.99" r="0.95" fill="#1f8742"/>
<circle cx="528.98" cy="270.06" r="0.95" fill="#087432"/>
<circle cx="529.5" cy="269.89" r="0.95" fill="#005a24"/>
<circle cx="530.18" cy="269.89" r="0.95" fill="#3ba458"/>
<circle cx="530.23" cy="270.15" r="0.95" fill="#38a256"/>
<circle cx="530.89" cy="269.91" r="0.95" fill="#005a24"/>
<circle cx="531.51" cy="269.9" r="0.95" fill="#37a055"/>
<circle cx="531.58" cy="270.59" r="0.95" fill="#46ae60"/>
<circle cx="532.4" cy="269.9" r="0.95" fill="#00682a"/>
<circle cx="532.5" cy="270.17" r="0.95" fill="#17813c"/>
<circle cx="533.05" cy="269.37" r="0.95" fill="#1c8540"/>
<circle cx="533.48" cy="270.32" r="0.95" fill="#2b934b"/>
<circle cx="533.77" cy="269.95" r="0.95" fill="#2e974e"/>
<circle cx="534.23" cy="270.35" r="0.95" fill="#3fa95b"/>
<circle cx="534.71" cy="270.33" r="0.95" fill="#30994f"/>
<circle cx="535.18" cy="270.13" r="0.95" fill="#2f984e"/>
<circle cx="535.6" cy="270.14" r="0.95" fill="#005924"/>
<circle cx="536.02" cy="269.88" r="0.95" fill="#1b843f"/>
<circle cx="536.53" cy="269.88" r="0.95" fill="#49af61"/>
<circle cx="537.11" cy="269.86" r="0.95" fill="#03702e"/>
<circle cx="537.33" cy="269.69" r="0.95" fill="#3ca659"/>
<circle cx="538.07" cy="270.42" r="0.95" fill="#a1d99b"/>
<circle cx="540.33" cy="270.02" r="0.95" fill="#c0e6b9"/>
<circle cx="540.82" cy="270.27" r="0.95" fill="#b1e0aa"/>
<circle cx="541.97" cy="270.21" r="0.95" fill="#a8dca1"/>
<ellipse cx="547.5" cy="283.8" rx="5" ry="1.5" fill="#f0f9ed" fill-opacity="1.0"/>
<ellipse cx="547.5" cy="283.8" rx="2.8" ry="4" fill="#f0f9ed" fill-opacity="1.0"/>
<ellipse cx="541.5" cy="283.8" rx="3.2" ry="1.1" fill="#005422"/>
<ellipse cx="541.5" cy="283.8" rx="1.3" ry="5.6" fill="#005422"/>
<circle cx="538.63" cy="283.68" r="0.95" fill="#349d52"/>
<circle cx="539.25" cy="283.98" r="0.95" fill="#248d46"/>
<circle cx="539.9" cy="284.64" r="0.95" fill="#2b934b"/>
<circle cx="540.53" cy="284.72" r="0.95" fill="#3ea85b"/>
<circle cx="541.13" cy="282.64" r="0.95" fill="#37a055"/>
<circle cx="541.79" cy="283.97" r="0.95" fill="#238b45"/>
<circle cx="542.65" cy="283.11" r="0.95" fill="#248c45"/>
<circle cx="542.81" cy="284.09" r="0.95" fill="#329b51"/>
<circle cx="543.89" cy="282.76" r="0.95" fill="#42ac5e"/>
<circle cx="544.13" cy="283.15" r="0.95" fill="#47ae60"/>
<circle cx="549.87" cy="283.53" r="0.95" fill="#cbebc4"/>
<circle cx="550.73" cy="284.1" r="0.95" fill="#d0edc9"/>
<circle cx="552.55" cy="283.93" r="0.95" fill="#d8f0d2"/>
<ellipse cx="542.8" cy="297.5" rx="3.2" ry="1.5" fill="#f0f9ed" fill-opacity="1.0"/>
<ellipse cx="542.8" cy="297.5" rx="2.6" ry="5" fill="#f0f9ed" fill-opacity="1.0"/>
<ellipse cx="547.5" cy="297.5" rx="4" ry="1.1" fill="#006529"/>
<ellipse cx="547.5" cy="297.5" rx="1.3" ry="4.8" fill="#006529"/>
<circle cx="544.85" cy="298.16" r="0.95" fill="#4bb062"/>
<circle cx="545.68" cy="296.64" r="0.95" fill="#29914a"/>
<circle cx="546.91" cy="297.61" r="0.95" fill="#2f984f"/>
<circle cx="547.37" cy="297.5" r="0.95" fill="#56b567"/>
<circle cx="548.44" cy="297.75" r="0.95" fill="#0f7a37"/>
<circle cx="549.21" cy="296.61" r="0.95" fill="#0b7634"/>
<circle cx="550.33" cy="297.89" r="0.95" fill="#268e47"/>
<circle cx="550.58" cy="298.19" r="0.95" fill="#51b365"/>
<circle cx="551.77" cy="297.77" r="0.95" fill="#268e48"/>
<circle cx="552.26" cy="297.03" r="0.95" fill="#137d39"/>
<ellipse cx="545.3" cy="311.2" rx="2.2" ry="1.2" fill="#f4fbf2" fill-opacity="1.0"/>
<ellipse cx="545.3" cy="311.2" rx="1.8" ry="5" fill="#f4fbf2" fill-opacity="1.0"/>
<circle cx="520.3" cy="311.03" r="0.95" fill="#004d1f"/>
<circle cx="520.49" cy="311.27" r="0.95" fill="#005823"/>
<circle cx="520.89" cy="311.46" r="0.95" fill="#005d26"/>
<circle cx="520.96" cy="311.41" r="0.95" fill="#005d25"/>
<circle cx="521.23" cy="311.27" r="0.95" fill="#005d25"/>
<circle cx="521.74" cy="311.22" r="0.95" fill="#005b25"/>
<circle cx="521.95" cy="311.32" r="0.95" fill="#006027"/>
<circle cx="522.16" cy="310.9" r="0.95" fill="#005120"/>
<circle cx="522.34" cy="311.27" r="0.95" fill="#005522"/>
<circle cx="522.76" cy="311.43" r="0.95" fill="#005c25"/>
<circle cx="522.98" cy="310.83" r="0.95" fill="#00451b"/>
<circle cx="523.28" cy="311.28" r="0.95" fill="#004e1f"/>
<circle cx="523.65" cy="311.3" r="0.95" fill="#006026"/>
<circle cx="523.95" cy="311.35" r="0.95" fill="#00461c"/>
<circle cx="524.22" cy="310.93" r="0.95" fill="#005e26"/>
<circle cx="524.57" cy="311.24" r="0.95" fill="#005422"/>
<circle cx="524.61" cy="311.14" r="0.95" fill="#004e1f"/>
<circle cx="524.88" cy="311.64" r="0.95" fill="#004c1e"/>
<circle cx="525.21" cy="311.12" r="0.95" fill="#00451b"/>
<circle cx="525.57" cy="311.48" r="0.95" fill="#006227"/>
<circle cx="525.71" cy="311.76" r="0.95" fill="#005321"/>
<circle cx="526.08" cy="311.05" r="0.95" fill="#005723"/>
<circle cx="526.37" cy="311" r="0.95" fill="#00471c"/>
<circle cx="526.75" cy="311.68" r="0.95" fill="#00491d"/>
<circle cx="527.04" cy="311.27" r="0.95" fill="#005823"/>
<circle cx="527.16" cy="310.69" r="0.95" fill="#00471c"/>
<circle cx="527.41" cy="310.82" r="0.95" fill="#00491d"/>
<circle cx="527.73" cy="310.91" r="0.95" fill="#005723"/>
<circle cx="528.13" cy="310.86" r="0.95" fill="#005e26"/>
<circle cx="528.44" cy="310.72" r="0.95" fill="#00491d"/>
<circle cx="528.71" cy="310.78" r="0.95" fill="#004f1f"/>
<circle cx="528.98" cy="311.15" r="0.95" fill="#005f26"/>
<circle cx="529.15" cy="311.4" r="0.95" fill="#006529"/>
<circle cx="529.51" cy="311.52" r="0.95" fill="#005d26"/>
<circle cx="529.81" cy="310.99" r="0.95" fill="#004f20"/>
<circle cx="529.96" cy="311.99" r="0.95" fill="#005a24"/>
<circle cx="530.36" cy="311.65" r="0.95" fill="#005d25"/>
<circle cx="530.6" cy="310.96" r="0.95" fill="#00471c"/>
<circle cx="530.97" cy="310.85" r="0.95" fill="#005d25"/>
<circle cx="531.2" cy="310.96" r="0.95" fill="#005d25"/>
<circle cx="531.57" cy="311.61" r="0.95" fill="#005622"/>
<circle cx="531.8" cy="310.86" r="0.95" fill="#005d26"/>
<circle cx="531.86" cy="311.49" r="0.95" fill="#005c25"/>
<circle cx="532.3" cy="311.15" r="0.95" fill="#005823"/>
<circle cx="532.54" cy="310.81" r="0.95" fill="#005723"/>
<circle cx="536.27" cy="311.27" r="0.95" fill="#3ca659"/>
<circle cx="536.93" cy="311.27" r="0.95" fill="#319a50"/>
<circle cx="536.94" cy="311.49" r="0.95" fill="#2e974e"/>
<circle cx="537.98" cy="311.37" r="0.95" fill="#218a44"/>
<circle cx="538.55" cy="310.8" r="0.95" fill="#289049"/>
<circle cx="539.07" cy="310.98" r="0.95" fill="#4fb264"/>
<circle cx="539.48" cy="311.41" r="0.95" fill="#248c46"/>
<circle cx="540" cy="312.13" r="0.95" fill="#228a44"/>
<circle cx="540.92" cy="311.84" r="0.95" fill="#57b668"/>
<circle cx="541.48" cy="311.16" r="0.95" fill="#19823e"/>
<circle cx="500.7" cy="325.07" r="0.95" fill="#005f26"/>
<circle cx="513.8" cy="325.11" r="0.95" fill="#006c2c"/>
<circle cx="518.9" cy="325.28" r="0.95" fill="#006428"/>
<circle cx="523.9" cy="325.05" r="0.95" fill="#00672a"/>
<circle cx="506" cy="325.27" r="0.95" fill="#c6e9bf"/>
<circle cx="508.22" cy="325.11" r="0.95" fill="#a3da9d"/>
<circle cx="513.53" cy="325" r="0.95" fill="#ddf2d7"/>
<circle cx="515.99" cy="324.92" r="0.95" fill="#bde5b7"/>
<circle cx="518.07" cy="324.86" r="0.95" fill="#bae3b3"/>
<circle cx="521.43" cy="325.21" r="0.95" fill="#d1edca"/>
<circle cx="524.95" cy="324.99" r="0.95" fill="#d7efd1"/>
<circle cx="527.87" cy="325.11" r="0.95" fill="#cbebc4"/>
<ellipse cx="544.6" cy="324.9" rx="12" ry="1.5" fill="#f4fbf2" fill-opacity="1.0"/>
<ellipse cx="544.6" cy="324.9" rx="10" ry="5.3" fill="#f4fbf2" fill-opacity="1.0"/>
<circle cx="533.41" cy="327.09" r="0.95" fill="#57b668"/>
<circle cx="533.85" cy="323.22" r="0.95" fill="#49af61"/>
<circle cx="534.15" cy="325.3" r="0.95" fill="#369f54"/>
<circle cx="535" cy="323.22" r="0.95" fill="#4db163"/>
<circle cx="535.29" cy="326.45" r="0.95" fill="#04712f"/>
<circle cx="535.72" cy="325.92" r="0.95" fill="#5db86a"/>
<circle cx="536.26" cy="323.64" r="0.95" fill="#1b843f"/>
<circle cx="536.79" cy="325.29" r="0.95" fill="#005522"/>
<circle cx="537.36" cy="325.75" r="0.95" fill="#016e2c"/>
<circle cx="538.13" cy="324.4" r="0.95" fill="#59b769"/>
<circle cx="538.56" cy="328.23" r="0.95" fill="#005a24"/>
<circle cx="538.67" cy="327.99" r="0.95" fill="#004f1f"/>
<circle cx="539.62" cy="327.03" r="0.95" fill="#2f984e"/>
<circle cx="540.14" cy="327.1" r="0.95" fill="#19833e"/>
<circle cx="540.45" cy="323.22" r="0.95" fill="#00481d"/>
<circle cx="540.92" cy="321.15" r="0.95" fill="#0d7835"/>
<circle cx="541.5" cy="326.68" r="0.95" fill="#1f8742"/>
<circle cx="541.98" cy="322.93" r="0.95" fill="#1e8641"/>
<circle cx="542.46" cy="328.71" r="0.95" fill="#41ab5d"/>
<circle cx="542.91" cy="328.36" r="0.95" fill="#37a055"/>
<circle cx="543.59" cy="321.16" r="0.95" fill="#329b51"/>
<circle cx="543.86" cy="324.32" r="0.95" fill="#026f2d"/>
<circle cx="544.4" cy="324.63" r="0.95" fill="#1c8540"/>
<circle cx="545" cy="328.25" r="0.95" fill="#369f54"/>
<circle cx="545.46" cy="327.04" r="0.95" fill="#005a24"/>
<circle cx="546.27" cy="328.63" r="0.95" fill="#40aa5c"/>
<circle cx="546.82" cy="325.53" r="0.95" fill="#004f1f"/>
<circle cx="547.02" cy="325.05" r="0.95" fill="#087432"/>
<circle cx="547.49" cy="323.91" r="0.95" fill="#3da75a"/>
<circle cx="548.42" cy="323.53" r="0.95" fill="#0c7735"/>
<circle cx="548.83" cy="326.19" r="0.95" fill="#005622"/>
<circle cx="549.27" cy="324.38" r="0.95" fill="#51b365"/>
<circle cx="549.75" cy="324.87" r="0.95" fill="#005422"/>
<circle cx="550.35" cy="323.25" r="0.95" fill="#57b668"/>
<circle cx="550.95" cy="326.93" r="0.95" fill="#2e964e"/>
<circle cx="535.07" cy="326.32" r="0.95" fill="#e2f4dd"/>
<circle cx="536.1" cy="330.13" r="0.95" fill="#b8e3b2"/>
<circle cx="536.92" cy="324.29" r="0.95" fill="#d5efcf"/>
<circle cx="537.83" cy="323.7" r="0.95" fill="#d7f0d1"/>
<circle cx="538.61" cy="327.68" r="0.95" fill="#a3da9d"/>
<circle cx="538.96" cy="326.27" r="0.95" fill="#d1edcb"/>
<circle cx="540.21" cy="325.31" r="0.95" fill="#bae3b3"/>
<circle cx="540.74" cy="324.69" r="0.95" fill="#b6e2af"/>
<circle cx="541.49" cy="323.08" r="0.95" fill="#ccebc5"/>
<circle cx="542.32" cy="322.26" r="0.95" fill="#ccebc5"/>
<circle cx="542.69" cy="326.71" r="0.95" fill="#ceecc7"/>
<circle cx="543.44" cy="321.26" r="0.95" fill="#d2eecc"/>
<circle cx="544.45" cy="321.48" r="0.95" fill="#c5e8be"/>
<circle cx="545.37" cy="330.18" r="0.95" fill="#e1f3db"/>
<circle cx="546.34" cy="323.62" r="0.95" fill="#d5efcf"/>
<circle cx="546.92" cy="320.88" r="0.95" fill="#cdebc6"/>
<circle cx="547.38" cy="324.79" r="0.95" fill="#cfecc8"/>
<circle cx="548.46" cy="324.18" r="0.95" fill="#b7e2b1"/>
<circle cx="548.98" cy="324.17" r="0.95" fill="#b8e3b1"/>
<circle cx="550.1" cy="325.04" r="0.95" fill="#e4f5df"/>
<circle cx="550.91" cy="324.56" r="0.95" fill="#ddf2d8"/>
<circle cx="551.55" cy="329.01" r="0.95" fill="#9ed798"/>
<circle cx="552.15" cy="323.03" r="0.95" fill="#c4e8bd"/>
<circle cx="553" cy="327.22" r="0.95" fill="#a1d99b"/>
<circle cx="553.73" cy="324.37" r="0.95" fill="#e2f4dd"/>
<circle cx="555.33" cy="325.31" r="0.95" fill="#e9f6e4"/>
<circle cx="556.69" cy="325.47" r="0.95" fill="#ecf8e8"/>
<circle cx="559.53" cy="324.53" r="0.95" fill="#e1f3dc"/>
<circle cx="560.62" cy="325.85" r="0.95" fill="#e8f6e3"/>
<circle cx="562.82" cy="325.57" r="0.95" fill="#eaf7e6"/>
<circle cx="565.02" cy="324.76" r="0.95" fill="#e6f5e1"/>
<circle cx="566.45" cy="324.92" r="0.95" fill="#eaf7e6"/>
<circle cx="568.25" cy="326.28" r="0.95" fill="#f4fbf1"/>
<circle cx="570.28" cy="324.48" r="0.95" fill="#eff9ec"/>
<circle cx="573.57" cy="324.9" r="0.95" fill="#e8f6e3"/>
<circle cx="574.63" cy="324.61" r="0.95" fill="#e5f5e0"/>
<circle cx="577.24" cy="324.63" r="0.95" fill="#edf8e9"/>
<circle cx="579.29" cy="324.69" r="0.95" fill="#edf8e9"/>
<circle cx="580.01" cy="324.1" r="0.95" fill="#edf8ea"/>
<circle cx="582.81" cy="325.35" r="0.95" fill="#e8f6e3"/>
<circle cx="585.96" cy="324.87" r="0.95" fill="#dff3da"/>
<circle cx="587.24" cy="324.64" r="0.95" fill="#f3faf0"/>
<circle cx="589.73" cy="325.51" r="0.95" fill="#ecf8e8"/>
<circle cx="591.89" cy="325.19" r="0.95" fill="#ecf8e8"/>
<circle cx="593" cy="324.02" r="0.95" fill="#f3faf0"/>
<circle cx="594.19" cy="324.57" r="0.95" fill="#e7f6e2"/>
<circle cx="597.88" cy="325.08" r="0.95" fill="#e5f5e0"/>
<circle cx="599.92" cy="324.85" r="0.95" fill="#e1f3db"/>
<circle cx="601.42" cy="324.52" r="0.95" fill="#e1f3db"/>
<circle cx="602.18" cy="324.71" r="0.95" fill="#e9f7e5"/>
<circle cx="645.8" cy="324.9" r="1.1" fill="#057230"/>
<rect x="142.6" y="601" width="158.9" height="95.9" fill="#EAEAF2" />
<line x1="160.35" y1="601" x2="160.35" y2="696.9" stroke="#FFFFFF" stroke-width="0.8" />
<line x1="179.8" y1="601" x2="179.8" y2="696.9" stroke="#FFFFFF" stroke-width="0.8" />
<line x1="199.25" y1="601" x2="199.25" y2="696.9" stroke="#FFFFFF" stroke-width="0.8" />
<line x1="218.7" y1="601" x2="218.7" y2="696.9" stroke="#FFFFFF" stroke-width="0.8" />
<line x1="238.15" y1="601" x2="238.15" y2="696.9" stroke="#FFFFFF" stroke-width="0.8" />
<line x1="257.6" y1="601" x2="257.6" y2="696.9" stroke="#FFFFFF" stroke-width="0.8" />
<line x1="277.05" y1="601" x2="277.05" y2="696.9" stroke="#FFFFFF" stroke-width="0.8" />
<line x1="296.5" y1="601" x2="296.5" y2="696.9" stroke="#FFFFFF" stroke-width="0.8" />
<line x1="142.6" y1="614.6" x2="301.5" y2="614.6" stroke="#FFFFFF" stroke-width="0.8" />
<line x1="142.6" y1="628.3" x2="301.5" y2="628.3" stroke="#FFFFFF" stroke-width="0.8" />
<line x1="142.6" y1="642" x2="301.5" y2="642" stroke="#FFFFFF" stroke-width="0.8" />
<line x1="142.6" y1="655.7" x2="301.5" y2="655.7" stroke="#FFFFFF" stroke-width="0.8" />
<line x1="142.6" y1="669.4" x2="301.5" y2="669.4" stroke="#FFFFFF" stroke-width="0.8" />
<line x1="142.6" y1="683.1" x2="301.5" y2="683.1" stroke="#FFFFFF" stroke-width="0.8" />
<line x1="218.7" y1="601" x2="218.7" y2="696.9" stroke="#BDBDBD" stroke-width="0.6" />
<text x="125.2" y="618" font-size="8.9" text-anchor="end" fill="#262626" textLength="72" lengthAdjust="spacingAndGlyphs">Main Streets_50 m</text>
<text x="125.2" y="631.7" font-size="8.9" text-anchor="end" fill="#262626" textLength="95.6" lengthAdjust="spacingAndGlyphs">Residential Streets_50 m</text>
<text x="125.2" y="645.4" font-size="8.9" text-anchor="end" fill="#262626" textLength="91.3" lengthAdjust="spacingAndGlyphs">Deciduous Forest_50 m</text>
<text x="125.2" y="659.1" font-size="8.9" text-anchor="end" fill="#262626" textLength="121.3" lengthAdjust="spacingAndGlyphs">Green Space near House_50 m</text>
<text x="125.2" y="672.8" font-size="8.9" text-anchor="end" fill="#262626" textLength="121.3" lengthAdjust="spacingAndGlyphs">Commercial Areas (Facilities)_50 m</text>
<text x="125.2" y="686.5" font-size="8.9" text-anchor="end" fill="#262626" textLength="94.5" lengthAdjust="spacingAndGlyphs">Sum of 72 other features</text>
<line x1="160.35" y1="697.4" x2="160.35" y2="699.5" stroke="#444444" stroke-width="0.6" />
<text x="160.35" y="705.3" font-size="5" text-anchor="middle" fill="#333333" >−0.15</text>
<line x1="179.8" y1="697.4" x2="179.8" y2="699.5" stroke="#444444" stroke-width="0.6" />
<text x="179.8" y="705.3" font-size="5" text-anchor="middle" fill="#333333" >−0.10</text>
<line x1="199.25" y1="697.4" x2="199.25" y2="699.5" stroke="#444444" stroke-width="0.6" />
<text x="199.25" y="705.3" font-size="5" text-anchor="middle" fill="#333333" >−0.05</text>
<line x1="218.7" y1="697.4" x2="218.7" y2="699.5" stroke="#444444" stroke-width="0.6" />
<text x="218.7" y="705.3" font-size="5" text-anchor="middle" fill="#333333" >0.00</text>
<line x1="238.15" y1="697.4" x2="238.15" y2="699.5" stroke="#444444" stroke-width="0.6" />
<text x="238.15" y="705.3" font-size="5" text-anchor="middle" fill="#333333" >0.05</text>
<line x1="257.6" y1="697.4" x2="257.6" y2="699.5" stroke="#444444" stroke-width="0.6" />
<text x="257.6" y="705.3" font-size="5" text-anchor="middle" fill="#333333" >0.10</text>
<line x1="277.05" y1="697.4" x2="277.05" y2="699.5" stroke="#444444" stroke-width="0.6" />
<text x="277.05" y="705.3" font-size="5" text-anchor="middle" fill="#333333" >0.15</text>
<line x1="296.5" y1="697.4" x2="296.5" y2="699.5" stroke="#444444" stroke-width="0.6" />
<text x="296.5" y="705.3" font-size="5" text-anchor="middle" fill="#333333" >0.20</text>
<text x="222.05" y="712.8" font-size="5.9" text-anchor="middle" fill="#262626" >SHAP value (impact on model output)</text>
<defs><linearGradient id="gPurples" x1="0" y1="0" x2="0" y2="1"><stop offset="0" stop-color="#3f007d"/><stop offset="0.12" stop-color="#54278f"/><stop offset="0.25" stop-color="#6a51a3"/><stop offset="0.38" stop-color="#807dba"/><stop offset="0.5" stop-color="#9e9ac8"/><stop offset="0.62" stop-color="#bcbddc"/><stop offset="0.75" stop-color="#dadaeb"/><stop offset="0.88" stop-color="#efedf5"/><stop offset="1" stop-color="#fcfbfd"/></linearGradient></defs>
<rect x="311.3" y="601" width="1.8" height="96.7" fill="url(#gPurples)"/>
<text x="314.2" y="603.2" font-size="5.3" text-anchor="start" fill="#333333" >High</text>
<text x="314.2" y="700.5" font-size="5.3" text-anchor="start" fill="#333333" >Low</text>
<text x="0" y="0" font-size="5.6" text-anchor="middle" fill="#333333" transform="translate(329.2,648.95) rotate(-90)">Feature value</text>
<ellipse cx="206.5" cy="614.6" rx="6" ry="2.2" fill="#faf9fc" fill-opacity="1.0"/>
<ellipse cx="206.5" cy="614.6" rx="3.8" ry="5.4" fill="#faf9fc" fill-opacity="1.0"/>
<circle cx="217.54" cy="614.78" r="0.95" fill="#b9b9da"/>
<circle cx="219.56" cy="614.83" r="0.95" fill="#d7d7e9"/>
<circle cx="220.7" cy="614.76" r="0.95" fill="#d5d5e8"/>
<circle cx="221.68" cy="614.83" r="0.95" fill="#cecee5"/>
<circle cx="223.05" cy="614.71" r="0.95" fill="#c6c6e1"/>
<circle cx="224.86" cy="614.28" r="0.95" fill="#d8d8ea"/>
<circle cx="226.48" cy="614.88" r="0.95" fill="#d4d4e8"/>
<circle cx="228" cy="614.58" r="0.95" fill="#c0c1de"/>
<circle cx="228.73" cy="614.32" r="0.95" fill="#c9c9e2"/>
<circle cx="230.12" cy="614.56" r="0.95" fill="#b8b9da"/>
<circle cx="232.67" cy="614.66" r="0.95" fill="#d9d9ea"/>
<circle cx="233.17" cy="614.87" r="0.95" fill="#d0d0e6"/>
<circle cx="235.53" cy="614.3" r="0.95" fill="#bdbedc"/>
<circle cx="236.25" cy="614.57" r="0.95" fill="#bbbcdb"/>
<circle cx="240.87" cy="614.71" r="0.95" fill="#b6b6d8"/>
<circle cx="241.55" cy="614.6" r="0.95" fill="#bcbddc"/>
<circle cx="243" cy="614.38" r="0.95" fill="#c0c1de"/>
<circle cx="244" cy="614.59" r="0.95" fill="#c3c4df"/>
<circle cx="244.18" cy="614.22" r="0.95" fill="#c3c4e0"/>
<circle cx="245.81" cy="615.07" r="0.95" fill="#b8b9d9"/>
<circle cx="246.14" cy="614.35" r="0.95" fill="#cdcee5"/>
<circle cx="247.14" cy="614.6" r="0.95" fill="#b7b8d9"/>
<circle cx="251.39" cy="614.52" r="0.95" fill="#582e92"/>
<circle cx="251.7" cy="614.64" r="0.95" fill="#4c1888"/>
<circle cx="252.86" cy="614.44" r="0.95" fill="#53268e"/>
<circle cx="257.65" cy="614.31" r="0.95" fill="#4e1b8a"/>
<circle cx="257.97" cy="614.29" r="0.95" fill="#674ca1"/>
<circle cx="258.35" cy="614.58" r="0.95" fill="#62429c"/>
<circle cx="259.42" cy="615.03" r="0.95" fill="#562a91"/>
<circle cx="259.89" cy="614.19" r="0.95" fill="#420680"/>
<circle cx="260.25" cy="614.71" r="0.95" fill="#65489f"/>
<circle cx="260.68" cy="615.21" r="0.95" fill="#430881"/>
<circle cx="261.62" cy="614.49" r="0.95" fill="#5e3a98"/>
<circle cx="262.1" cy="614.61" r="0.95" fill="#470f84"/>
<circle cx="262.98" cy="614.23" r="0.95" fill="#63449d"/>
<circle cx="263.36" cy="615.06" r="0.95" fill="#4c1988"/>
<circle cx="263.89" cy="614.69" r="0.95" fill="#4e1c8a"/>
<circle cx="264.18" cy="614.69" r="0.95" fill="#470f84"/>
<circle cx="265.15" cy="614.68" r="0.95" fill="#603e9a"/>
<circle cx="265.83" cy="614.89" r="0.95" fill="#51228d"/>
<circle cx="266.16" cy="614.45" r="0.95" fill="#6b53a4"/>
<circle cx="266.95" cy="614.55" r="0.95" fill="#450c82"/>
<circle cx="267.13" cy="614.5" r="0.95" fill="#42057f"/>
<circle cx="268.19" cy="614.74" r="0.95" fill="#460c83"/>
<circle cx="268.6" cy="614.67" r="0.95" fill="#4a1587"/>
<circle cx="269.37" cy="614.44" r="0.95" fill="#593194"/>
<circle cx="270.04" cy="614.98" r="0.95" fill="#572c91"/>
<circle cx="270.38" cy="614.84" r="0.95" fill="#65479e"/>
<circle cx="271.16" cy="614.59" r="0.95" fill="#53258e"/>
<circle cx="271.41" cy="615.1" r="0.95" fill="#450b82"/>
<circle cx="271.95" cy="614.43" r="0.95" fill="#4d1a89"/>
<circle cx="272.75" cy="615.1" r="0.95" fill="#5a3395"/>
<circle cx="273.37" cy="614.42" r="0.95" fill="#582f93"/>
<circle cx="273.8" cy="614.97" r="0.95" fill="#705da9"/>
<circle cx="274.19" cy="615" r="0.95" fill="#4e1c8a"/>
<circle cx="274.98" cy="614.43" r="0.95" fill="#430881"/>
<circle cx="275.91" cy="614.93" r="0.95" fill="#6b53a4"/>
<circle cx="275.97" cy="614.56" r="0.95" fill="#4c1888"/>
<circle cx="276.74" cy="614.57" r="0.95" fill="#54268f"/>
<circle cx="277.26" cy="614.99" r="0.95" fill="#501f8b"/>
<circle cx="278.15" cy="614.59" r="0.95" fill="#674ba0"/>
<circle cx="278.82" cy="615.01" r="0.95" fill="#664aa0"/>
<circle cx="279.19" cy="614.56" r="0.95" fill="#4c1888"/>
<circle cx="279.99" cy="613.99" r="0.95" fill="#440a82"/>
<circle cx="280.45" cy="614.61" r="0.95" fill="#562c91"/>
<circle cx="280.95" cy="614.35" r="0.95" fill="#481084"/>
<circle cx="281.79" cy="614.54" r="0.95" fill="#491386"/>
<circle cx="282.17" cy="614.14" r="0.95" fill="#7261ab"/>
<circle cx="282.45" cy="614.44" r="0.95" fill="#5d3998"/>
<circle cx="283.07" cy="614.39" r="0.95" fill="#5f3b99"/>
<circle cx="284.05" cy="614.64" r="0.95" fill="#562b91"/>
<circle cx="284.7" cy="614.61" r="0.95" fill="#62429c"/>
<circle cx="284.91" cy="614.91" r="0.95" fill="#41037e"/>
<circle cx="285.37" cy="614.85" r="0.95" fill="#6e59a7"/>
<circle cx="286.19" cy="613.88" r="0.95" fill="#470f84"/>
<circle cx="286.82" cy="614.19" r="0.95" fill="#65489f"/>
<circle cx="287.15" cy="614.3" r="0.95" fill="#5a3395"/>
<circle cx="287.73" cy="614.66" r="0.95" fill="#664aa0"/>
<circle cx="288.64" cy="614.41" r="0.95" fill="#6c56a6"/>
<circle cx="289.33" cy="615.16" r="0.95" fill="#582f93"/>
<circle cx="289.52" cy="614.15" r="0.95" fill="#51218c"/>
<circle cx="290.29" cy="614.9" r="0.95" fill="#460c83"/>
<circle cx="290.72" cy="614.92" r="0.95" fill="#7260ab"/>
<circle cx="291.36" cy="614.91" r="0.95" fill="#593093"/>
<circle cx="292.09" cy="614.39" r="0.95" fill="#501f8b"/>
<ellipse cx="195.5" cy="628.3" rx="4" ry="1.5" fill="#faf9fc" fill-opacity="1.0"/>
<ellipse cx="195.5" cy="628.3" rx="2.5" ry="4.5" fill="#faf9fc" fill-opacity="1.0"/>
<circle cx="202.28" cy="627.57" r="0.95" fill="#f6f4f9"/>
<circle cx="204.27" cy="628.02" r="0.95" fill="#f3f1f7"/>
<circle cx="204.94" cy="628.49" r="0.95" fill="#faf8fb"/>
<circle cx="206.79" cy="628.61" r="0.95" fill="#f4f2f8"/>
<circle cx="206.92" cy="629.71" r="0.95" fill="#f7f6fa"/>
<circle cx="208.15" cy="626.71" r="0.95" fill="#f3f2f8"/>
<circle cx="209.7" cy="628.45" r="0.95" fill="#faf9fc"/>
<circle cx="210.88" cy="627.21" r="0.95" fill="#f2f0f7"/>
<ellipse cx="219.4" cy="628.3" rx="5" ry="1.5" fill="#dadaeb" fill-opacity="1.0"/>
<ellipse cx="219.4" cy="628.3" rx="2.5" ry="4" fill="#dadaeb" fill-opacity="1.0"/>
<circle cx="224.78" cy="628.48" r="0.95" fill="#41047f"/>
<circle cx="225.02" cy="628.38" r="0.95" fill="#674ba0"/>
<circle cx="225.54" cy="628.3" r="0.95" fill="#4c1888"/>
<circle cx="226.43" cy="628.11" r="0.95" fill="#4f1d8b"/>
<circle cx="226.69" cy="627.62" r="0.95" fill="#460c83"/>
<circle cx="227.54" cy="628.32" r="0.95" fill="#552990"/>
<circle cx="227.81" cy="627.54" r="0.95" fill="#40027e"/>
<circle cx="228.19" cy="628.56" r="0.95" fill="#4c1888"/>
<circle cx="229.1" cy="628.53" r="0.95" fill="#4a1586"/>
<circle cx="229.47" cy="628.5" r="0.95" fill="#65479e"/>
<circle cx="229.74" cy="628.73" r="0.95" fill="#4d1a89"/>
<circle cx="230.56" cy="628.02" r="0.95" fill="#684da1"/>
<circle cx="230.76" cy="628.28" r="0.95" fill="#4c1888"/>
<circle cx="231.74" cy="628.51" r="0.95" fill="#5a3294"/>
<circle cx="231.99" cy="628.05" r="0.95" fill="#54268f"/>
<circle cx="232.78" cy="628.26" r="0.95" fill="#5c3596"/>
<circle cx="232.92" cy="628.47" r="0.95" fill="#4f1e8b"/>
<circle cx="233.7" cy="627.59" r="0.95" fill="#582e92"/>
<circle cx="234.35" cy="628.27" r="0.95" fill="#562b91"/>
<circle cx="234.89" cy="628.53" r="0.95" fill="#684da1"/>
<circle cx="235.19" cy="628.21" r="0.95" fill="#53248e"/>
<circle cx="235.97" cy="628.1" r="0.95" fill="#562b91"/>
<path d="M234.7,628.3 Q237.5,626.9 238.7,622.7 Q239.9,626.9 242.7,628.3 Q239.9,629.7 238.7,633.9 Q237.5,629.7 234.7,628.3Z" fill="#501f8b"/>
<circle cx="236.5" cy="628.92" r="0.95" fill="#552990"/>
<circle cx="236.85" cy="630.21" r="0.95" fill="#430881"/>
<circle cx="237.62" cy="628.54" r="0.95" fill="#40027e"/>
<circle cx="238.58" cy="627.76" r="0.95" fill="#430780"/>
<circle cx="239.13" cy="629.21" r="0.95" fill="#4b1687"/>
<circle cx="239.49" cy="630.93" r="0.95" fill="#460d83"/>
<circle cx="240.2" cy="629.13" r="0.95" fill="#51228d"/>
<circle cx="240.94" cy="627.03" r="0.95" fill="#572d92"/>
<circle cx="241.63" cy="626.48" r="0.95" fill="#562b91"/>
<circle cx="242.4" cy="627.27" r="0.95" fill="#470f84"/>
<ellipse cx="223.3" cy="642" rx="2.2" ry="1.2" fill="#faf9fc" fill-opacity="1.0"/>
<ellipse cx="223.3" cy="642" rx="1.8" ry="5.5" fill="#faf9fc" fill-opacity="1.0"/>
<circle cx="162.1" cy="641.88" r="0.95" fill="#40017e"/>
<circle cx="166.21" cy="642.13" r="0.95" fill="#430780"/>
<circle cx="166.56" cy="641.7" r="0.95" fill="#52248e"/>
<circle cx="166.83" cy="642.2" r="0.95" fill="#52238d"/>
<circle cx="167.13" cy="642.56" r="0.95" fill="#450b82"/>
<circle cx="167.37" cy="641.26" r="0.95" fill="#562a90"/>
<circle cx="167.7" cy="641.96" r="0.95" fill="#53268e"/>
<circle cx="168.3" cy="642.15" r="0.95" fill="#50208c"/>
<circle cx="168.38" cy="642.24" r="0.95" fill="#53258e"/>
<circle cx="168.99" cy="641.39" r="0.95" fill="#481185"/>
<circle cx="169.21" cy="642.47" r="0.95" fill="#562b91"/>
<circle cx="169.51" cy="641.6" r="0.95" fill="#481185"/>
<circle cx="169.78" cy="641.51" r="0.95" fill="#4e1c8a"/>
<circle cx="170.08" cy="641.87" r="0.95" fill="#460d83"/>
<circle cx="170.64" cy="642.55" r="0.95" fill="#4b1687"/>
<circle cx="170.78" cy="642.03" r="0.95" fill="#51228d"/>
<circle cx="171.08" cy="642.26" r="0.95" fill="#52238d"/>
<circle cx="171.65" cy="641.84" r="0.95" fill="#4e1d8a"/>
<circle cx="171.94" cy="641.86" r="0.95" fill="#50208c"/>
<circle cx="172.32" cy="642.87" r="0.95" fill="#54278f"/>
<circle cx="172.38" cy="641.92" r="0.95" fill="#4b1687"/>
<circle cx="172.88" cy="642.16" r="0.95" fill="#460e83"/>
<circle cx="173.1" cy="641.66" r="0.95" fill="#50208c"/>
<circle cx="173.61" cy="641.65" r="0.95" fill="#53248e"/>
<circle cx="173.82" cy="641.97" r="0.95" fill="#40027e"/>
<circle cx="174.33" cy="642.18" r="0.95" fill="#40017d"/>
<circle cx="174.53" cy="641.69" r="0.95" fill="#54268f"/>
<circle cx="174.9" cy="642.23" r="0.95" fill="#54278f"/>
<circle cx="175.19" cy="641.7" r="0.95" fill="#491386"/>
<circle cx="175.55" cy="641.65" r="0.95" fill="#41037e"/>
<circle cx="176" cy="642.09" r="0.95" fill="#4e1d8a"/>
<circle cx="177.18" cy="642.34" r="0.95" fill="#572d92"/>
<circle cx="178.15" cy="641.99" r="0.95" fill="#63439c"/>
<circle cx="178.26" cy="642.45" r="0.95" fill="#603e9a"/>
<circle cx="179.13" cy="642.02" r="0.95" fill="#5c3596"/>
<circle cx="179.41" cy="642.34" r="0.95" fill="#61409b"/>
<circle cx="180.58" cy="641.87" r="0.95" fill="#5e3a98"/>
<circle cx="180.65" cy="642.13" r="0.95" fill="#4d1a89"/>
<circle cx="181.51" cy="642.46" r="0.95" fill="#4f1e8b"/>
<circle cx="182.16" cy="642.21" r="0.95" fill="#582e92"/>
<circle cx="182.5" cy="641.55" r="0.95" fill="#664aa0"/>
<circle cx="185.46" cy="642.31" r="0.95" fill="#603e9a"/>
<circle cx="185.86" cy="641.94" r="0.95" fill="#52238d"/>
<circle cx="186.92" cy="642.01" r="0.95" fill="#64459d"/>
<circle cx="187.39" cy="642.47" r="0.95" fill="#6d58a7"/>
<circle cx="188.44" cy="641.93" r="0.95" fill="#6b53a4"/>
<circle cx="189.57" cy="642.17" r="0.95" fill="#6c55a5"/>
<circle cx="189.93" cy="642" r="0.95" fill="#684ea1"/>
<circle cx="190.68" cy="641.71" r="0.95" fill="#786db2"/>
<circle cx="191.55" cy="642.15" r="0.95" fill="#7f7bb9"/>
<circle cx="192.51" cy="641.68" r="0.95" fill="#603f9a"/>
<circle cx="192.82" cy="642.36" r="0.95" fill="#562a91"/>
<circle cx="194.18" cy="642.02" r="0.95" fill="#51228d"/>
<circle cx="195.05" cy="642.17" r="0.95" fill="#6c55a5"/>
<circle cx="195.37" cy="641.95" r="0.95" fill="#776bb1"/>
<circle cx="196.22" cy="641.5" r="0.95" fill="#7465ad"/>
<circle cx="196.86" cy="642.18" r="0.95" fill="#8481bc"/>
<circle cx="197.75" cy="641.97" r="0.95" fill="#593194"/>
<circle cx="198.91" cy="641.85" r="0.95" fill="#796fb2"/>
<circle cx="201.43" cy="641.82" r="0.95" fill="#8986be"/>
<circle cx="202.02" cy="641.87" r="0.95" fill="#64469e"/>
<circle cx="204.44" cy="642.38" r="0.95" fill="#8380bb"/>
<circle cx="206.4" cy="641.73" r="0.95" fill="#7970b3"/>
<circle cx="208.3" cy="641.86" r="0.95" fill="#776ab0"/>
<circle cx="209.66" cy="641.76" r="0.95" fill="#7465ad"/>
<ellipse cx="222.8" cy="655.7" rx="2.2" ry="1.2" fill="#faf9fc" fill-opacity="1.0"/>
<ellipse cx="222.8" cy="655.7" rx="2" ry="5" fill="#faf9fc" fill-opacity="1.0"/>
<circle cx="203.86" cy="655.94" r="0.95" fill="#a5a2cd"/>
<circle cx="204.85" cy="655.62" r="0.95" fill="#9a96c6"/>
<circle cx="205.64" cy="655.81" r="0.95" fill="#807dba"/>
<circle cx="206.5" cy="655.47" r="0.95" fill="#aba9d0"/>
<circle cx="207.23" cy="655.96" r="0.95" fill="#b1b0d5"/>
<circle cx="207.85" cy="654.84" r="0.95" fill="#8582bc"/>
<circle cx="208.54" cy="655.59" r="0.95" fill="#b1b1d5"/>
<circle cx="209.11" cy="656.13" r="0.95" fill="#a4a1cc"/>
<circle cx="210.11" cy="655.34" r="0.95" fill="#a19eca"/>
<circle cx="211.3" cy="655.84" r="0.95" fill="#b5b5d7"/>
<circle cx="211.61" cy="655.73" r="0.95" fill="#9d99c8"/>
<circle cx="212.85" cy="655.21" r="0.95" fill="#8d8ac0"/>
<circle cx="213.15" cy="655.4" r="0.95" fill="#908dc2"/>
<circle cx="213.72" cy="655.5" r="0.95" fill="#9d99c8"/>
<circle cx="215.11" cy="655.75" r="0.95" fill="#9591c4"/>
<circle cx="215.73" cy="655.58" r="0.95" fill="#aeadd3"/>
<circle cx="209" cy="655.81" r="0.95" fill="#4b1788"/>
<circle cx="209.25" cy="656.25" r="0.95" fill="#572d92"/>
<circle cx="209.62" cy="655.77" r="0.95" fill="#54288f"/>
<ellipse cx="216" cy="669.4" rx="2" ry="1.2" fill="#faf9fc" fill-opacity="1.0"/>
<ellipse cx="216" cy="669.4" rx="1.8" ry="5" fill="#faf9fc" fill-opacity="1.0"/>
<circle cx="219.36" cy="669.64" r="0.95" fill="#e0dfee"/>
<circle cx="219.69" cy="669.4" r="0.95" fill="#dcdcec"/>
<circle cx="220.39" cy="669.35" r="0.95" fill="#d9d9ea"/>
<circle cx="226.1" cy="669.68" r="0.95" fill="#440a82"/>
<circle cx="230.47" cy="669.39" r="0.95" fill="#4c1888"/>
<circle cx="231.11" cy="669.25" r="0.95" fill="#5f3d99"/>
<circle cx="231.45" cy="670.01" r="0.95" fill="#52238d"/>
<circle cx="232.05" cy="669.59" r="0.95" fill="#491386"/>
<circle cx="232.97" cy="669.22" r="0.95" fill="#5c3696"/>
<circle cx="233.05" cy="669.07" r="0.95" fill="#603d9a"/>
<circle cx="233.79" cy="669.52" r="0.95" fill="#593093"/>
<circle cx="234.17" cy="669.25" r="0.95" fill="#51228d"/>
<circle cx="234.99" cy="669.41" r="0.95" fill="#40027e"/>
<circle cx="235.47" cy="669.75" r="0.95" fill="#5d3797"/>
<circle cx="235.9" cy="669.39" r="0.95" fill="#51218c"/>
<circle cx="236.41" cy="669.67" r="0.95" fill="#54268f"/>
<circle cx="237.28" cy="669.29" r="0.95" fill="#481185"/>
<circle cx="237.51" cy="669.31" r="0.95" fill="#4d1a89"/>
<circle cx="238.01" cy="669.39" r="0.95" fill="#430880"/>
<circle cx="238.6" cy="669.55" r="0.95" fill="#40037e"/>
<circle cx="239.32" cy="669.44" r="0.95" fill="#5d3897"/>
<circle cx="239.67" cy="669.22" r="0.95" fill="#41057f"/>
<circle cx="240.53" cy="668.85" r="0.95" fill="#5b3495"/>
<circle cx="241.14" cy="669.39" r="0.95" fill="#52238d"/>
<circle cx="241.45" cy="669.75" r="0.95" fill="#55288f"/>
<circle cx="242.22" cy="669.54" r="0.95" fill="#481185"/>
<circle cx="242.7" cy="668.61" r="0.95" fill="#572d92"/>
<circle cx="242.85" cy="669.27" r="0.95" fill="#593093"/>
<circle cx="243.53" cy="669.64" r="0.95" fill="#5e3998"/>
<circle cx="244.38" cy="669.39" r="0.95" fill="#552990"/>
<circle cx="244.51" cy="669.34" r="0.95" fill="#54268f"/>
<circle cx="245.43" cy="669.31" r="0.95" fill="#450c83"/>
<circle cx="246.01" cy="669.58" r="0.95" fill="#440981"/>
<circle cx="246.37" cy="669.17" r="0.95" fill="#4c1888"/>
<circle cx="247.12" cy="669.57" r="0.95" fill="#572c91"/>
<circle cx="247.57" cy="669.59" r="0.95" fill="#603e9a"/>
<circle cx="247.97" cy="669.28" r="0.95" fill="#50208c"/>
<circle cx="248.49" cy="668.86" r="0.95" fill="#3f017d"/>
<circle cx="249.17" cy="669.24" r="0.95" fill="#430780"/>
<circle cx="249.71" cy="669.36" r="0.95" fill="#40027e"/>
<circle cx="250.29" cy="669.82" r="0.95" fill="#470e84"/>
<circle cx="250.77" cy="669.23" r="0.95" fill="#51218c"/>
<circle cx="251.49" cy="669.33" r="0.95" fill="#52248e"/>
<circle cx="251.69" cy="669.58" r="0.95" fill="#481084"/>
<circle cx="255.01" cy="669.45" r="0.95" fill="#4b1787"/>
<circle cx="256.45" cy="669.15" r="0.95" fill="#440a81"/>
<circle cx="258.48" cy="669.57" r="0.95" fill="#582e92"/>
<circle cx="261.16" cy="669.46" r="0.95" fill="#4e1c8a"/>
<circle cx="262.95" cy="669.21" r="0.95" fill="#572d92"/>
<circle cx="148.87" cy="683.38" r="0.95" fill="#f6f4f9"/>
<circle cx="150.71" cy="682.81" r="0.95" fill="#f6f4f9"/>
<circle cx="152.17" cy="683.39" r="0.95" fill="#fbfafc"/>
<circle cx="154.22" cy="682.98" r="0.95" fill="#f6f5fa"/>
<circle cx="155.42" cy="683.21" r="0.95" fill="#f9f8fb"/>
<circle cx="159.41" cy="683.32" r="0.95" fill="#f7f6fa"/>
<circle cx="160.3" cy="683.44" r="0.95" fill="#f9f8fb"/>
<circle cx="163.48" cy="682.62" r="0.95" fill="#f4f3f8"/>
<circle cx="165.28" cy="682.75" r="0.95" fill="#f6f5f9"/>
<circle cx="165.84" cy="683.07" r="0.95" fill="#f9f8fb"/>
<circle cx="168.65" cy="683.38" r="0.95" fill="#f5f3f9"/>
<circle cx="172.05" cy="683.02" r="0.95" fill="#f6f5f9"/>
<circle cx="173.04" cy="683.58" r="0.95" fill="#f6f4f9"/>
<circle cx="175.91" cy="682.95" r="0.95" fill="#f4f2f8"/>
<circle cx="176.45" cy="683.15" r="0.95" fill="#f6f5f9"/>
<circle cx="178.71" cy="682.91" r="0.95" fill="#f6f5f9"/>
<circle cx="181.63" cy="683.25" r="0.95" fill="#f8f7fa"/>
<circle cx="184.39" cy="683.01" r="0.95" fill="#fcfbfd"/>
<circle cx="185.74" cy="683.49" r="0.95" fill="#f7f6fa"/>
<circle cx="187.79" cy="682.92" r="0.95" fill="#f4f2f8"/>
<circle cx="189.71" cy="682.8" r="0.95" fill="#f8f7fb"/>
<circle cx="191.95" cy="682.9" r="0.95" fill="#f6f5f9"/>
<circle cx="194.9" cy="683.01" r="0.95" fill="#f8f7fb"/>
<circle cx="197.06" cy="683.44" r="0.95" fill="#f5f4f9"/>
<circle cx="199.4" cy="683.33" r="0.95" fill="#f6f4f9"/>
<circle cx="201.04" cy="682.96" r="0.95" fill="#f8f7fb"/>
<circle cx="201.83" cy="683.18" r="0.95" fill="#f5f3f9"/>
<circle cx="203.97" cy="683.47" r="0.95" fill="#fbfafc"/>
<circle cx="206.07" cy="682.9" r="0.95" fill="#fbfafd"/>
<circle cx="208.52" cy="683.17" r="0.95" fill="#f7f6fa"/>
<ellipse cx="221" cy="683.1" rx="9" ry="1.4" fill="#faf9fc" fill-opacity="1.0"/>
<ellipse cx="221" cy="683.1" rx="7" ry="4.5" fill="#faf9fc" fill-opacity="1.0"/>
<circle cx="218.71" cy="681.6" r="0.95" fill="#6c55a5"/>
<circle cx="219.21" cy="682.8" r="0.95" fill="#9995c5"/>
<circle cx="219.72" cy="681.38" r="0.95" fill="#7262ac"/>
<circle cx="220.01" cy="683.74" r="0.95" fill="#8f8bc1"/>
<circle cx="220.22" cy="684.18" r="0.95" fill="#6f5aa8"/>
<circle cx="220.58" cy="685.03" r="0.95" fill="#705eaa"/>
<circle cx="220.91" cy="684.48" r="0.95" fill="#481185"/>
<circle cx="221.43" cy="685.04" r="0.95" fill="#66499f"/>
<circle cx="221.86" cy="689.49" r="0.95" fill="#572d92"/>
<circle cx="222.15" cy="681.71" r="0.95" fill="#5a3395"/>
<circle cx="222.63" cy="679.83" r="0.95" fill="#9c99c7"/>
<circle cx="223" cy="682.86" r="0.95" fill="#4b1687"/>
<circle cx="223.31" cy="678.88" r="0.95" fill="#a8a6cf"/>
<circle cx="223.77" cy="684.12" r="0.95" fill="#786eb2"/>
<circle cx="224.2" cy="684.77" r="0.95" fill="#6c55a5"/>
<circle cx="224.5" cy="681.13" r="0.95" fill="#6b52a4"/>
<circle cx="224.7" cy="682.42" r="0.95" fill="#6d58a6"/>
<circle cx="225.1" cy="683.86" r="0.95" fill="#7d77b7"/>
<circle cx="225.53" cy="687.27" r="0.95" fill="#9d99c7"/>
<circle cx="225.93" cy="682.74" r="0.95" fill="#53248e"/>
<circle cx="226.42" cy="683.38" r="0.95" fill="#9d99c7"/>
<circle cx="226.86" cy="683.38" r="0.95" fill="#3f017d"/>
<circle cx="227.19" cy="683.78" r="0.95" fill="#52238d"/>
<circle cx="227.53" cy="681.2" r="0.95" fill="#776cb1"/>
<circle cx="227.87" cy="682.22" r="0.95" fill="#53258e"/>
<circle cx="228.36" cy="683.85" r="0.95" fill="#52238d"/>
<circle cx="228.99" cy="682.89" r="0.95" fill="#694fa2"/>
<circle cx="229.9" cy="683.36" r="0.95" fill="#b8b8d9"/>
<circle cx="231.14" cy="682.29" r="0.95" fill="#7e79b8"/>
<circle cx="231.32" cy="683.95" r="0.95" fill="#52238d"/>
<circle cx="232.05" cy="683.07" r="0.95" fill="#cdcee5"/>
<circle cx="232.94" cy="684.68" r="0.95" fill="#65479e"/>
<circle cx="233.62" cy="684.6" r="0.95" fill="#715faa"/>
<circle cx="234.88" cy="682.12" r="0.95" fill="#5a3395"/>
<circle cx="235.31" cy="683.09" r="0.95" fill="#5c3797"/>
<circle cx="236.22" cy="682.65" r="0.95" fill="#6d57a6"/>
<circle cx="237.16" cy="683.2" r="0.95" fill="#65489e"/>
<circle cx="237.98" cy="683.54" r="0.95" fill="#8582bc"/>
<circle cx="238.64" cy="683.92" r="0.95" fill="#776bb0"/>
<circle cx="239.51" cy="682.57" r="0.95" fill="#a3a0cc"/>
<circle cx="240.56" cy="683.8" r="0.95" fill="#61409b"/>
<circle cx="241.41" cy="683.85" r="0.95" fill="#9894c5"/>
<circle cx="242.25" cy="683.13" r="0.95" fill="#64469e"/>
<circle cx="242.41" cy="683.63" r="0.95" fill="#adacd2"/>
<circle cx="243.92" cy="683.5" r="0.95" fill="#b9b9da"/>
<circle cx="244.23" cy="682.81" r="0.95" fill="#8d89c0"/>
<circle cx="245.05" cy="684.27" r="0.95" fill="#9692c4"/>
<circle cx="245.86" cy="682.57" r="0.95" fill="#53248e"/>
<circle cx="246.95" cy="683.29" r="0.95" fill="#54278f"/>
<circle cx="247.52" cy="683.9" r="0.95" fill="#593194"/>
<circle cx="248.27" cy="682.81" r="0.95" fill="#9491c3"/>
<circle cx="249.23" cy="683.51" r="0.95" fill="#9390c3"/>
<circle cx="249.6" cy="683.69" r="0.95" fill="#8682bd"/>
<circle cx="251.17" cy="683.31" r="0.95" fill="#9894c5"/>
<circle cx="251.46" cy="684.09" r="0.95" fill="#8986be"/>
<circle cx="255.33" cy="683.31" r="0.95" fill="#7465ad"/>
<circle cx="256.9" cy="682.86" r="0.95" fill="#8e8bc1"/>
<circle cx="261.59" cy="683.13" r="0.95" fill="#62419c"/>
<circle cx="264.98" cy="682.87" r="0.95" fill="#63449d"/>
<circle cx="265.63" cy="683.54" r="0.95" fill="#a29fcb"/>
<circle cx="268.8" cy="683.13" r="0.95" fill="#65479e"/>
<circle cx="276.5" cy="683.05" r="0.95" fill="#42057f"/>
<circle cx="292.58" cy="683.47" r="0.95" fill="#470e84"/>
<circle cx="294.72" cy="683.15" r="0.95" fill="#420680"/>
<rect x="489.3" y="601" width="159.8" height="95.9" fill="#EAEAF2" />
<line x1="506.5" y1="601" x2="506.5" y2="696.9" stroke="#FFFFFF" stroke-width="0.8" />
<line x1="527.5" y1="601" x2="527.5" y2="696.9" stroke="#FFFFFF" stroke-width="0.8" />
<line x1="548.5" y1="601" x2="548.5" y2="696.9" stroke="#FFFFFF" stroke-width="0.8" />
<line x1="569.5" y1="601" x2="569.5" y2="696.9" stroke="#FFFFFF" stroke-width="0.8" />
<line x1="590.5" y1="601" x2="590.5" y2="696.9" stroke="#FFFFFF" stroke-width="0.8" />
<line x1="611.5" y1="601" x2="611.5" y2="696.9" stroke="#FFFFFF" stroke-width="0.8" />
<line x1="632.5" y1="601" x2="632.5" y2="696.9" stroke="#FFFFFF" stroke-width="0.8" />
<line x1="489.3" y1="614.6" x2="649.1" y2="614.6" stroke="#FFFFFF" stroke-width="0.8" />
<line x1="489.3" y1="628.3" x2="649.1" y2="628.3" stroke="#FFFFFF" stroke-width="0.8" />
<line x1="489.3" y1="642" x2="649.1" y2="642" stroke="#FFFFFF" stroke-width="0.8" />
<line x1="489.3" y1="655.7" x2="649.1" y2="655.7" stroke="#FFFFFF" stroke-width="0.8" />
<line x1="489.3" y1="669.4" x2="649.1" y2="669.4" stroke="#FFFFFF" stroke-width="0.8" />
<line x1="489.3" y1="683.1" x2="649.1" y2="683.1" stroke="#FFFFFF" stroke-width="0.8" />
<line x1="548.5" y1="601" x2="548.5" y2="696.9" stroke="#BDBDBD" stroke-width="0.6" />
<text x="476.6" y="618" font-size="8.9" text-anchor="end" fill="#262626" textLength="90.9" lengthAdjust="spacingAndGlyphs">Deciduous Forest_50 m</text>
<text x="476.6" y="631.7" font-size="8.9" text-anchor="end" fill="#262626" textLength="71.6" lengthAdjust="spacingAndGlyphs">Main Streets_50 m</text>
<text x="476.6" y="645.4" font-size="8.9" text-anchor="end" fill="#262626" textLength="115" lengthAdjust="spacingAndGlyphs">Greenery along Roads_300 m</text>
<text x="476.6" y="659.1" font-size="8.9" text-anchor="end" fill="#262626" textLength="76.2" lengthAdjust="spacingAndGlyphs">Main Streets_300 m</text>
<text x="476.6" y="672.8" font-size="8.9" text-anchor="end" fill="#262626" textLength="65.7" lengthAdjust="spacingAndGlyphs">Highways_300 m</text>
<text x="476.6" y="686.5" font-size="8.9" text-anchor="end" fill="#262626" textLength="94.2" lengthAdjust="spacingAndGlyphs">Sum of 72 other features</text>
<line x1="506.5" y1="697.4" x2="506.5" y2="699.5" stroke="#444444" stroke-width="0.6" />
<text x="506.5" y="705.3" font-size="5" text-anchor="middle" fill="#333333" >−0.2</text>
<line x1="527.5" y1="697.4" x2="527.5" y2="699.5" stroke="#444444" stroke-width="0.6" />
<text x="527.5" y="705.3" font-size="5" text-anchor="middle" fill="#333333" >−0.1</text>
<line x1="548.5" y1="697.4" x2="548.5" y2="699.5" stroke="#444444" stroke-width="0.6" />
<text x="548.5" y="705.3" font-size="5" text-anchor="middle" fill="#333333" >0.0</text>
<line x1="569.5" y1="697.4" x2="569.5" y2="699.5" stroke="#444444" stroke-width="0.6" />
<text x="569.5" y="705.3" font-size="5" text-anchor="middle" fill="#333333" >0.1</text>
<line x1="590.5" y1="697.4" x2="590.5" y2="699.5" stroke="#444444" stroke-width="0.6" />
<text x="590.5" y="705.3" font-size="5" text-anchor="middle" fill="#333333" >0.2</text>
<line x1="611.5" y1="697.4" x2="611.5" y2="699.5" stroke="#444444" stroke-width="0.6" />
<text x="611.5" y="705.3" font-size="5" text-anchor="middle" fill="#333333" >0.3</text>
<line x1="632.5" y1="697.4" x2="632.5" y2="699.5" stroke="#444444" stroke-width="0.6" />
<text x="632.5" y="705.3" font-size="5" text-anchor="middle" fill="#333333" >0.4</text>
<text x="569.2" y="712.8" font-size="5.9" text-anchor="middle" fill="#262626" >SHAP value (impact on model output)</text>
<defs><linearGradient id="gReds" x1="0" y1="0" x2="0" y2="1"><stop offset="0" stop-color="#67000d"/><stop offset="0.12" stop-color="#a50f15"/><stop offset="0.25" stop-color="#cb181d"/><stop offset="0.38" stop-color="#ef3b2c"/><stop offset="0.5" stop-color="#fb6a4a"/><stop offset="0.62" stop-color="#fc9272"/><stop offset="0.75" stop-color="#fcbba1"/><stop offset="0.88" stop-color="#fee0d2"/><stop offset="1" stop-color="#fff5f0"/></linearGradient></defs>
<rect x="658.8" y="601" width="1.8" height="96.7" fill="url(#gReds)"/>
<text x="661.7" y="603.2" font-size="5.3" text-anchor="start" fill="#333333" >High</text>
<text x="661.7" y="700.5" font-size="5.3" text-anchor="start" fill="#333333" >Low</text>
<text x="0" y="0" font-size="5.6" text-anchor="middle" fill="#333333" transform="translate(676.7,648.95) rotate(-90)">Feature value</text>
<ellipse cx="544.9" cy="614.6" rx="3.6" ry="1.5" fill="#ffeee6" fill-opacity="1.0"/>
<ellipse cx="544.9" cy="614.6" rx="3" ry="5.8" fill="#ffeee6" fill-opacity="1.0"/>
<circle cx="557.2" cy="614.01" r="0.95" fill="#fc9e80"/>
<circle cx="560.7" cy="614.82" r="0.95" fill="#c9181d"/>
<circle cx="561.84" cy="614.52" r="0.95" fill="#b51318"/>
<circle cx="562.61" cy="614.27" r="0.95" fill="#f34935"/>
<circle cx="563.67" cy="614.66" r="0.95" fill="#ef3c2c"/>
<circle cx="564.03" cy="615.3" r="0.95" fill="#eb372a"/>
<circle cx="564.84" cy="614.19" r="0.95" fill="#eb372a"/>
<circle cx="565.68" cy="614.23" r="0.95" fill="#f03e2e"/>
<circle cx="566.17" cy="614.35" r="0.95" fill="#d01d1f"/>
<circle cx="567.05" cy="614.66" r="0.95" fill="#da2623"/>
<circle cx="568.38" cy="614.34" r="0.95" fill="#f44d38"/>
<circle cx="568.83" cy="614.64" r="0.95" fill="#b41318"/>
<circle cx="569.75" cy="614.46" r="0.95" fill="#e02c26"/>
<circle cx="570" cy="614.8" r="0.95" fill="#c5171c"/>
<circle cx="571.52" cy="614.51" r="0.95" fill="#bf151a"/>
<circle cx="572.28" cy="614.52" r="0.95" fill="#f44f39"/>
<circle cx="572.65" cy="614.36" r="0.95" fill="#bc151a"/>
<circle cx="573.85" cy="614.71" r="0.95" fill="#ef3c2d"/>
<circle cx="574.61" cy="614.47" r="0.95" fill="#f44d38"/>
<circle cx="574.82" cy="614.66" r="0.95" fill="#9f0e14"/>
<circle cx="575.48" cy="614.81" r="0.95" fill="#f34a35"/>
<circle cx="576.22" cy="614.67" r="0.95" fill="#990c14"/>
<circle cx="577.65" cy="614.65" r="0.95" fill="#e02c26"/>
<circle cx="578.06" cy="615.15" r="0.95" fill="#990c13"/>
<circle cx="578.61" cy="614.69" r="0.95" fill="#d92623"/>
<circle cx="579.54" cy="614.65" r="0.95" fill="#f44e38"/>
<circle cx="580.7" cy="614.73" r="0.95" fill="#e73429"/>
<circle cx="581.18" cy="615.1" r="0.95" fill="#f34b36"/>
<circle cx="581.7" cy="614.86" r="0.95" fill="#ae1117"/>
<circle cx="582.7" cy="614.57" r="0.95" fill="#f14432"/>
<circle cx="583.73" cy="614.67" r="0.95" fill="#b11218"/>
<circle cx="584.34" cy="614.69" r="0.95" fill="#f44e38"/>
<circle cx="585.43" cy="614.24" r="0.95" fill="#f14432"/>
<circle cx="585.67" cy="614.77" r="0.95" fill="#ce1b1e"/>
<circle cx="586.99" cy="614.15" r="0.95" fill="#b51318"/>
<circle cx="587.1" cy="614.67" r="0.95" fill="#f6553c"/>
<circle cx="589.16" cy="614.8" r="0.95" fill="#75030f"/>
<circle cx="589.35" cy="614.35" r="0.95" fill="#75030f"/>
<circle cx="589.93" cy="614.96" r="0.95" fill="#75030f"/>
<circle cx="590.62" cy="614.3" r="0.95" fill="#960b13"/>
<circle cx="591.03" cy="614.94" r="0.95" fill="#820711"/>
<circle cx="591.63" cy="614.28" r="0.95" fill="#860811"/>
<circle cx="592.3" cy="615.05" r="0.95" fill="#70020e"/>
<circle cx="593.02" cy="614.67" r="0.95" fill="#7c0510"/>
<circle cx="593.38" cy="614.32" r="0.95" fill="#800610"/>
<circle cx="594.12" cy="614.74" r="0.95" fill="#79040f"/>
<circle cx="594.87" cy="614.56" r="0.95" fill="#6f020e"/>
<circle cx="595.31" cy="614.42" r="0.95" fill="#67000d"/>
<circle cx="595.91" cy="614.62" r="0.95" fill="#940b13"/>
<circle cx="596.5" cy="614.44" r="0.95" fill="#930b13"/>
<circle cx="596.79" cy="614.51" r="0.95" fill="#820610"/>
<circle cx="597.19" cy="614.22" r="0.95" fill="#7f0610"/>
<circle cx="597.98" cy="614.8" r="0.95" fill="#76040f"/>
<circle cx="598.37" cy="614.1" r="0.95" fill="#8c0912"/>
<circle cx="598.92" cy="614.61" r="0.95" fill="#7f0610"/>
<circle cx="599.97" cy="614.41" r="0.95" fill="#79040f"/>
<circle cx="609.7" cy="615.17" r="0.95" fill="#70020e"/>
<ellipse cx="553.7" cy="628.3" rx="2.8" ry="1.3" fill="#ffeee6" fill-opacity="1.0"/>
<ellipse cx="553.7" cy="628.3" rx="2.4" ry="5.5" fill="#ffeee6" fill-opacity="1.0"/>
<circle cx="522.51" cy="628.73" r="0.95" fill="#9e0d14"/>
<circle cx="522.74" cy="628.45" r="0.95" fill="#930b13"/>
<circle cx="523.33" cy="627.97" r="0.95" fill="#c5171c"/>
<circle cx="523.56" cy="628.78" r="0.95" fill="#ab1016"/>
<circle cx="524.1" cy="628.15" r="0.95" fill="#68000d"/>
<circle cx="524.55" cy="628.07" r="0.95" fill="#940b13"/>
<circle cx="524.69" cy="628.28" r="0.95" fill="#840711"/>
<circle cx="525.04" cy="628.23" r="0.95" fill="#73030f"/>
<circle cx="525.72" cy="628.07" r="0.95" fill="#b61319"/>
<circle cx="526.06" cy="628.95" r="0.95" fill="#8d0912"/>
<circle cx="526.59" cy="627.73" r="0.95" fill="#6a010d"/>
<circle cx="526.87" cy="627.55" r="0.95" fill="#b51318"/>
<circle cx="527.46" cy="628.33" r="0.95" fill="#9b0d14"/>
<circle cx="527.73" cy="628.23" r="0.95" fill="#b71319"/>
<circle cx="528.01" cy="628.39" r="0.95" fill="#b61318"/>
<circle cx="528.45" cy="628.07" r="0.95" fill="#c8171c"/>
<circle cx="528.93" cy="627.83" r="0.95" fill="#8c0912"/>
<circle cx="529.51" cy="628" r="0.95" fill="#bf151b"/>
<circle cx="529.74" cy="627.83" r="0.95" fill="#a60f15"/>
<circle cx="530.05" cy="628.02" r="0.95" fill="#c4161c"/>
<circle cx="530.69" cy="628.15" r="0.95" fill="#c7171c"/>
<circle cx="530.94" cy="628.33" r="0.95" fill="#a91016"/>
<circle cx="531.53" cy="628.82" r="0.95" fill="#74030f"/>
<circle cx="531.96" cy="628.37" r="0.95" fill="#b61319"/>
<circle cx="532.44" cy="628.06" r="0.95" fill="#be151a"/>
<circle cx="532.88" cy="628.4" r="0.95" fill="#c4161b"/>
<circle cx="533.14" cy="628.54" r="0.95" fill="#c6171c"/>
<circle cx="533.54" cy="627.86" r="0.95" fill="#b91419"/>
<circle cx="534.18" cy="628.26" r="0.95" fill="#75030f"/>
<circle cx="534.53" cy="627.93" r="0.95" fill="#71020e"/>
<circle cx="534.65" cy="627.95" r="0.95" fill="#a40f15"/>
<circle cx="535.15" cy="628.59" r="0.95" fill="#c4161c"/>
<circle cx="535.63" cy="628.24" r="0.95" fill="#74030f"/>
<circle cx="536.29" cy="628.19" r="0.95" fill="#ba1419"/>
<circle cx="536.37" cy="628.13" r="0.95" fill="#b21218"/>
<circle cx="536.9" cy="628.58" r="0.95" fill="#af1117"/>
<circle cx="537.16" cy="628.31" r="0.95" fill="#a91016"/>
<circle cx="537.66" cy="628.38" r="0.95" fill="#ae1117"/>
<circle cx="538.21" cy="628.13" r="0.95" fill="#af1117"/>
<circle cx="538.44" cy="628.19" r="0.95" fill="#a81016"/>
<circle cx="549.6" cy="628.27" r="0.95" fill="#f7593f"/>
<ellipse cx="552.3" cy="642" rx="4.5" ry="1.4" fill="#ffebe2" fill-opacity="1.0"/>
<ellipse cx="552.3" cy="642" rx="2.4" ry="5.2" fill="#ffebe2" fill-opacity="1.0"/>
<path d="M538.1,642 Q540.76,641.2 541.9,638.8 Q543.04,641.2 545.7,642 Q543.04,642.8 541.9,645.2 Q540.76,642.8 538.1,642Z" fill="#ad1117"/>
<circle cx="538.5" cy="641.52" r="0.95" fill="#b51318"/>
<circle cx="539.13" cy="642.61" r="0.95" fill="#c0151b"/>
<circle cx="539.79" cy="643.08" r="0.95" fill="#77040f"/>
<circle cx="540.79" cy="642.09" r="0.95" fill="#cc191d"/>
<circle cx="540.98" cy="641.88" r="0.95" fill="#76040f"/>
<circle cx="541.69" cy="643.73" r="0.95" fill="#d92523"/>
<circle cx="542.33" cy="644.06" r="0.95" fill="#b01117"/>
<circle cx="543.21" cy="642" r="0.95" fill="#960b13"/>
<circle cx="543.93" cy="640.99" r="0.95" fill="#68000d"/>
<circle cx="544.22" cy="644.2" r="0.95" fill="#d82523"/>
<circle cx="544.87" cy="642.39" r="0.95" fill="#6f020e"/>
<circle cx="545.51" cy="642.71" r="0.95" fill="#950b13"/>
<circle cx="557.2" cy="642.01" r="0.95" fill="#fb7555"/>
<ellipse cx="552.3" cy="655.7" rx="4" ry="1.4" fill="#ffebe2" fill-opacity="1.0"/>
<ellipse cx="552.3" cy="655.7" rx="2.4" ry="4.5" fill="#ffebe2" fill-opacity="1.0"/>
<circle cx="533.69" cy="656.05" r="0.95" fill="#d01d1f"/>
<circle cx="534.37" cy="655.81" r="0.95" fill="#da2623"/>
<circle cx="534.81" cy="655.91" r="0.95" fill="#d92623"/>
<circle cx="535.19" cy="655.64" r="0.95" fill="#f03f2e"/>
<circle cx="535.48" cy="655.86" r="0.95" fill="#f6563d"/>
<circle cx="536.07" cy="655.16" r="0.95" fill="#c6171c"/>
<circle cx="536.72" cy="655.55" r="0.95" fill="#e12d26"/>
<circle cx="537.3" cy="656.14" r="0.95" fill="#b21218"/>
<circle cx="537.62" cy="655.84" r="0.95" fill="#f24734"/>
<circle cx="537.94" cy="655.37" r="0.95" fill="#f5513a"/>
<circle cx="538.84" cy="655.92" r="0.95" fill="#c2161b"/>
<circle cx="539.02" cy="655.77" r="0.95" fill="#bd151a"/>
<circle cx="539.68" cy="655.76" r="0.95" fill="#b21218"/>
<circle cx="539.89" cy="655.95" r="0.95" fill="#f5513a"/>
<circle cx="540.52" cy="655.06" r="0.95" fill="#c0151b"/>
<circle cx="541.19" cy="656.01" r="0.95" fill="#b21218"/>
<circle cx="541.67" cy="655.6" r="0.95" fill="#c4161b"/>
<circle cx="542" cy="656.05" r="0.95" fill="#d62221"/>
<path d="M542.8,655.7 Q544.62,654.25 545.4,649.9 Q546.18,654.25 548,655.7 Q546.18,657.15 545.4,661.5 Q544.62,657.15 542.8,655.7Z" fill="#bc141a"/>
<circle cx="565.9" cy="656.6" r="0.95" fill="#7e0610"/>
<circle cx="576.35" cy="655.73" r="0.95" fill="#70020e"/>
<circle cx="577.18" cy="655.96" r="0.95" fill="#74030f"/>
<circle cx="577.88" cy="655.24" r="0.95" fill="#6f020e"/>
<ellipse cx="551" cy="669.4" rx="2.2" ry="1.2" fill="#ffeee6" fill-opacity="1.0"/>
<ellipse cx="551" cy="669.4" rx="1.8" ry="5.5" fill="#ffeee6" fill-opacity="1.0"/>
<circle cx="523" cy="669.79" r="0.95" fill="#68000d"/>
<circle cx="528.56" cy="669.43" r="0.95" fill="#b91419"/>
<circle cx="528.79" cy="669.51" r="0.95" fill="#b51318"/>
<circle cx="529.46" cy="669.58" r="0.95" fill="#77040f"/>
<circle cx="529.58" cy="669.4" r="0.95" fill="#aa1016"/>
<circle cx="530.1" cy="669.21" r="0.95" fill="#68000d"/>
<circle cx="530.62" cy="669.13" r="0.95" fill="#b31218"/>
<circle cx="530.94" cy="669.18" r="0.95" fill="#af1117"/>
<circle cx="531.54" cy="669.7" r="0.95" fill="#c2161b"/>
<circle cx="531.87" cy="669.42" r="0.95" fill="#ab1016"/>
<circle cx="532.1" cy="669.25" r="0.95" fill="#7b0510"/>
<circle cx="532.81" cy="669.07" r="0.95" fill="#860711"/>
<circle cx="533.04" cy="669.62" r="0.95" fill="#9b0d14"/>
<circle cx="533.36" cy="669.36" r="0.95" fill="#a81016"/>
<circle cx="534.11" cy="669.26" r="0.95" fill="#b71319"/>
<circle cx="534.13" cy="669.33" r="0.95" fill="#bf151b"/>
<circle cx="534.88" cy="669.05" r="0.95" fill="#b41318"/>
<circle cx="535.14" cy="668.97" r="0.95" fill="#bb141a"/>
<circle cx="535.61" cy="669.77" r="0.95" fill="#ba1419"/>
<circle cx="536.07" cy="669.05" r="0.95" fill="#b71319"/>
<circle cx="536.32" cy="669.84" r="0.95" fill="#ca181d"/>
<circle cx="536.62" cy="669.16" r="0.95" fill="#7d0510"/>
<circle cx="537.24" cy="669.45" r="0.95" fill="#c9181d"/>
<circle cx="537.82" cy="669.12" r="0.95" fill="#b31218"/>
<circle cx="537.9" cy="669.43" r="0.95" fill="#7d0510"/>
<circle cx="538.59" cy="669.45" r="0.95" fill="#a70f15"/>
<circle cx="538.99" cy="669.19" r="0.95" fill="#980c13"/>
<circle cx="539.19" cy="669.35" r="0.95" fill="#c1161b"/>
<circle cx="539.56" cy="669.1" r="0.95" fill="#69000d"/>
<circle cx="540.13" cy="669.13" r="0.95" fill="#a00e14"/>
<circle cx="540.51" cy="669.59" r="0.95" fill="#ae1117"/>
<circle cx="540.97" cy="669.5" r="0.95" fill="#6f020e"/>
<circle cx="541.22" cy="669.35" r="0.95" fill="#c0151b"/>
<circle cx="541.81" cy="669.09" r="0.95" fill="#6d010e"/>
<circle cx="542.09" cy="669.68" r="0.95" fill="#ae1117"/>
<circle cx="542.65" cy="669.24" r="0.95" fill="#b21218"/>
<circle cx="543.24" cy="669.47" r="0.95" fill="#c8171c"/>
<circle cx="543.57" cy="669.28" r="0.95" fill="#7a050f"/>
<circle cx="543.68" cy="669.18" r="0.95" fill="#b81419"/>
<circle cx="544.3" cy="669.43" r="0.95" fill="#a91016"/>
<circle cx="544.8" cy="669.31" r="0.95" fill="#7f0610"/>
<circle cx="495.54" cy="683.4" r="0.95" fill="#fedaca"/>
<circle cx="497.7" cy="683.43" r="0.95" fill="#fee3d6"/>
<circle cx="500.68" cy="682.67" r="0.95" fill="#fee3d6"/>
<circle cx="504.48" cy="682.99" r="0.95" fill="#ffece3"/>
<circle cx="505.88" cy="685.27" r="0.95" fill="#6c010e"/>
<circle cx="506.58" cy="684.27" r="0.95" fill="#ec382b"/>
<circle cx="507.22" cy="682.18" r="0.95" fill="#c5171c"/>
<circle cx="507.39" cy="683.5" r="0.95" fill="#74030f"/>
<circle cx="508.18" cy="682.2" r="0.95" fill="#b91419"/>
<circle cx="508.92" cy="683.22" r="0.95" fill="#79040f"/>
<circle cx="509.42" cy="682.86" r="0.95" fill="#c8171c"/>
<circle cx="509.92" cy="682.37" r="0.95" fill="#e43027"/>
<circle cx="510.72" cy="683.02" r="0.95" fill="#b21218"/>
<circle cx="510.97" cy="683.41" r="0.95" fill="#d01d1f"/>
<circle cx="511.75" cy="681.53" r="0.95" fill="#ed392b"/>
<circle cx="512.39" cy="682.13" r="0.95" fill="#bf151a"/>
<circle cx="513.01" cy="681.86" r="0.95" fill="#ee3a2c"/>
<circle cx="513.75" cy="682.91" r="0.95" fill="#b31218"/>
<circle cx="514.12" cy="683.24" r="0.95" fill="#dd2924"/>
<circle cx="514.64" cy="683.55" r="0.95" fill="#d21f20"/>
<circle cx="515.5" cy="682.74" r="0.95" fill="#ef3b2c"/>
<circle cx="516" cy="683.67" r="0.95" fill="#d21f20"/>
<circle cx="516.56" cy="680.84" r="0.95" fill="#a30e15"/>
<circle cx="517.42" cy="681.73" r="0.95" fill="#7a050f"/>
<circle cx="517.75" cy="684.86" r="0.95" fill="#ef3c2d"/>
<circle cx="518.18" cy="682.94" r="0.95" fill="#be151a"/>
<circle cx="518.94" cy="682.5" r="0.95" fill="#6e020e"/>
<circle cx="519.32" cy="683.22" r="0.95" fill="#dd2924"/>
<circle cx="519.93" cy="681.89" r="0.95" fill="#810610"/>
<circle cx="520.6" cy="683.39" r="0.95" fill="#c8171c"/>
<circle cx="521.55" cy="683.68" r="0.95" fill="#c0151b"/>
<circle cx="521.65" cy="685.35" r="0.95" fill="#e73429"/>
<circle cx="522.39" cy="683.5" r="0.95" fill="#b71319"/>
<circle cx="523.15" cy="683.37" r="0.95" fill="#c7171c"/>
<circle cx="523.64" cy="681.89" r="0.95" fill="#af1117"/>
<circle cx="524.32" cy="682.31" r="0.95" fill="#75030f"/>
<circle cx="524.81" cy="682.33" r="0.95" fill="#b11218"/>
<circle cx="525.55" cy="684.32" r="0.95" fill="#e22f27"/>
<circle cx="525.84" cy="682.79" r="0.95" fill="#920a13"/>
<circle cx="526.93" cy="681.71" r="0.95" fill="#b21218"/>
<circle cx="527.54" cy="683.26" r="0.95" fill="#f14230"/>
<circle cx="528.08" cy="683.05" r="0.95" fill="#6d010e"/>
<circle cx="528.16" cy="683.1" r="0.95" fill="#ce1b1e"/>
<circle cx="529.21" cy="683.34" r="0.95" fill="#ec382b"/>
<circle cx="529.82" cy="683.11" r="0.95" fill="#e22f27"/>
<circle cx="530.08" cy="682.45" r="0.95" fill="#eb372a"/>
<circle cx="530.98" cy="683.05" r="0.95" fill="#68000d"/>
<circle cx="531.6" cy="683.19" r="0.95" fill="#dc2824"/>
<circle cx="531.99" cy="683.21" r="0.95" fill="#dd2924"/>
<circle cx="532.76" cy="683.81" r="0.95" fill="#c2161b"/>
<circle cx="533.13" cy="683.08" r="0.95" fill="#7e0610"/>
<circle cx="534.06" cy="681.99" r="0.95" fill="#d82523"/>
<circle cx="534.5" cy="683" r="0.95" fill="#ef3b2c"/>
<circle cx="534.87" cy="683.51" r="0.95" fill="#78040f"/>
<ellipse cx="548" cy="683.1" rx="15" ry="1.8" fill="#ffeee6" fill-opacity="1.0"/>
<ellipse cx="548" cy="683.1" rx="12" ry="5.3" fill="#ffeee6" fill-opacity="1.0"/>
<circle cx="535.4" cy="683.04" r="0.95" fill="#fcbda4"/>
<circle cx="536.11" cy="680.86" r="0.95" fill="#fcbea4"/>
<circle cx="536.91" cy="685.44" r="0.95" fill="#ffebe2"/>
<circle cx="537.5" cy="684.59" r="0.95" fill="#fcc1a9"/>
<circle cx="537.96" cy="682.23" r="0.95" fill="#ffebe2"/>
<circle cx="538.87" cy="684.22" r="0.95" fill="#ffefe8"/>
<circle cx="539.14" cy="683.1" r="0.95" fill="#fdd3c1"/>
<circle cx="539.66" cy="685.54" r="0.95" fill="#fed7c6"/>
<circle cx="540.62" cy="686.12" r="0.95" fill="#fdd3c1"/>
<circle cx="541.41" cy="681.86" r="0.95" fill="#fee9e0"/>
<circle cx="542.05" cy="681.33" r="0.95" fill="#fcc0a7"/>
<circle cx="542.43" cy="683.68" r="0.95" fill="#fdc9b3"/>
<circle cx="542.8" cy="684.62" r="0.95" fill="#fff0e9"/>
<circle cx="543.81" cy="682.21" r="0.95" fill="#fee2d5"/>
<circle cx="544.15" cy="682.15" r="0.95" fill="#fedfd0"/>
<circle cx="544.71" cy="684.66" r="0.95" fill="#feeae1"/>
<circle cx="545.42" cy="684.5" r="0.95" fill="#feddce"/>
<circle cx="546.01" cy="682.3" r="0.95" fill="#fdcfbb"/>
<circle cx="546.76" cy="681.57" r="0.95" fill="#fedecf"/>
<circle cx="547.14" cy="684.41" r="0.95" fill="#fcc0a8"/>
<circle cx="548.26" cy="684.03" r="0.95" fill="#fee3d6"/>
<circle cx="548.86" cy="682.3" r="0.95" fill="#feeae0"/>
<circle cx="549.04" cy="682.37" r="0.95" fill="#fee9df"/>
<circle cx="549.8" cy="682.29" r="0.95" fill="#fdc7b0"/>
<circle cx="550.33" cy="683.84" r="0.95" fill="#fee7dd"/>
<circle cx="551.34" cy="680.56" r="0.95" fill="#fdd7c5"/>
<circle cx="551.54" cy="684.91" r="0.95" fill="#fee4d8"/>
<circle cx="552.15" cy="684.3" r="0.95" fill="#fee9de"/>
<circle cx="552.94" cy="681.2" r="0.95" fill="#fee2d5"/>
<circle cx="553.29" cy="685.01" r="0.95" fill="#fee7dc"/>
<circle cx="553.92" cy="684.39" r="0.95" fill="#fedecf"/>
<circle cx="554.59" cy="682.82" r="0.95" fill="#fdcfbb"/>
<circle cx="555.44" cy="684.94" r="0.95" fill="#fed7c6"/>
<circle cx="556.24" cy="685.75" r="0.95" fill="#fcbfa6"/>
<circle cx="556.87" cy="681.23" r="0.95" fill="#fcc3ac"/>
<circle cx="557.08" cy="679.88" r="0.95" fill="#ffeee6"/>
<circle cx="558.08" cy="681.76" r="0.95" fill="#fcc0a8"/>
<circle cx="558.59" cy="682.21" r="0.95" fill="#fee8de"/>
<circle cx="559.01" cy="683.46" r="0.95" fill="#fdcfbc"/>
<circle cx="559.81" cy="684.3" r="0.95" fill="#fdc7b1"/>
<circle cx="535.57" cy="683.05" r="0.95" fill="#c0151b"/>
<circle cx="537.48" cy="681.23" r="0.95" fill="#c0151b"/>
<circle cx="539.64" cy="685.05" r="0.95" fill="#fb7555"/>
<circle cx="541.26" cy="684.34" r="0.95" fill="#c6171c"/>
<circle cx="542.5" cy="682.37" r="0.95" fill="#fb7555"/>
<circle cx="544.96" cy="684.03" r="0.95" fill="#fc8262"/>
<circle cx="545.69" cy="683.1" r="0.95" fill="#e53128"/>
<circle cx="547.1" cy="685.13" r="0.95" fill="#ec382b"/>
<circle cx="549.7" cy="685.62" r="0.95" fill="#e53228"/>
<circle cx="551.81" cy="682.07" r="0.95" fill="#fb6f4f"/>
<circle cx="565.1" cy="683.18" r="0.95" fill="#fee9df"/>
<circle cx="569.22" cy="683.13" r="0.95" fill="#feeae0"/>
<circle cx="570.77" cy="683.28" r="0.95" fill="#fcc2ab"/>
<circle cx="573.23" cy="682.87" r="0.95" fill="#fedecf"/>
<circle cx="574.42" cy="682.87" r="0.95" fill="#fdceba"/>
<circle cx="577.07" cy="683.02" r="0.95" fill="#fee9df"/>
<circle cx="579.14" cy="682.85" r="0.95" fill="#fee8dd"/>
<circle cx="583.41" cy="682.75" r="0.95" fill="#fee9e0"/>
<circle cx="584.5" cy="683.21" r="0.95" fill="#fedfd1"/>
<circle cx="587.41" cy="683.43" r="0.95" fill="#fcbca3"/>
<circle cx="588.98" cy="683.24" r="0.95" fill="#feded0"/>
<circle cx="591.17" cy="682.96" r="0.95" fill="#fdd1be"/>
<circle cx="595.19" cy="682.85" r="0.95" fill="#fdccb8"/>
<circle cx="595.67" cy="683.21" r="0.95" fill="#fcbca2"/>
<circle cx="599.74" cy="683.32" r="0.95" fill="#fdd0bd"/>
<circle cx="600.42" cy="683.38" r="0.95" fill="#fdcfbc"/>
<circle cx="604.54" cy="683.32" r="0.95" fill="#fee2d4"/>
<circle cx="605.43" cy="683.03" r="0.95" fill="#fedaca"/>
<circle cx="609.7" cy="683.1" r="1.1" fill="#73030f"/>
<line x1="0" y1="0.8" x2="685" y2="0.8" stroke="#808080" stroke-width="1.7" />
<line x1="0" y1="16.6" x2="685" y2="16.6" stroke="#808080" stroke-width="1.4" />
<line x1="0" y1="357.9" x2="685" y2="357.9" stroke="#808080" stroke-width="1.4" />
<line x1="0" y1="374.9" x2="685" y2="374.9" stroke="#808080" stroke-width="1.4" />
<line x1="342.6" y1="0" x2="342.6" y2="717" stroke="#808080" stroke-width="1.3" />
</svg></body></html>
